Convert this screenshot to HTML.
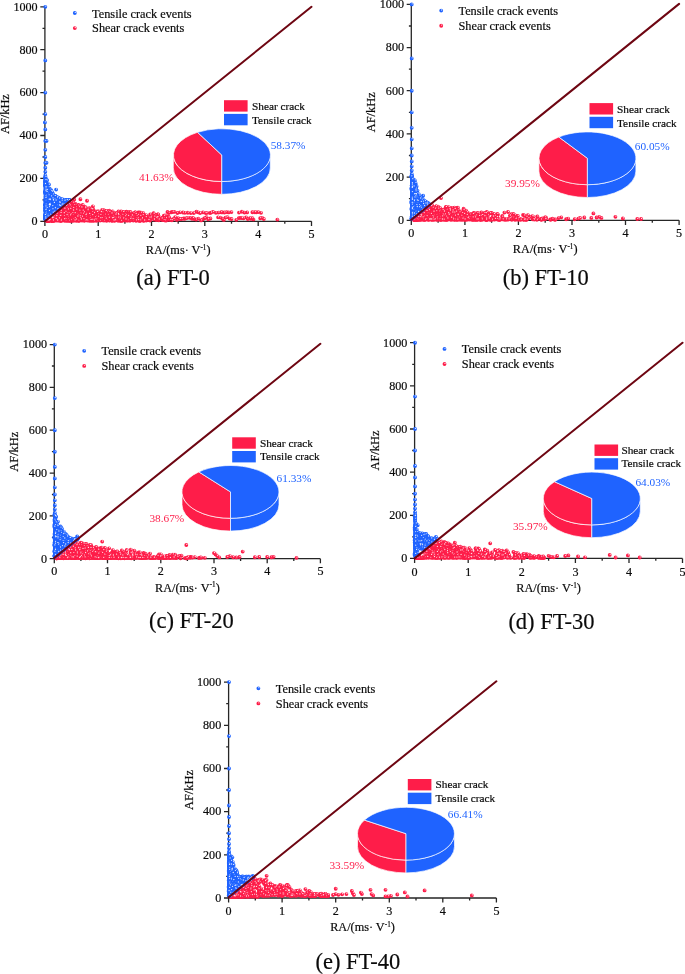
<!DOCTYPE html>
<html lang="en">
<head>
<meta charset="utf-8">
<title>RA-AF crack classification</title>
<style>
html,body{margin:0;padding:0;background:#fff;}
body{width:685px;height:974px;overflow:hidden;}
svg{display:block;font-family:"Liberation Serif", "DejaVu Serif", serif;}
.t{fill:#0a0a0a;stroke:#0a0a0a;stroke-width:.18px;}
.pb{fill:#1F63FF;stroke:#1F63FF;stroke-width:0;font-size:11.3px;}
.pr{fill:#FE1D49;stroke:#FE1D49;stroke-width:0;font-size:11.3px;}
.m{fill:none;stroke-width:3.85;stroke-linecap:round;}
.h{fill:none;stroke:#fff;stroke-width:1.3;stroke-linecap:round;stroke-opacity:.85;transform:translate(.5px,-.6px);}
</style>
</head>
<body>
<svg width="685" height="974" viewBox="0 0 685 974">
<rect width="685" height="974" fill="#fff"/>
<g id="panel-a">
<path d="M44.9 221.3v4.6M71.5 221.3v2.4M98.2 221.3v4.6M124.9 221.3v2.4M151.5 221.3v4.6M178.2 221.3v2.4M204.8 221.3v4.6M231.5 221.3v2.4M258.2 221.3v4.6M284.8 221.3v2.4M311.5 221.3v4.6M44.9 221.3h-4.6M44.9 199.9h-2.4M44.9 178.4h-4.6M44.9 157h-2.4M44.9 135.5h-4.6M44.9 114.1h-2.4M44.9 92.6h-4.6M44.9 71.2h-2.4M44.9 49.7h-4.6M44.9 28.3h-2.4M44.9 6.8h-4.6M44.9 6.8V221.3H311.5" fill="none" stroke="#262626" stroke-width="1.3"/>
<g class="t" font-size="12.1">
<text x="44.9" y="237.7" text-anchor="middle">0</text>
<text x="98.2" y="237.7" text-anchor="middle">1</text>
<text x="151.5" y="237.7" text-anchor="middle">2</text>
<text x="204.8" y="237.7" text-anchor="middle">3</text>
<text x="258.2" y="237.7" text-anchor="middle">4</text>
<text x="311.5" y="237.7" text-anchor="middle">5</text>
<text x="37.6" y="225.1" text-anchor="end">0</text>
<text x="37.6" y="182.2" text-anchor="end">200</text>
<text x="37.6" y="139.3" text-anchor="end">400</text>
<text x="37.6" y="96.4" text-anchor="end">600</text>
<text x="37.6" y="53.5" text-anchor="end">800</text>
<text x="37.6" y="10.6" text-anchor="end">1000</text>
<text x="178.2" y="254.2" text-anchor="middle" font-size="12.25">RA/(ms· V<tspan font-size="7.2" dy="-4.2">-1</tspan><tspan dy="4.2">)</tspan></text>
<text transform="translate(8.9 114.1) rotate(-90)" text-anchor="middle" font-size="12.4">AF/kHz</text>
<text x="92.1" y="17.5" font-size="12.3">Tensile crack events</text>
<text x="92.1" y="32.4" font-size="12.3">Shear crack events</text>
</g>
<g stroke="#FE1D49"><path class="m" d="M256.3 212.3h0M109.3 210.7h0M92.4 210.6h0M53.2 217.9h0M164.8 218.8h0M202.8 219.3h0M121.8 220.3h0M177.4 213h0M94.9 215.3h0M64.4 211.4h0M121.8 217.8h0M114.7 218.8h0M52.4 218.6h0M68.3 211.5h0M146.3 220.5h0M103.7 210.5h0M58.4 212.6h0M54.8 216.4h0M72.7 217.4h0M111.8 218.7h0M246.1 217.4h0M97.1 218.9h0M72.8 219.7h0M51.7 220.5h0M106.6 218h0M162.6 220.1h0M61.9 219.7h0M58.6 213.1h0M158 214.3h0M162.1 218.4h0"/><path class="h" d="M256.3 212.3h0M109.3 210.7h0M92.4 210.6h0M53.2 217.9h0M164.8 218.8h0M202.8 219.3h0M121.8 220.3h0M177.4 213h0M94.9 215.3h0M64.4 211.4h0M121.8 217.8h0M114.7 218.8h0M52.4 218.6h0M68.3 211.5h0M146.3 220.5h0M103.7 210.5h0M58.4 212.6h0M54.8 216.4h0M72.7 217.4h0M111.8 218.7h0M246.1 217.4h0M97.1 218.9h0M72.8 219.7h0M51.7 220.5h0M106.6 218h0M162.6 220.1h0M61.9 219.7h0M58.6 213.1h0M158 214.3h0M162.1 218.4h0"/><path class="m" d="M63.3 208.6h0M61.9 215.2h0M206.5 217.2h0M61.7 214.7h0M57.3 216.7h0M140.2 219h0M169.9 219h0M132.6 219.2h0M156.2 220h0M47.2 220.8h0M166.5 217.5h0M68 219.3h0M144.7 217.5h0M75.5 217.6h0M56.4 215.3h0M109 215.7h0M151.3 218.3h0M102.5 211.2h0M126.4 211.6h0M239 212.6h0M73.2 210.1h0M72.2 202.9h0M78.2 215.8h0M78 213.7h0M82.2 213.1h0M262.2 217.8h0M77.3 212.7h0M66.3 214.1h0M84.9 209h0M60.6 219h0"/><path class="h" d="M63.3 208.6h0M61.9 215.2h0M206.5 217.2h0M61.7 214.7h0M57.3 216.7h0M140.2 219h0M169.9 219h0M132.6 219.2h0M156.2 220h0M47.2 220.8h0M166.5 217.5h0M68 219.3h0M144.7 217.5h0M75.5 217.6h0M56.4 215.3h0M109 215.7h0M151.3 218.3h0M102.5 211.2h0M126.4 211.6h0M239 212.6h0M73.2 210.1h0M72.2 202.9h0M78.2 215.8h0M78 213.7h0M82.2 213.1h0M262.2 217.8h0M77.3 212.7h0M66.3 214.1h0M84.9 209h0M60.6 219h0"/><path class="m" d="M58.4 217.7h0M130.2 220.4h0M52.9 219.6h0M75.7 212.5h0M48.7 220.7h0M227.3 217.1h0M108.4 219.3h0M57.6 214.7h0M83.6 215.8h0M69.2 208.7h0M184.9 212.8h0M95.6 219.9h0M52.2 219.6h0M89.5 220.7h0M87 200.7h0M97.9 220.4h0M109.8 219.9h0M52.8 220.3h0M90.7 217.4h0M49 220.3h0M65.4 220.4h0M68.6 215.6h0M49.9 219.9h0M75.1 211.2h0M88.3 220.3h0M60 217.6h0M140.3 216.9h0M53.7 220.7h0M70.1 220.7h0M123.6 219.4h0"/><path class="h" d="M58.4 217.7h0M130.2 220.4h0M52.9 219.6h0M75.7 212.5h0M48.7 220.7h0M227.3 217.1h0M108.4 219.3h0M57.6 214.7h0M83.6 215.8h0M69.2 208.7h0M184.9 212.8h0M95.6 219.9h0M52.2 219.6h0M89.5 220.7h0M87 200.7h0M97.9 220.4h0M109.8 219.9h0M52.8 220.3h0M90.7 217.4h0M49 220.3h0M65.4 220.4h0M68.6 215.6h0M49.9 219.9h0M75.1 211.2h0M88.3 220.3h0M60 217.6h0M140.3 216.9h0M53.7 220.7h0M70.1 220.7h0M123.6 219.4h0"/><path class="m" d="M238.8 218.1h0M86.5 210.4h0M155.7 215h0M74.5 205.9h0M87.2 217h0M69.7 219.4h0M65.3 215.3h0M52.4 218.4h0M84.4 214.4h0M57.5 215h0M60.9 220.5h0M129.7 219.7h0M105.9 219.8h0M53.7 220.5h0M76.6 219.8h0M153.7 216.8h0M114.5 220.2h0M51.9 219.2h0M57.3 215.9h0M133.2 213.6h0M143.4 220.7h0M77.2 207.4h0M142.9 220.2h0M117.9 214.5h0M87.5 218.8h0M109 215.6h0M161.9 218.2h0M153.3 213.7h0M74.9 214.2h0M49.4 219.4h0"/><path class="h" d="M238.8 218.1h0M86.5 210.4h0M155.7 215h0M74.5 205.9h0M87.2 217h0M69.7 219.4h0M65.3 215.3h0M52.4 218.4h0M84.4 214.4h0M57.5 215h0M60.9 220.5h0M129.7 219.7h0M105.9 219.8h0M53.7 220.5h0M76.6 219.8h0M153.7 216.8h0M114.5 220.2h0M51.9 219.2h0M57.3 215.9h0M133.2 213.6h0M143.4 220.7h0M77.2 207.4h0M142.9 220.2h0M117.9 214.5h0M87.5 218.8h0M109 215.6h0M161.9 218.2h0M153.3 213.7h0M74.9 214.2h0M49.4 219.4h0"/><path class="m" d="M203 212.4h0M166.2 220.5h0M62.3 212.3h0M71.2 219.3h0M114.6 220.1h0M77.3 215.1h0M55.3 214.7h0M53.9 220.1h0M53 218.3h0M59.6 211.3h0M67.7 220.8h0M162.1 218.7h0M68.7 203.8h0M88.7 212h0M146 215.1h0M104.2 218.6h0M143.3 213.1h0M87.4 208.7h0M91.8 213.2h0M121.4 214.2h0M111.5 216.7h0M76.2 213.1h0M207.1 212.8h0M53.6 219.4h0M168.4 216.1h0M48.3 220.7h0M254.9 212.2h0M223.8 219.9h0M51.8 220.8h0M72.2 216.7h0"/><path class="h" d="M203 212.4h0M166.2 220.5h0M62.3 212.3h0M71.2 219.3h0M114.6 220.1h0M77.3 215.1h0M55.3 214.7h0M53.9 220.1h0M53 218.3h0M59.6 211.3h0M67.7 220.8h0M162.1 218.7h0M68.7 203.8h0M88.7 212h0M146 215.1h0M104.2 218.6h0M143.3 213.1h0M87.4 208.7h0M91.8 213.2h0M121.4 214.2h0M111.5 216.7h0M76.2 213.1h0M207.1 212.8h0M53.6 219.4h0M168.4 216.1h0M48.3 220.7h0M254.9 212.2h0M223.8 219.9h0M51.8 220.8h0M72.2 216.7h0"/><path class="m" d="M116.3 214h0M72.1 217.5h0M133.4 216.4h0M118.5 211.4h0M54.8 219.4h0M147.2 217.5h0M65.7 213.5h0M61.8 214.1h0M58.6 219.7h0M57.1 220h0M52.9 217.2h0M104 212.9h0M66.6 205.4h0M132.3 220.1h0M101.4 213.6h0M58.5 218.4h0M75.3 203.7h0M91.8 208.3h0M55.4 218.5h0M130.2 214.8h0M56.4 216.5h0M51.8 220.8h0M96.6 215.9h0M61.5 213.2h0M236.3 219.8h0M128.7 219.2h0M106.9 212.7h0M48.9 220h0M127.6 212.6h0M74.8 208h0"/><path class="h" d="M116.3 214h0M72.1 217.5h0M133.4 216.4h0M118.5 211.4h0M54.8 219.4h0M147.2 217.5h0M65.7 213.5h0M61.8 214.1h0M58.6 219.7h0M57.1 220h0M52.9 217.2h0M104 212.9h0M66.6 205.4h0M132.3 220.1h0M101.4 213.6h0M58.5 218.4h0M75.3 203.7h0M91.8 208.3h0M55.4 218.5h0M130.2 214.8h0M56.4 216.5h0M51.8 220.8h0M96.6 215.9h0M61.5 213.2h0M236.3 219.8h0M128.7 219.2h0M106.9 212.7h0M48.9 220h0M127.6 212.6h0M74.8 208h0"/><path class="m" d="M159 219.5h0M104.1 216.5h0M62 209.7h0M229.6 218.6h0M51.1 220h0M102.4 215.3h0M56.3 216.4h0M70.5 220h0M120.5 214.2h0M51.1 218.9h0M88.2 220.1h0M72.9 210.8h0M99.5 217.5h0M253.4 219.4h0M127.3 217.1h0M75.4 206h0M57.4 219.5h0M59.8 211.1h0M81.6 220.4h0M64.3 215.6h0M74.4 217.9h0M168.2 219.7h0M103.4 216.5h0M107.7 219.6h0M77.9 207.1h0M95.2 217.4h0M84.5 220.3h0M69.7 217.2h0M56.3 218.5h0M72.3 209.6h0"/><path class="h" d="M159 219.5h0M104.1 216.5h0M62 209.7h0M229.6 218.6h0M51.1 220h0M102.4 215.3h0M56.3 216.4h0M70.5 220h0M120.5 214.2h0M51.1 218.9h0M88.2 220.1h0M72.9 210.8h0M99.5 217.5h0M253.4 219.4h0M127.3 217.1h0M75.4 206h0M57.4 219.5h0M59.8 211.1h0M81.6 220.4h0M64.3 215.6h0M74.4 217.9h0M168.2 219.7h0M103.4 216.5h0M107.7 219.6h0M77.9 207.1h0M95.2 217.4h0M84.5 220.3h0M69.7 217.2h0M56.3 218.5h0M72.3 209.6h0"/><path class="m" d="M104.1 210.5h0M79.9 212.4h0M74.8 214.9h0M56.7 214.4h0M90.1 209.2h0M51.7 220.5h0M60 220.5h0M63 219.7h0M48.9 219.8h0M66.6 217.6h0M95.9 213.1h0M92.1 219.2h0M240.3 217.9h0M73.1 211h0M68.9 217.5h0M62 214.7h0M101.6 216.7h0M109.3 220.3h0M94.3 220.4h0M79.6 210.3h0M84.1 220.6h0M54.8 215.8h0M53.5 217.6h0M101.4 213.4h0M250.9 218.7h0M92.2 217.7h0M62.7 216.6h0M75.6 220.4h0M54.1 220.3h0M57.7 216h0"/><path class="h" d="M104.1 210.5h0M79.9 212.4h0M74.8 214.9h0M56.7 214.4h0M90.1 209.2h0M51.7 220.5h0M60 220.5h0M63 219.7h0M48.9 219.8h0M66.6 217.6h0M95.9 213.1h0M92.1 219.2h0M240.3 217.9h0M73.1 211h0M68.9 217.5h0M62 214.7h0M101.6 216.7h0M109.3 220.3h0M94.3 220.4h0M79.6 210.3h0M84.1 220.6h0M54.8 215.8h0M53.5 217.6h0M101.4 213.4h0M250.9 218.7h0M92.2 217.7h0M62.7 216.6h0M75.6 220.4h0M54.1 220.3h0M57.7 216h0"/><path class="m" d="M60.8 210.8h0M79.5 216.1h0M210.4 218.5h0M50.4 220.5h0M140.4 220.5h0M167.4 217.2h0M71.3 212.2h0M61.6 214.4h0M61.6 220h0M93.7 220.6h0M263.8 219h0M47.3 220.8h0M69.2 208.7h0M164.3 220.1h0M129.7 220.6h0M47.8 220.6h0M190.1 217.9h0M75.7 204.9h0M90.8 220.1h0M79 219.7h0M196.4 211.7h0M112.1 220.6h0M91.1 210.2h0M103.4 211.8h0M104.2 216.4h0M54.4 217.6h0M89.1 217.1h0M100.1 220.6h0M101.9 211.7h0M73.7 212.1h0"/><path class="h" d="M60.8 210.8h0M79.5 216.1h0M210.4 218.5h0M50.4 220.5h0M140.4 220.5h0M167.4 217.2h0M71.3 212.2h0M61.6 214.4h0M61.6 220h0M93.7 220.6h0M263.8 219h0M47.3 220.8h0M69.2 208.7h0M164.3 220.1h0M129.7 220.6h0M47.8 220.6h0M190.1 217.9h0M75.7 204.9h0M90.8 220.1h0M79 219.7h0M196.4 211.7h0M112.1 220.6h0M91.1 210.2h0M103.4 211.8h0M104.2 216.4h0M54.4 217.6h0M89.1 217.1h0M100.1 220.6h0M101.9 211.7h0M73.7 212.1h0"/><path class="m" d="M50.9 220.2h0M104.6 216.8h0M97.4 212.6h0M78.2 205.4h0M126.8 212h0M48.8 220.4h0M50.7 218.6h0M50.3 219.5h0M104.8 216.7h0M136.3 215.6h0M71.3 220.6h0M175.2 217.1h0M108.2 211h0M57.1 217.7h0M87.9 208.8h0M54.5 216.3h0M95.7 219.2h0M94.1 211.8h0M122 219.5h0M153.6 213.2h0M183.6 218.4h0M55.7 217h0M58 217.8h0M60.7 220.5h0M71.2 215.9h0M73.9 214.2h0M59.7 220.6h0M64.7 211h0M90.7 215.9h0M154 217.6h0"/><path class="h" d="M50.9 220.2h0M104.6 216.8h0M97.4 212.6h0M78.2 205.4h0M126.8 212h0M48.8 220.4h0M50.7 218.6h0M50.3 219.5h0M104.8 216.7h0M136.3 215.6h0M71.3 220.6h0M175.2 217.1h0M108.2 211h0M57.1 217.7h0M87.9 208.8h0M54.5 216.3h0M95.7 219.2h0M94.1 211.8h0M122 219.5h0M153.6 213.2h0M183.6 218.4h0M55.7 217h0M58 217.8h0M60.7 220.5h0M71.2 215.9h0M73.9 214.2h0M59.7 220.6h0M64.7 211h0M90.7 215.9h0M154 217.6h0"/><path class="m" d="M59.4 216.9h0M260.2 218.2h0M147.6 217.7h0M75.5 218.1h0M158.9 220.3h0M89.3 210.1h0M129.9 220.1h0M99.2 217.4h0M59.1 215.7h0M145.1 219.8h0M187.8 212.7h0M208.2 219.2h0M258.3 212.1h0M120.7 215.6h0M61.5 220.7h0M75.1 218h0M121.2 214.7h0M85.3 216h0M130.2 220h0M187.4 217.8h0M158 214.4h0M153.7 213.8h0M97.4 218.5h0M52.2 219.9h0M138.2 212.3h0M62.8 217.5h0M82 220.4h0M93.7 213.8h0M106.6 220.8h0M68.3 212.3h0"/><path class="h" d="M59.4 216.9h0M260.2 218.2h0M147.6 217.7h0M75.5 218.1h0M158.9 220.3h0M89.3 210.1h0M129.9 220.1h0M99.2 217.4h0M59.1 215.7h0M145.1 219.8h0M187.8 212.7h0M208.2 219.2h0M258.3 212.1h0M120.7 215.6h0M61.5 220.7h0M75.1 218h0M121.2 214.7h0M85.3 216h0M130.2 220h0M187.4 217.8h0M158 214.4h0M153.7 213.8h0M97.4 218.5h0M52.2 219.9h0M138.2 212.3h0M62.8 217.5h0M82 220.4h0M93.7 213.8h0M106.6 220.8h0M68.3 212.3h0"/><path class="m" d="M176.9 219.9h0M75.6 208.2h0M102.2 209.8h0M148.3 217h0M64.3 220.3h0M52.6 218.7h0M71.3 219.4h0M184.5 218.7h0M51.2 219.7h0M181.6 219h0M201.1 220.4h0M220.5 217.6h0M54.4 216.8h0M72.6 215.1h0M136 220.7h0M107.9 213.9h0M98.1 214.3h0M110.7 216.2h0M74 214.6h0M73.7 209.6h0M71.9 218.1h0M71.3 206.8h0M129.1 216.7h0M70.4 220.5h0M92.5 220.6h0M92.4 216.6h0M57.5 217.3h0M135.9 220.4h0M88.9 213h0M166.4 217.1h0"/><path class="h" d="M176.9 219.9h0M75.6 208.2h0M102.2 209.8h0M148.3 217h0M64.3 220.3h0M52.6 218.7h0M71.3 219.4h0M184.5 218.7h0M51.2 219.7h0M181.6 219h0M201.1 220.4h0M220.5 217.6h0M54.4 216.8h0M72.6 215.1h0M136 220.7h0M107.9 213.9h0M98.1 214.3h0M110.7 216.2h0M74 214.6h0M73.7 209.6h0M71.9 218.1h0M71.3 206.8h0M129.1 216.7h0M70.4 220.5h0M92.5 220.6h0M92.4 216.6h0M57.5 217.3h0M135.9 220.4h0M88.9 213h0M166.4 217.1h0"/><path class="m" d="M108.8 215.6h0M226.6 212.1h0M78.8 209.5h0M76.3 207.2h0M48.5 220.2h0M105.5 218.6h0M92.7 208.7h0M73 204.4h0M78.3 216.6h0M162.2 219.6h0M79.8 220.5h0M89 216.5h0M150 220.6h0M167.5 212h0M244.5 212.6h0M89.9 220h0M55.8 215.9h0M106.5 217.2h0M47.8 220.7h0M225.5 217.6h0M53 217.5h0M142.4 215.1h0M52.8 218.3h0M47.1 220.8h0M78.1 215.5h0M164.8 220.3h0M80.7 218.2h0M109.3 220.6h0M68 217.8h0M51.8 220.5h0"/><path class="h" d="M108.8 215.6h0M226.6 212.1h0M78.8 209.5h0M76.3 207.2h0M48.5 220.2h0M105.5 218.6h0M92.7 208.7h0M73 204.4h0M78.3 216.6h0M162.2 219.6h0M79.8 220.5h0M89 216.5h0M150 220.6h0M167.5 212h0M244.5 212.6h0M89.9 220h0M55.8 215.9h0M106.5 217.2h0M47.8 220.7h0M225.5 217.6h0M53 217.5h0M142.4 215.1h0M52.8 218.3h0M47.1 220.8h0M78.1 215.5h0M164.8 220.3h0M80.7 218.2h0M109.3 220.6h0M68 217.8h0M51.8 220.5h0"/><path class="m" d="M63.6 209.1h0M52.1 217.2h0M135.9 217.6h0M128.4 215.2h0M53.9 220.6h0M73 202.7h0M120.5 220.7h0M133.3 220.5h0M135.3 212.5h0M54.7 217.7h0M48.9 219.7h0M168.9 212.9h0M58.6 220.6h0M252.4 212.2h0M168.8 217.6h0M130.8 214.7h0M57.7 216.7h0M82.6 207.6h0M116.2 214.8h0M55.5 215.8h0M123.3 214.4h0M54.4 215.5h0M103.4 216h0M164 215.7h0M62.9 220.3h0M119.4 220.6h0M125 219.5h0M87.6 218.2h0M53.7 220.5h0M83.2 213.6h0"/><path class="h" d="M63.6 209.1h0M52.1 217.2h0M135.9 217.6h0M128.4 215.2h0M53.9 220.6h0M73 202.7h0M120.5 220.7h0M133.3 220.5h0M135.3 212.5h0M54.7 217.7h0M48.9 219.7h0M168.9 212.9h0M58.6 220.6h0M252.4 212.2h0M168.8 217.6h0M130.8 214.7h0M57.7 216.7h0M82.6 207.6h0M116.2 214.8h0M55.5 215.8h0M123.3 214.4h0M54.4 215.5h0M103.4 216h0M164 215.7h0M62.9 220.3h0M119.4 220.6h0M125 219.5h0M87.6 218.2h0M53.7 220.5h0M83.2 213.6h0"/><path class="m" d="M50.3 219.4h0M64.5 219.1h0M78.6 205h0M110 218.7h0M132.5 219.1h0M74.1 211h0M120.3 216.3h0M112.7 218.6h0M90.7 214.3h0M79.7 205.5h0M130.3 211.8h0M81.8 209.9h0M87.6 216h0M261 212.8h0M72.5 220.7h0M52.2 218.6h0M65.8 212.3h0M135.2 212.4h0M50.8 218.2h0M148.7 219.2h0M125.9 215.8h0M56.9 217.9h0M59.7 217.8h0M198.2 212.3h0M73.4 202.7h0M133.7 213.2h0M65.7 210h0M53.7 220.4h0M87.8 211.5h0M96.2 220.8h0"/><path class="h" d="M50.3 219.4h0M64.5 219.1h0M78.6 205h0M110 218.7h0M132.5 219.1h0M74.1 211h0M120.3 216.3h0M112.7 218.6h0M90.7 214.3h0M79.7 205.5h0M130.3 211.8h0M81.8 209.9h0M87.6 216h0M261 212.8h0M72.5 220.7h0M52.2 218.6h0M65.8 212.3h0M135.2 212.4h0M50.8 218.2h0M148.7 219.2h0M125.9 215.8h0M56.9 217.9h0M59.7 217.8h0M198.2 212.3h0M73.4 202.7h0M133.7 213.2h0M65.7 210h0M53.7 220.4h0M87.8 211.5h0M96.2 220.8h0"/><path class="m" d="M69.1 211.2h0M59.6 216.7h0M83.8 218.7h0M164.5 216.9h0M213 211.9h0M166 218.1h0M128.3 214.2h0M64.5 213.8h0M125.2 214.6h0M162.1 217.9h0M87.6 220.6h0M84.4 218.4h0M55.1 215.9h0M66.9 219.6h0M247.1 212.4h0M55.2 216.1h0M123.9 212.3h0M127.5 220.5h0M61.1 213.2h0M71.6 204.3h0M168.6 217.2h0M86.1 220.4h0M121.1 211.5h0M58.6 219.7h0M63.8 209.2h0M114.4 216.9h0M109.5 213.7h0M95.5 219.5h0M87.3 212h0M61.6 214.8h0"/><path class="h" d="M69.1 211.2h0M59.6 216.7h0M83.8 218.7h0M164.5 216.9h0M213 211.9h0M166 218.1h0M128.3 214.2h0M64.5 213.8h0M125.2 214.6h0M162.1 217.9h0M87.6 220.6h0M84.4 218.4h0M55.1 215.9h0M66.9 219.6h0M247.1 212.4h0M55.2 216.1h0M123.9 212.3h0M127.5 220.5h0M61.1 213.2h0M71.6 204.3h0M168.6 217.2h0M86.1 220.4h0M121.1 211.5h0M58.6 219.7h0M63.8 209.2h0M114.4 216.9h0M109.5 213.7h0M95.5 219.5h0M87.3 212h0M61.6 214.8h0"/><path class="m" d="M48.8 220.4h0M50.6 220h0M66.5 217.9h0M62.9 213.3h0M168.7 217.5h0M165.1 220.4h0M56.5 218.7h0M49.5 220.1h0M68.6 211.8h0M76.4 217h0M158.5 219.8h0M61.4 216h0M93.4 219.8h0M89.8 218.5h0M53.6 218h0M70.5 210h0M67.1 210.5h0M60 218.2h0M222.5 218.7h0M210 213.1h0M139 220.7h0M73.5 220.4h0M59.5 214.4h0M129.4 217.9h0M66.2 220.7h0M47.6 220.7h0M60.5 219.4h0M65.5 210.7h0M126.7 218.4h0M60.6 217.7h0"/><path class="h" d="M48.8 220.4h0M50.6 220h0M66.5 217.9h0M62.9 213.3h0M168.7 217.5h0M165.1 220.4h0M56.5 218.7h0M49.5 220.1h0M68.6 211.8h0M76.4 217h0M158.5 219.8h0M61.4 216h0M93.4 219.8h0M89.8 218.5h0M53.6 218h0M70.5 210h0M67.1 210.5h0M60 218.2h0M222.5 218.7h0M210 213.1h0M139 220.7h0M73.5 220.4h0M59.5 214.4h0M129.4 217.9h0M66.2 220.7h0M47.6 220.7h0M60.5 219.4h0M65.5 210.7h0M126.7 218.4h0M60.6 217.7h0"/><path class="m" d="M60.9 218.3h0M84.4 220.6h0M48.5 220.4h0M55.2 215.5h0M71.5 202h0M47.9 220.5h0M200.1 213.1h0M163.6 220h0M228.6 212.4h0M190.8 213.1h0M111.9 220.8h0M83.6 207.4h0M114.5 219.8h0M47.7 220.6h0M157.2 219.1h0M121.7 214h0M72.4 204.4h0M160.1 217.4h0M93.2 209.4h0M78.5 205.7h0M83 220.4h0M66.6 217.1h0M119.5 220.2h0M73.2 207.9h0M222.4 212.4h0M91.5 220.8h0M95 212.8h0M80.9 206h0M111.9 220.7h0M106.5 219.6h0"/><path class="h" d="M60.9 218.3h0M84.4 220.6h0M48.5 220.4h0M55.2 215.5h0M71.5 202h0M47.9 220.5h0M200.1 213.1h0M163.6 220h0M228.6 212.4h0M190.8 213.1h0M111.9 220.8h0M83.6 207.4h0M114.5 219.8h0M47.7 220.6h0M157.2 219.1h0M121.7 214h0M72.4 204.4h0M160.1 217.4h0M93.2 209.4h0M78.5 205.7h0M83 220.4h0M66.6 217.1h0M119.5 220.2h0M73.2 207.9h0M222.4 212.4h0M91.5 220.8h0M95 212.8h0M80.9 206h0M111.9 220.7h0M106.5 219.6h0"/><path class="m" d="M114.5 220.5h0M99.7 216h0M144.9 218.6h0M118.4 220.6h0M55.9 216.3h0M77 211h0M71.8 219.4h0M103.9 215h0M123.5 218h0M106 215.2h0M116.3 219.9h0M85.5 214.7h0M85.1 207h0M68.5 212.9h0M71.8 216.4h0M114.6 219.1h0M52.3 217.2h0M91.4 215.4h0M105.7 211.7h0M205.7 213.1h0M74.7 213.3h0M90.4 220.4h0M69.8 208.5h0M50.1 219.8h0M243.6 218.3h0M110.6 217.6h0M194.2 219.1h0M104.1 216.3h0M74.1 204.8h0M64.1 215.1h0"/><path class="h" d="M114.5 220.5h0M99.7 216h0M144.9 218.6h0M118.4 220.6h0M55.9 216.3h0M77 211h0M71.8 219.4h0M103.9 215h0M123.5 218h0M106 215.2h0M116.3 219.9h0M85.5 214.7h0M85.1 207h0M68.5 212.9h0M71.8 216.4h0M114.6 219.1h0M52.3 217.2h0M91.4 215.4h0M105.7 211.7h0M205.7 213.1h0M74.7 213.3h0M90.4 220.4h0M69.8 208.5h0M50.1 219.8h0M243.6 218.3h0M110.6 217.6h0M194.2 219.1h0M104.1 216.3h0M74.1 204.8h0M64.1 215.1h0"/><path class="m" d="M56 215.7h0M48.8 219.7h0M91.7 219.3h0M66.7 210.7h0M116.5 212.9h0M109.5 211.9h0M63.8 220.4h0M218.1 217.3h0M196.1 219.5h0M65 212.6h0M192 218.7h0M150 219.1h0M64.3 217.6h0M178.1 218.1h0M122.3 220.6h0M131.9 215.5h0M87.3 209.8h0M125.8 218.7h0M65.1 207.4h0M67.3 213.7h0M69.1 220.7h0M171.4 212.2h0M93.7 220.6h0M87.6 211.3h0M82.1 216.8h0M105.2 216.8h0M107.2 216.3h0M127.7 216.6h0M114.2 219.4h0M74.9 218.2h0"/><path class="h" d="M56 215.7h0M48.8 219.7h0M91.7 219.3h0M66.7 210.7h0M116.5 212.9h0M109.5 211.9h0M63.8 220.4h0M218.1 217.3h0M196.1 219.5h0M65 212.6h0M192 218.7h0M150 219.1h0M64.3 217.6h0M178.1 218.1h0M122.3 220.6h0M131.9 215.5h0M87.3 209.8h0M125.8 218.7h0M65.1 207.4h0M67.3 213.7h0M69.1 220.7h0M171.4 212.2h0M93.7 220.6h0M87.6 211.3h0M82.1 216.8h0M105.2 216.8h0M107.2 216.3h0M127.7 216.6h0M114.2 219.4h0M74.9 218.2h0"/><path class="m" d="M53.2 218h0M89.3 208.2h0M139.6 212.5h0M49 220.6h0M77.2 215h0M221.2 212.2h0M99.3 217.9h0M54.3 216.4h0M83.5 219.2h0M102.3 212.4h0M105.9 216.2h0M59.7 216.7h0M130 218.4h0M58 217.4h0M91.6 211.6h0M52 217.1h0M241.9 211.7h0M80.6 213.3h0M72.4 215h0M53.4 219.2h0M150.2 214.5h0M74.2 199.4h0M110.5 217.5h0M101.7 218.1h0M60.6 213h0M69.9 208.5h0M91.2 211.8h0M98.2 216.8h0M140.2 220.7h0M113.6 213h0"/><path class="h" d="M53.2 218h0M89.3 208.2h0M139.6 212.5h0M49 220.6h0M77.2 215h0M221.2 212.2h0M99.3 217.9h0M54.3 216.4h0M83.5 219.2h0M102.3 212.4h0M105.9 216.2h0M59.7 216.7h0M130 218.4h0M58 217.4h0M91.6 211.6h0M52 217.1h0M241.9 211.7h0M80.6 213.3h0M72.4 215h0M53.4 219.2h0M150.2 214.5h0M74.2 199.4h0M110.5 217.5h0M101.7 218.1h0M60.6 213h0M69.9 208.5h0M91.2 211.8h0M98.2 216.8h0M140.2 220.7h0M113.6 213h0"/><path class="m" d="M64.2 217h0M68.9 204h0M128.7 212.1h0M128.1 220.4h0M126 215.2h0M204.6 218.2h0M173.5 218.9h0M49.1 220.4h0M122.5 220.6h0M87.6 208.7h0M119.6 218.1h0M211.1 212.6h0M122.4 214.6h0M60.5 216.7h0M68.9 214.6h0M117.7 220.5h0M165.1 215.5h0M145.8 217.2h0M68 218.4h0M180 212.3h0M103.6 215.5h0M53.1 217.8h0M60.8 220.6h0M73.4 219.4h0M72.7 220.3h0M92.9 206.3h0M50.4 218.8h0M142.7 215.2h0M125 220.4h0M92.2 220h0"/><path class="h" d="M64.2 217h0M68.9 204h0M128.7 212.1h0M128.1 220.4h0M126 215.2h0M204.6 218.2h0M173.5 218.9h0M49.1 220.4h0M122.5 220.6h0M87.6 208.7h0M119.6 218.1h0M211.1 212.6h0M122.4 214.6h0M60.5 216.7h0M68.9 214.6h0M117.7 220.5h0M165.1 215.5h0M145.8 217.2h0M68 218.4h0M180 212.3h0M103.6 215.5h0M53.1 217.8h0M60.8 220.6h0M73.4 219.4h0M72.7 220.3h0M92.9 206.3h0M50.4 218.8h0M142.7 215.2h0M125 220.4h0M92.2 220h0"/><path class="m" d="M55.2 218h0M83 206.3h0M71.4 220.2h0M56.1 218.7h0M67.1 205h0M112.3 219h0M54.6 216.4h0M193.8 213.1h0M80 218h0M115.1 220.5h0M48.3 220.6h0M125.5 219.8h0M53.9 219.6h0M78.3 215.7h0M55.2 217.7h0M80.4 199.2h0M65.3 219.1h0M55.2 214.7h0M57.2 216.9h0M144.2 220.6h0M53.4 216.8h0M79.8 206h0M85.3 208.3h0M114.5 219.7h0M68.8 210.2h0M73.3 202.7h0M105.8 212.1h0M56.1 219.3h0M163.9 217.6h0M130.6 217.7h0"/><path class="h" d="M55.2 218h0M83 206.3h0M71.4 220.2h0M56.1 218.7h0M67.1 205h0M112.3 219h0M54.6 216.4h0M193.8 213.1h0M80 218h0M115.1 220.5h0M48.3 220.6h0M125.5 219.8h0M53.9 219.6h0M78.3 215.7h0M55.2 217.7h0M80.4 199.2h0M65.3 219.1h0M55.2 214.7h0M57.2 216.9h0M144.2 220.6h0M53.4 216.8h0M79.8 206h0M85.3 208.3h0M114.5 219.7h0M68.8 210.2h0M73.3 202.7h0M105.8 212.1h0M56.1 219.3h0M163.9 217.6h0M130.6 217.7h0"/><path class="m" d="M80.2 206.8h0M115.9 213.8h0M73.5 220.3h0M76.7 220.7h0M95.5 213.3h0M55.7 220.5h0M174.3 211.9h0M215.9 212.8h0M107.5 214.8h0M179.8 219h0M130.4 220.4h0M53.8 215.8h0M104.8 217.7h0M193 217.9h0M80.7 207.1h0M139.6 220.4h0M65.5 211.7h0M78.8 220.5h0M49.6 219.9h0M56.4 219.3h0M108.9 217.8h0M66.1 205.9h0M183 212.5h0M164.1 215.8h0M85.9 216.4h0M48.9 219.8h0M158.8 219.5h0M126.1 220.6h0M102.7 220.4h0M52.4 217.2h0"/><path class="h" d="M80.2 206.8h0M115.9 213.8h0M73.5 220.3h0M76.7 220.7h0M95.5 213.3h0M55.7 220.5h0M174.3 211.9h0M215.9 212.8h0M107.5 214.8h0M179.8 219h0M130.4 220.4h0M53.8 215.8h0M104.8 217.7h0M193 217.9h0M80.7 207.1h0M139.6 220.4h0M65.5 211.7h0M78.8 220.5h0M49.6 219.9h0M56.4 219.3h0M108.9 217.8h0M66.1 205.9h0M183 212.5h0M164.1 215.8h0M85.9 216.4h0M48.9 219.8h0M158.8 219.5h0M126.1 220.6h0M102.7 220.4h0M52.4 217.2h0"/><path class="m" d="M82.1 210.7h0M125.4 216.3h0M139.1 213.2h0M69 210.1h0M118.3 215.2h0M47.3 220.8h0M100.4 214.8h0M56.7 213.7h0M55.8 217.4h0M118 214.1h0M277.4 219.6h0M113.2 217.9h0M138.1 214.9h0M252.3 218.2h0M121 220.7h0M123.3 212h0M130.3 218.9h0M198.5 218.6h0M112 218.3h0M67.7 215.5h0M48.8 220.4h0M67.8 216.6h0M138 220.2h0M93.7 212.9h0M69.7 205.4h0M52.1 219.3h0M78.3 205.7h0M72.3 213h0M53.2 217.2h0M218.5 212.6h0"/><path class="h" d="M82.1 210.7h0M125.4 216.3h0M139.1 213.2h0M69 210.1h0M118.3 215.2h0M47.3 220.8h0M100.4 214.8h0M56.7 213.7h0M55.8 217.4h0M118 214.1h0M277.4 219.6h0M113.2 217.9h0M138.1 214.9h0M252.3 218.2h0M121 220.7h0M123.3 212h0M130.3 218.9h0M198.5 218.6h0M112 218.3h0M67.7 215.5h0M48.8 220.4h0M67.8 216.6h0M138 220.2h0M93.7 212.9h0M69.7 205.4h0M52.1 219.3h0M78.3 205.7h0M72.3 213h0M53.2 217.2h0M218.5 212.6h0"/><path class="m" d="M185.8 218.4h0M92.1 215.1h0M106.4 213.2h0M140.3 215.8h0M53.8 218.4h0M86.8 212h0M149.5 217.7h0M148.5 220.1h0M63.5 208.5h0M92.3 210.8h0M82.7 210.7h0M66.6 215.2h0M119.9 218.6h0M70.6 214.4h0M93 215h0M52.4 218.3h0M49.3 219.6h0M104.1 220.5h0M90.6 220h0M241.9 218.1h0M86 217h0M116.1 213.6h0M86.3 213.9h0M75.9 219.6h0M61 215.9h0M76.3 209.7h0M48.4 220.8h0M48 220.4h0M97.6 211.4h0M85 216.3h0"/><path class="h" d="M185.8 218.4h0M92.1 215.1h0M106.4 213.2h0M140.3 215.8h0M53.8 218.4h0M86.8 212h0M149.5 217.7h0M148.5 220.1h0M63.5 208.5h0M92.3 210.8h0M82.7 210.7h0M66.6 215.2h0M119.9 218.6h0M70.6 214.4h0M93 215h0M52.4 218.3h0M49.3 219.6h0M104.1 220.5h0M90.6 220h0M241.9 218.1h0M86 217h0M116.1 213.6h0M86.3 213.9h0M75.9 219.6h0M61 215.9h0M76.3 209.7h0M48.4 220.8h0M48 220.4h0M97.6 211.4h0M85 216.3h0"/><path class="m" d="M247.8 219.1h0M48 220.6h0M87.6 210.3h0M224.4 212.5h0M95.6 211.5h0M105.8 218.7h0M94.2 213.1h0M79.2 207.1h0M46.7 220.4h0M64.6 220.5h0M56.3 216.1h0M141 212.7h0M48.1 220.6h0M64.4 208.8h0M74.6 220.5h0M52.2 218.4h0M118.3 217.1h0M105.1 214.4h0M70.1 215.4h0M48.7 220h0M171.9 220.2h0M136.5 215.9h0M154.3 216.7h0M63.9 215.6h0M52.8 217.7h0M136 220.4h0M88.3 215.3h0M51.8 217.4h0M79.8 216.5h0M79.4 210.7h0"/><path class="h" d="M247.8 219.1h0M48 220.6h0M87.6 210.3h0M224.4 212.5h0M95.6 211.5h0M105.8 218.7h0M94.2 213.1h0M79.2 207.1h0M46.7 220.4h0M64.6 220.5h0M56.3 216.1h0M141 212.7h0M48.1 220.6h0M64.4 208.8h0M74.6 220.5h0M52.2 218.4h0M118.3 217.1h0M105.1 214.4h0M70.1 215.4h0M48.7 220h0M171.9 220.2h0M136.5 215.9h0M154.3 216.7h0M63.9 215.6h0M52.8 217.7h0M136 220.4h0M88.3 215.3h0M51.8 217.4h0M79.8 216.5h0M79.4 210.7h0"/><path class="m" d="M77.4 216.6h0M111 214.9h0M118.9 219.2h0M59.9 215.9h0M135.7 213.9h0M89.6 215.6h0M97 212h0M70.3 208.9h0M123.3 218.6h0M64.2 219.3h0M98.7 211.5h0M68 209.5h0M106.9 212.2h0M80.2 218.1h0M73 210.5h0M124.4 219.4h0M115.6 214.5h0M63.8 213.3h0M92.2 211.7h0M59 218.4h0M100.4 218.3h0M57.2 220.6h0M105.7 211.6h0M78.7 220.8h0M231.4 212.1h0M115.5 214.7h0M250 218.2h0M55.7 219.1h0M128.1 215.9h0M231.5 219h0"/><path class="h" d="M77.4 216.6h0M111 214.9h0M118.9 219.2h0M59.9 215.9h0M135.7 213.9h0M89.6 215.6h0M97 212h0M70.3 208.9h0M123.3 218.6h0M64.2 219.3h0M98.7 211.5h0M68 209.5h0M106.9 212.2h0M80.2 218.1h0M73 210.5h0M124.4 219.4h0M115.6 214.5h0M63.8 213.3h0M92.2 211.7h0M59 218.4h0M100.4 218.3h0M57.2 220.6h0M105.7 211.6h0M78.7 220.8h0M231.4 212.1h0M115.5 214.7h0M250 218.2h0M55.7 219.1h0M128.1 215.9h0M231.5 219h0"/><path class="m" d="M81.4 207.5h0M89.2 214h0M170.4 220h0M125.5 219.5h0M161.7 218.5h0M92 209.3h0M49.5 220.1h0M85.6 215.1h0M80.9 219.5h0M82.7 205h0M112.6 211.3h0M53 220.5h0M47.6 220.6h0M111.5 213.5h0M130.3 212.3h0M118.2 217.7h0M48.8 220.5h0M113.6 220.6h0M154 219.6h0M105.8 211h0M172.8 211.8h0M90.8 208.7h0M100.9 212.1h0M74.8 28.1h0"/><path class="h" d="M81.4 207.5h0M89.2 214h0M170.4 220h0M125.5 219.5h0M161.7 218.5h0M92 209.3h0M49.5 220.1h0M85.6 215.1h0M80.9 219.5h0M82.7 205h0M112.6 211.3h0M53 220.5h0M47.6 220.6h0M111.5 213.5h0M130.3 212.3h0M118.2 217.7h0M48.8 220.5h0M113.6 220.6h0M154 219.6h0M105.8 211h0M172.8 211.8h0M90.8 208.7h0M100.9 212.1h0M74.8 28.1h0"/></g>
<g stroke="#1F63FF"><path class="m" d="M45.5 196.1h0M54.1 208.6h0M56.7 205.6h0M53.8 211.2h0M58.8 204.7h0M53.3 195h0M60.2 205.3h0M67.6 200.9h0M52.3 211h0M45.5 194.5h0M62.1 202.8h0M63.1 202.5h0M45.6 205.6h0M65.6 203.1h0M63.4 204h0M54.5 201.3h0M52.2 212.9h0M52.9 210.8h0M59.9 202h0M47.5 212.7h0M46.2 180.9h0M65 200.8h0M48.6 184.1h0M45.5 178h0M45.9 212.4h0M54.4 209.2h0M60 207.2h0M67.7 201.4h0M62.5 205.6h0M57.3 203.3h0"/><path class="h" d="M45.5 196.1h0M54.1 208.6h0M56.7 205.6h0M53.8 211.2h0M58.8 204.7h0M53.3 195h0M60.2 205.3h0M67.6 200.9h0M52.3 211h0M45.5 194.5h0M62.1 202.8h0M63.1 202.5h0M45.6 205.6h0M65.6 203.1h0M63.4 204h0M54.5 201.3h0M52.2 212.9h0M52.9 210.8h0M59.9 202h0M47.5 212.7h0M46.2 180.9h0M65 200.8h0M48.6 184.1h0M45.5 178h0M45.9 212.4h0M54.4 209.2h0M60 207.2h0M67.7 201.4h0M62.5 205.6h0M57.3 203.3h0"/><path class="m" d="M45.5 212.7h0M45.3 191.7h0M46.9 204.4h0M45.5 218.3h0M45.5 209.6h0M45.1 192.3h0M64.3 201.1h0M68.6 200.3h0M56 210.2h0M46.8 205.2h0M50.2 212.6h0M47.6 193.3h0M62.1 200.6h0M46.3 217.4h0M62.3 205.2h0M60.9 205.7h0M58.8 207.2h0M67.5 201.6h0M67.3 201.4h0M66.4 200.6h0M46.7 187.2h0M49.7 189.2h0M45.5 204.3h0M45.5 209h0M45.9 193.8h0M59.9 207.7h0M48.9 184.8h0M52.5 203.6h0M59.5 204h0M55.6 203.3h0"/><path class="h" d="M45.5 212.7h0M45.3 191.7h0M46.9 204.4h0M45.5 218.3h0M45.5 209.6h0M45.1 192.3h0M64.3 201.1h0M68.6 200.3h0M56 210.2h0M46.8 205.2h0M50.2 212.6h0M47.6 193.3h0M62.1 200.6h0M46.3 217.4h0M62.3 205.2h0M60.9 205.7h0M58.8 207.2h0M67.5 201.6h0M67.3 201.4h0M66.4 200.6h0M46.7 187.2h0M49.7 189.2h0M45.5 204.3h0M45.5 209h0M45.9 193.8h0M59.9 207.7h0M48.9 184.8h0M52.5 203.6h0M59.5 204h0M55.6 203.3h0"/><path class="m" d="M54.6 206.9h0M58.6 203.4h0M53.4 212.3h0M57.2 206.8h0M56.1 209.5h0M45 204.8h0M57.5 200.1h0M55.7 198.1h0M47.2 200.4h0M45.5 184.6h0M56.1 208.7h0M63.3 204.5h0M49.4 198.6h0M50.8 193.2h0M50.7 207.5h0M57.2 206.1h0M68.7 200.2h0M50.4 189.6h0M63.6 204.7h0M44.9 185.5h0M63.5 201.9h0M53.3 210.3h0M53.2 196.5h0M68.7 200.3h0M61.8 201.3h0M45.5 211.1h0M45.7 210.2h0M58.3 204.2h0M65.3 200.5h0M45.5 208.4h0"/><path class="h" d="M54.6 206.9h0M58.6 203.4h0M53.4 212.3h0M57.2 206.8h0M56.1 209.5h0M45 204.8h0M57.5 200.1h0M55.7 198.1h0M47.2 200.4h0M45.5 184.6h0M56.1 208.7h0M63.3 204.5h0M49.4 198.6h0M50.8 193.2h0M50.7 207.5h0M57.2 206.1h0M68.7 200.2h0M50.4 189.6h0M63.6 204.7h0M44.9 185.5h0M63.5 201.9h0M53.3 210.3h0M53.2 196.5h0M68.7 200.3h0M61.8 201.3h0M45.5 211.1h0M45.7 210.2h0M58.3 204.2h0M65.3 200.5h0M45.5 208.4h0"/><path class="m" d="M58.3 207.7h0M59.1 202.9h0M69.1 200.1h0M50.8 209.7h0M65.5 203.1h0M45.5 201.2h0M58.8 200.4h0M47 191.1h0M48.2 190.3h0M63.6 204.4h0M64.5 203.8h0M47 180.1h0M45.3 167.7h0M53.9 203.7h0M50.6 189.7h0M64.2 200.6h0M61.5 202.7h0M54.5 195.6h0M62.7 204.4h0M52.6 210.3h0M50.1 208.4h0M48 212.5h0M54.7 202.5h0M45.5 185.1h0M58.1 199.9h0M45.3 6.8h0M55.6 211.1h0M54.6 202.8h0M45.5 186.4h0M55.2 206.4h0"/><path class="h" d="M58.3 207.7h0M59.1 202.9h0M69.1 200.1h0M50.8 209.7h0M65.5 203.1h0M45.5 201.2h0M58.8 200.4h0M47 191.1h0M48.2 190.3h0M63.6 204.4h0M64.5 203.8h0M47 180.1h0M45.3 167.7h0M53.9 203.7h0M50.6 189.7h0M64.2 200.6h0M61.5 202.7h0M54.5 195.6h0M62.7 204.4h0M52.6 210.3h0M50.1 208.4h0M48 212.5h0M54.7 202.5h0M45.5 185.1h0M58.1 199.9h0M45.3 6.8h0M55.6 211.1h0M54.6 202.8h0M45.5 186.4h0M55.2 206.4h0"/><path class="m" d="M59.6 198.9h0M44.9 122.4h0M56.2 201.1h0M66.2 201.9h0M50.2 191.2h0M46.5 140.9h0M66.5 201.9h0M53.2 194h0M45.3 171.8h0M53.4 202.5h0M68.6 200.3h0M63.2 204.6h0M44.9 177.4h0M45.5 183.1h0M55.7 210.6h0M49.1 213.3h0M55 197.4h0M57.2 199.3h0M53.6 207.7h0M45 210.5h0M45.5 217.9h0M65.9 200.2h0M45.5 208h0M45.8 182.7h0M51.2 196h0M65.9 201.4h0M54.3 210.3h0M63.8 199.7h0M47.2 216.3h0M45.8 186.2h0"/><path class="h" d="M59.6 198.9h0M44.9 122.4h0M56.2 201.1h0M66.2 201.9h0M50.2 191.2h0M46.5 140.9h0M66.5 201.9h0M53.2 194h0M45.3 171.8h0M53.4 202.5h0M68.6 200.3h0M63.2 204.6h0M44.9 177.4h0M45.5 183.1h0M55.7 210.6h0M49.1 213.3h0M55 197.4h0M57.2 199.3h0M53.6 207.7h0M45 210.5h0M45.5 217.9h0M65.9 200.2h0M45.5 208h0M45.8 182.7h0M51.2 196h0M65.9 201.4h0M54.3 210.3h0M63.8 199.7h0M47.2 216.3h0M45.8 186.2h0"/><path class="m" d="M61.6 203h0M46 199.2h0M44.9 219.1h0M61.3 205.3h0M54.3 210.4h0M49.1 188.9h0M59.8 206.7h0M45.5 199.4h0M46.9 205.8h0M56.3 209.9h0M53.2 197.8h0M57.6 207.5h0M62.4 201.8h0M68.8 200.5h0M46.8 208.9h0M67.7 200.3h0M67.3 200.1h0M54.5 211.2h0M59.2 207.6h0M50.1 200.5h0M59.5 199.2h0M45.5 185.8h0M48.9 201.3h0M58.7 204.2h0M45.5 187.6h0M45.3 149.8h0M57.4 203.3h0M59 198.5h0M49 207.2h0M52.1 197.2h0"/><path class="h" d="M61.6 203h0M46 199.2h0M44.9 219.1h0M61.3 205.3h0M54.3 210.4h0M49.1 188.9h0M59.8 206.7h0M45.5 199.4h0M46.9 205.8h0M56.3 209.9h0M53.2 197.8h0M57.6 207.5h0M62.4 201.8h0M68.8 200.5h0M46.8 208.9h0M67.7 200.3h0M67.3 200.1h0M54.5 211.2h0M59.2 207.6h0M50.1 200.5h0M59.5 199.2h0M45.5 185.8h0M48.9 201.3h0M58.7 204.2h0M45.5 187.6h0M45.3 149.8h0M57.4 203.3h0M59 198.5h0M49 207.2h0M52.1 197.2h0"/><path class="m" d="M48.6 211.3h0M45.9 212.6h0M60.9 206.7h0M45.8 218.6h0M67.2 201.1h0M60.2 206.5h0M59.9 202.6h0M53.7 201.9h0M51.7 208.8h0M62.2 201.2h0M58.7 207.1h0M44.9 182.1h0M46.6 214.4h0M67.6 200.3h0M47.7 202.3h0M62.9 204.2h0M45.5 184.2h0M45.5 214.1h0M47.3 194.4h0M44.9 182h0M64.3 202.2h0M55.9 196.3h0M65.3 203.2h0M45.5 190.6h0M57.3 199.8h0M58.1 208.9h0M45.5 192.9h0M56.4 210.5h0M45.5 215.7h0M45.5 211.9h0"/><path class="h" d="M48.6 211.3h0M45.9 212.6h0M60.9 206.7h0M45.8 218.6h0M67.2 201.1h0M60.2 206.5h0M59.9 202.6h0M53.7 201.9h0M51.7 208.8h0M62.2 201.2h0M58.7 207.1h0M44.9 182.1h0M46.6 214.4h0M67.6 200.3h0M47.7 202.3h0M62.9 204.2h0M45.5 184.2h0M45.5 214.1h0M47.3 194.4h0M44.9 182h0M64.3 202.2h0M55.9 196.3h0M65.3 203.2h0M45.5 190.6h0M57.3 199.8h0M58.1 208.9h0M45.5 192.9h0M56.4 210.5h0M45.5 215.7h0M45.5 211.9h0"/><path class="m" d="M46.5 214.3h0M50.5 214.2h0M47.4 196.4h0M60.4 201h0M50.5 197.1h0M67 202h0M60 203.6h0M52.2 196.5h0M63.9 202.7h0M45.5 179.3h0M45.5 195h0M64.6 203.4h0M62 201.1h0M55.9 209.5h0M53.2 212.4h0M48.3 195.9h0M59 202.8h0M66.2 201.4h0M45.1 180h0M56.6 207h0M52.9 213.1h0M55.4 196.2h0M52.1 201.9h0M45.5 193.8h0M50.4 210h0M51 200.1h0M45.5 207.3h0M54.3 202.7h0M61.7 203.4h0M53.5 204.6h0"/><path class="h" d="M46.5 214.3h0M50.5 214.2h0M47.4 196.4h0M60.4 201h0M50.5 197.1h0M67 202h0M60 203.6h0M52.2 196.5h0M63.9 202.7h0M45.5 179.3h0M45.5 195h0M64.6 203.4h0M62 201.1h0M55.9 209.5h0M53.2 212.4h0M48.3 195.9h0M59 202.8h0M66.2 201.4h0M45.1 180h0M56.6 207h0M52.9 213.1h0M55.4 196.2h0M52.1 201.9h0M45.5 193.8h0M50.4 210h0M51 200.1h0M45.5 207.3h0M54.3 202.7h0M61.7 203.4h0M53.5 204.6h0"/><path class="m" d="M53.3 199.3h0M45.3 129.4h0M54 212.4h0M60.8 198.8h0M45.5 189.2h0M56.6 200.4h0M64.6 202.7h0M47.1 217.6h0M45.3 140.9h0M69 200.2h0M44.9 191.7h0M48.8 195.3h0M58.1 197.6h0M49.2 212.6h0M63.5 201.9h0M53.1 213.1h0M62.6 203.4h0M67.4 201.3h0M45.5 182.2h0M55.8 202h0M45.1 217.6h0M56.1 209.8h0M46.1 204.5h0M52.9 195.5h0M45.3 92.6h0M48.2 216h0M55.5 203.8h0M63.2 201.1h0M47.7 215.1h0M58.6 199.9h0"/><path class="h" d="M53.3 199.3h0M45.3 129.4h0M54 212.4h0M60.8 198.8h0M45.5 189.2h0M56.6 200.4h0M64.6 202.7h0M47.1 217.6h0M45.3 140.9h0M69 200.2h0M44.9 191.7h0M48.8 195.3h0M58.1 197.6h0M49.2 212.6h0M63.5 201.9h0M53.1 213.1h0M62.6 203.4h0M67.4 201.3h0M45.5 182.2h0M55.8 202h0M45.1 217.6h0M56.1 209.8h0M46.1 204.5h0M52.9 195.5h0M45.3 92.6h0M48.2 216h0M55.5 203.8h0M63.2 201.1h0M47.7 215.1h0M58.6 199.9h0"/><path class="m" d="M45.5 187.1h0M45.2 200.1h0M45.3 193h0M62.9 204.6h0M45.3 218.4h0M58 208.7h0M45.1 215.8h0M45.5 205.1h0M64.1 200.1h0M56.5 207.4h0M49.3 216.1h0M64.9 201.7h0M66.4 200.3h0M55.5 198h0M69.4 200h0M60.4 200.3h0M63.4 201h0M48.3 216.8h0M58.6 207.8h0M63.8 200h0M64.6 203.4h0M62.1 199.8h0M51.9 208.7h0M45.5 202.9h0M52.8 212.7h0M45.5 178.7h0M46.5 162.7h0M51 193.3h0M58.9 208.3h0M45.5 219.4h0"/><path class="h" d="M45.5 187.1h0M45.2 200.1h0M45.3 193h0M62.9 204.6h0M45.3 218.4h0M58 208.7h0M45.1 215.8h0M45.5 205.1h0M64.1 200.1h0M56.5 207.4h0M49.3 216.1h0M64.9 201.7h0M66.4 200.3h0M55.5 198h0M69.4 200h0M60.4 200.3h0M63.4 201h0M48.3 216.8h0M58.6 207.8h0M63.8 200h0M64.6 203.4h0M62.1 199.8h0M51.9 208.7h0M45.5 202.9h0M52.8 212.7h0M45.5 178.7h0M46.5 162.7h0M51 193.3h0M58.9 208.3h0M45.5 219.4h0"/><path class="m" d="M62.1 204.6h0M50.5 210.7h0M48.5 190h0M55.4 196.2h0M59.1 197.9h0M62.7 204.7h0M57.4 202.7h0M67.7 201h0M44.9 204.9h0M61.5 204.3h0M45.5 202.3h0M65.9 201.3h0M56.9 197.8h0M45.5 181.3h0M64.2 203.9h0M58.8 201.5h0M45 208.1h0M59.4 199.4h0M69.2 200.1h0M55.2 198.5h0M68.9 200.4h0M58.4 201.8h0M45.6 201.6h0M54.9 209.2h0M57.4 205.8h0M50.8 209.9h0M50.3 200.3h0M53 210.1h0M60 200.8h0M53 210.6h0"/><path class="h" d="M62.1 204.6h0M50.5 210.7h0M48.5 190h0M55.4 196.2h0M59.1 197.9h0M62.7 204.7h0M57.4 202.7h0M67.7 201h0M44.9 204.9h0M61.5 204.3h0M45.5 202.3h0M65.9 201.3h0M56.9 197.8h0M45.5 181.3h0M64.2 203.9h0M58.8 201.5h0M45 208.1h0M59.4 199.4h0M69.2 200.1h0M55.2 198.5h0M68.9 200.4h0M58.4 201.8h0M45.6 201.6h0M54.9 209.2h0M57.4 205.8h0M50.8 209.9h0M50.3 200.3h0M53 210.1h0M60 200.8h0M53 210.6h0"/><path class="m" d="M64.4 201.1h0M45.5 205.7h0M49 211h0M57.8 199.1h0M45.5 215.1h0M45.3 162.8h0M45.5 180.7h0M54.8 197.6h0M58.3 208.8h0M55.4 202.4h0M45 184.1h0M63.9 204h0M50.5 189.4h0M62.8 202.6h0M61.6 204.7h0M45.5 213.7h0M45.5 203.8h0M45.5 191.8h0M68.9 200.3h0M47 207.9h0M52.6 213h0M68.7 200.4h0M61.9 199.2h0M66.9 200.4h0M50.4 214.8h0M66.5 201h0M60.2 199.3h0M67.5 200.1h0M51.8 211.4h0M58.9 199.1h0"/><path class="h" d="M64.4 201.1h0M45.5 205.7h0M49 211h0M57.8 199.1h0M45.5 215.1h0M45.3 162.8h0M45.5 180.7h0M54.8 197.6h0M58.3 208.8h0M55.4 202.4h0M45 184.1h0M63.9 204h0M50.5 189.4h0M62.8 202.6h0M61.6 204.7h0M45.5 213.7h0M45.5 203.8h0M45.5 191.8h0M68.9 200.3h0M47 207.9h0M52.6 213h0M68.7 200.4h0M61.9 199.2h0M66.9 200.4h0M50.4 214.8h0M66.5 201h0M60.2 199.3h0M67.5 200.1h0M51.8 211.4h0M58.9 199.1h0"/><path class="m" d="M55.8 201.9h0M45.3 60.4h0M68 200.5h0M48.5 216.6h0M57.3 205.4h0M45.5 201.7h0M56.1 189.6h0M58 208.9h0M60 206.1h0M68.9 200.2h0M46 179.9h0M53.6 203.8h0M46.7 180.6h0M61.4 206.2h0M57.1 198.2h0M45.5 188.6h0M60.1 205.8h0M57.8 199.6h0M45.3 114.1h0M58.5 204.5h0M65.3 200.9h0M50 190.3h0M62.1 205.1h0M58.9 205.6h0M55.1 207.9h0M57.3 197.1h0M54.5 198.7h0M45.5 216.4h0M48.5 201.6h0M69.3 200.1h0"/><path class="h" d="M55.8 201.9h0M45.3 60.4h0M68 200.5h0M48.5 216.6h0M57.3 205.4h0M45.5 201.7h0M56.1 189.6h0M58 208.9h0M60 206.1h0M68.9 200.2h0M46 179.9h0M53.6 203.8h0M46.7 180.6h0M61.4 206.2h0M57.1 198.2h0M45.5 188.6h0M60.1 205.8h0M57.8 199.6h0M45.3 114.1h0M58.5 204.5h0M65.3 200.9h0M50 190.3h0M62.1 205.1h0M58.9 205.6h0M55.1 207.9h0M57.3 197.1h0M54.5 198.7h0M45.5 216.4h0M48.5 201.6h0M69.3 200.1h0"/><path class="m" d="M55.6 200.6h0M65.8 200.3h0M64.5 201.8h0M52.4 209.3h0M61.5 204.7h0M69 200.3h0M66.1 200.5h0M51.1 196.5h0M53.9 201.7h0M54.8 196h0M45.5 217.1h0M44.9 215h0M45.5 206.5h0M54.9 208.3h0M61 206.4h0M51.3 190.9h0M62.3 202.3h0M52 191.8h0M45.5 180.1h0M67.8 200.9h0M45.5 197.3h0M45.5 200.3h0M47.6 216.4h0M62.5 204.4h0M45.7 208.7h0M46.1 192.4h0M45.5 198.4h0M45.5 196.6h0M66.7 200.7h0M57.4 209.3h0"/><path class="h" d="M55.6 200.6h0M65.8 200.3h0M64.5 201.8h0M52.4 209.3h0M61.5 204.7h0M69 200.3h0M66.1 200.5h0M51.1 196.5h0M53.9 201.7h0M54.8 196h0M45.5 217.1h0M44.9 215h0M45.5 206.5h0M54.9 208.3h0M61 206.4h0M51.3 190.9h0M62.3 202.3h0M52 191.8h0M45.5 180.1h0M67.8 200.9h0M45.5 197.3h0M45.5 200.3h0M47.6 216.4h0M62.5 204.4h0M45.7 208.7h0M46.1 192.4h0M45.5 198.4h0M45.5 196.6h0M66.7 200.7h0M57.4 209.3h0"/><path class="m" d="M64.7 200.7h0M59.8 206.1h0M45.3 157h0M53.9 203h0M45.5 177h0M66.8 200.1h0M45.5 198h0M49.7 199.6h0M52.8 212.8h0M59 205.5h0M59.2 198.6h0M52.5 198.4h0M45.5 191.3h0M52.3 206.2h0M45.2 217.4h0M46.8 190h0M45.3 175.3h0M45.5 210.1h0M48.7 199.8h0M53 200.6h0M45.5 189.7h0M54.4 211.8h0M49.8 200.2h0M59.1 202.5h0M45.5 218.8h0M59.8 202.8h0M64.5 200.8h0M53 200.1h0M46.6 192h0M61.7 200.7h0M74.8 13h0"/><path class="h" d="M64.7 200.7h0M59.8 206.1h0M45.3 157h0M53.9 203h0M45.5 177h0M66.8 200.1h0M45.5 198h0M49.7 199.6h0M52.8 212.8h0M59 205.5h0M59.2 198.6h0M52.5 198.4h0M45.5 191.3h0M52.3 206.2h0M45.2 217.4h0M46.8 190h0M45.3 175.3h0M45.5 210.1h0M48.7 199.8h0M53 200.6h0M45.5 189.7h0M54.4 211.8h0M49.8 200.2h0M59.1 202.5h0M45.5 218.8h0M59.8 202.8h0M64.5 200.8h0M53 200.1h0M46.6 192h0M61.7 200.7h0M74.8 13h0"/></g>
<path d="M44.9 221.3L311.5 6.8" stroke="#6E0612" stroke-width="2" stroke-linecap="round" fill="none"/>
<g stroke="#fff" stroke-width="0.7" stroke-linejoin="round">
<path d="M173.3 155.1A48.5 26.4 0 0 0 221.8 181.5v12.8A48.5 26.4 0 0 1 173.3 167.9z" fill="#FE1D49"/>
<path d="M221.8 181.5A48.5 26.4 0 0 0 270.3 155.1v12.8A48.5 26.4 0 0 1 221.8 194.3z" fill="#1F63FF"/>
<path d="M221.8 155.1L221.8 181.5A48.5 26.4 0 0 1 197.5 132.3z" fill="#FE1D49"/>
<path d="M221.8 155.1L197.5 132.3A48.5 26.4 0 1 1 221.8 181.5z" fill="#1F63FF"/>
</g>
<rect x="224" y="100.2" width="23.6" height="11.4" fill="#FE1D49"/>
<rect x="224" y="113.9" width="23.6" height="11.4" fill="#1F63FF"/>
<g class="t" font-size="11.3">
<text x="252" y="109.9">Shear crack</text>
<text x="252" y="123.6">Tensile crack</text>
</g>
<text class="pb" x="270.7" y="149">58.37%</text>
<text class="pr" x="173.8" y="181.1" text-anchor="end">41.63%</text>
<text class="t" x="173.1" y="285.3" font-size="22.5" text-anchor="middle">(a) FT-0</text>
</g>
<g id="panel-b">
<path d="M411.3 220.3v4.6M438.1 220.3v2.4M464.9 220.3v4.6M491.6 220.3v2.4M518.4 220.3v4.6M545.2 220.3v2.4M572 220.3v4.6M598.8 220.3v2.4M625.5 220.3v4.6M652.3 220.3v2.4M679.1 220.3v4.6M411.3 220.3h-4.6M411.3 198.7h-2.4M411.3 177.1h-4.6M411.3 155.5h-2.4M411.3 133.9h-4.6M411.3 112.3h-2.4M411.3 90.7h-4.6M411.3 69.2h-2.4M411.3 47.6h-4.6M411.3 26h-2.4M411.3 4.4h-4.6M411.3 4.4V220.3H679.1" fill="none" stroke="#262626" stroke-width="1.3"/>
<g class="t" font-size="12.1">
<text x="411.3" y="236.7" text-anchor="middle">0</text>
<text x="464.9" y="236.7" text-anchor="middle">1</text>
<text x="518.4" y="236.7" text-anchor="middle">2</text>
<text x="572" y="236.7" text-anchor="middle">3</text>
<text x="625.5" y="236.7" text-anchor="middle">4</text>
<text x="679.1" y="236.7" text-anchor="middle">5</text>
<text x="404" y="224.1" text-anchor="end">0</text>
<text x="404" y="180.9" text-anchor="end">200</text>
<text x="404" y="137.7" text-anchor="end">400</text>
<text x="404" y="94.5" text-anchor="end">600</text>
<text x="404" y="51.4" text-anchor="end">800</text>
<text x="404" y="8.2" text-anchor="end">1000</text>
<text x="545.2" y="253.2" text-anchor="middle" font-size="12.25">RA/(ms· V<tspan font-size="7.2" dy="-4.2">-1</tspan><tspan dy="4.2">)</tspan></text>
<text transform="translate(375.3 112.3) rotate(-90)" text-anchor="middle" font-size="12.4">AF/kHz</text>
<text x="458.5" y="15.1" font-size="12.3">Tensile crack events</text>
<text x="458.5" y="30" font-size="12.3">Shear crack events</text>
</g>
<g stroke="#FE1D49"><path class="m" d="M485.8 216.4h0M418.8 217.7h0M454.4 219.7h0M447.2 219.7h0M500 219.8h0M465.8 211.9h0M445.3 208.4h0M422.7 218h0M463.5 215.4h0M464.5 210.6h0M448.8 210.5h0M523.5 219.5h0M491.3 213.2h0M416.6 218.8h0M470.1 213.8h0M437.3 214.9h0M421.4 219.4h0M427.1 217.7h0M486.9 219.7h0M475.6 219.4h0M447.9 213.7h0M460.9 217.1h0M504.1 219.6h0M469.1 213.7h0M528.5 217.5h0M459.9 219.6h0M463.3 218.5h0M437.6 216.2h0M460.9 211.4h0M416.8 219.2h0"/><path class="h" d="M485.8 216.4h0M418.8 217.7h0M454.4 219.7h0M447.2 219.7h0M500 219.8h0M465.8 211.9h0M445.3 208.4h0M422.7 218h0M463.5 215.4h0M464.5 210.6h0M448.8 210.5h0M523.5 219.5h0M491.3 213.2h0M416.6 218.8h0M470.1 213.8h0M437.3 214.9h0M421.4 219.4h0M427.1 217.7h0M486.9 219.7h0M475.6 219.4h0M447.9 213.7h0M460.9 217.1h0M504.1 219.6h0M469.1 213.7h0M528.5 217.5h0M459.9 219.6h0M463.3 218.5h0M437.6 216.2h0M460.9 211.4h0M416.8 219.2h0"/><path class="m" d="M473.9 213.6h0M428.8 209.6h0M425.8 219.1h0M457.9 218h0M527.5 218.7h0M516.4 218.5h0M457 208.6h0M545.7 217.3h0M437.1 219.2h0M417.2 219.8h0M443.6 215.8h0M471.4 214.4h0M414.6 219.6h0M446.5 217.1h0M445.9 211.4h0M439.1 215h0M554.1 219.3h0M414.8 219.7h0M447.3 214.4h0M550.2 219.4h0M508 212h0M441.9 209.7h0M434.3 209.6h0M458.7 214.5h0M430.2 211h0M520.8 219.1h0M460.3 219.3h0M491.6 212.9h0M554.8 219.7h0M450.1 208.1h0"/><path class="h" d="M473.9 213.6h0M428.8 209.6h0M425.8 219.1h0M457.9 218h0M527.5 218.7h0M516.4 218.5h0M457 208.6h0M545.7 217.3h0M437.1 219.2h0M417.2 219.8h0M443.6 215.8h0M471.4 214.4h0M414.6 219.6h0M446.5 217.1h0M445.9 211.4h0M439.1 215h0M554.1 219.3h0M414.8 219.7h0M447.3 214.4h0M550.2 219.4h0M508 212h0M441.9 209.7h0M434.3 209.6h0M458.7 214.5h0M430.2 211h0M520.8 219.1h0M460.3 219.3h0M491.6 212.9h0M554.8 219.7h0M450.1 208.1h0"/><path class="m" d="M423 218.7h0M427 217.5h0M477.4 219.2h0M435 217h0M423.1 214h0M465 214.9h0M437.2 216h0M525.8 219.7h0M438.2 217.1h0M427.3 215h0M511.3 214.2h0M427 212.9h0M490.6 219.7h0M414.9 219.1h0M432 219.6h0M420.5 219.6h0M488 215.1h0M420.4 217.8h0M436.3 206.3h0M485.5 218.1h0M513 218.3h0M469.8 219.6h0M446.6 207.5h0M455.7 213.8h0M487.1 218.5h0M441 198.1h0M440.6 209.1h0M438.6 207.8h0M446.1 219.7h0M419.1 219.6h0"/><path class="h" d="M423 218.7h0M427 217.5h0M477.4 219.2h0M435 217h0M423.1 214h0M465 214.9h0M437.2 216h0M525.8 219.7h0M438.2 217.1h0M427.3 215h0M511.3 214.2h0M427 212.9h0M490.6 219.7h0M414.9 219.1h0M432 219.6h0M420.5 219.6h0M488 215.1h0M420.4 217.8h0M436.3 206.3h0M485.5 218.1h0M513 218.3h0M469.8 219.6h0M446.6 207.5h0M455.7 213.8h0M487.1 218.5h0M441 198.1h0M440.6 209.1h0M438.6 207.8h0M446.1 219.7h0M419.1 219.6h0"/><path class="m" d="M420.5 215.7h0M473 219.7h0M421.2 216.7h0M445.2 219.7h0M440.2 219.6h0M437.2 207.8h0M425.1 216.9h0M550.7 219.7h0M418.9 219.3h0M420.3 215.3h0M468.5 213.3h0M470.3 218.6h0M413.2 219.4h0M542.3 218.5h0M541.5 219.7h0M466.6 212.2h0M455.4 207.8h0M424.7 218.3h0M502.3 215.9h0M416.7 219.5h0M486.8 212.7h0M432.9 218.6h0M424.7 217.5h0M480.7 219.8h0M452.1 207.8h0M436.2 207.8h0M529.9 216.7h0M478.9 216.7h0M497.9 214.7h0M580 217.9h0"/><path class="h" d="M420.5 215.7h0M473 219.7h0M421.2 216.7h0M445.2 219.7h0M440.2 219.6h0M437.2 207.8h0M425.1 216.9h0M550.7 219.7h0M418.9 219.3h0M420.3 215.3h0M468.5 213.3h0M470.3 218.6h0M413.2 219.4h0M542.3 218.5h0M541.5 219.7h0M466.6 212.2h0M455.4 207.8h0M424.7 218.3h0M502.3 215.9h0M416.7 219.5h0M486.8 212.7h0M432.9 218.6h0M424.7 217.5h0M480.7 219.8h0M452.1 207.8h0M436.2 207.8h0M529.9 216.7h0M478.9 216.7h0M497.9 214.7h0M580 217.9h0"/><path class="m" d="M419.4 216h0M427.8 213h0M429.4 207.8h0M438.1 206.7h0M596.6 217.5h0M471.6 219h0M451.9 210.4h0M429.3 209.2h0M447.5 214.4h0M426.8 214.6h0M421.3 219.6h0M497.5 219.6h0M419.8 218.5h0M448.5 219.3h0M420.5 217.6h0M482.5 219.3h0M432.2 217.9h0M494 214h0M420.9 219.6h0M504.4 212.6h0M419.9 218h0M431.2 219.6h0M516.6 219.4h0M427.8 219.6h0M506.6 219.6h0M441.8 218.4h0M511.8 219.7h0M440.3 216h0M415.6 219.4h0M449.4 212.5h0"/><path class="h" d="M419.4 216h0M427.8 213h0M429.4 207.8h0M438.1 206.7h0M596.6 217.5h0M471.6 219h0M451.9 210.4h0M429.3 209.2h0M447.5 214.4h0M426.8 214.6h0M421.3 219.6h0M497.5 219.6h0M419.8 218.5h0M448.5 219.3h0M420.5 217.6h0M482.5 219.3h0M432.2 217.9h0M494 214h0M420.9 219.6h0M504.4 212.6h0M419.9 218h0M431.2 219.6h0M516.6 219.4h0M427.8 219.6h0M506.6 219.6h0M441.8 218.4h0M511.8 219.7h0M440.3 216h0M415.6 219.4h0M449.4 212.5h0"/><path class="m" d="M414.7 219.4h0M419.1 216h0M541 218.9h0M452.2 219.2h0M436.1 206.3h0M415 219.5h0M477 219.6h0M518.5 219.7h0M459.8 213.6h0M463.6 219.6h0M433.7 218.9h0M425.6 211.6h0M497.4 214h0M478.3 219.1h0M419.4 218.8h0M424.8 211.6h0M474.2 216.5h0M546.1 218.2h0M498.2 219.1h0M437.8 216.6h0M458.9 219.6h0M494 219.4h0M423.1 212.9h0M427.2 218.3h0M566.1 219.2h0M419.8 216.6h0M420.5 218.5h0M637.3 219h0M421.6 217.9h0M440.4 210.1h0"/><path class="h" d="M414.7 219.4h0M419.1 216h0M541 218.9h0M452.2 219.2h0M436.1 206.3h0M415 219.5h0M477 219.6h0M518.5 219.7h0M459.8 213.6h0M463.6 219.6h0M433.7 218.9h0M425.6 211.6h0M497.4 214h0M478.3 219.1h0M419.4 218.8h0M424.8 211.6h0M474.2 216.5h0M546.1 218.2h0M498.2 219.1h0M437.8 216.6h0M458.9 219.6h0M494 219.4h0M423.1 212.9h0M427.2 218.3h0M566.1 219.2h0M419.8 216.6h0M420.5 218.5h0M637.3 219h0M421.6 217.9h0M440.4 210.1h0"/><path class="m" d="M414.1 219.6h0M474.1 218.3h0M428.9 213.1h0M457.7 219.2h0M503.6 218.6h0M473.7 215.7h0M453 217.7h0M462.2 219.8h0M425.3 214.9h0M568.2 218.6h0M418.7 218.9h0M459.4 211.7h0M418.3 217.3h0M458 213.8h0M532.6 219.2h0M464.2 211.3h0M414 219.7h0M431.8 215.9h0M438.5 216.7h0M446.9 219.5h0M465.3 213.5h0M466 210.7h0M440.1 208.8h0M419.8 219.2h0M482.3 219.5h0M438.6 210.7h0M422.7 219.5h0M485.8 219.8h0M465.2 219.5h0M430.9 211.2h0"/><path class="h" d="M414.1 219.6h0M474.1 218.3h0M428.9 213.1h0M457.7 219.2h0M503.6 218.6h0M473.7 215.7h0M453 217.7h0M462.2 219.8h0M425.3 214.9h0M568.2 218.6h0M418.7 218.9h0M459.4 211.7h0M418.3 217.3h0M458 213.8h0M532.6 219.2h0M464.2 211.3h0M414 219.7h0M431.8 215.9h0M438.5 216.7h0M446.9 219.5h0M465.3 213.5h0M466 210.7h0M440.1 208.8h0M419.8 219.2h0M482.3 219.5h0M438.6 210.7h0M422.7 219.5h0M485.8 219.8h0M465.2 219.5h0M430.9 211.2h0"/><path class="m" d="M489.8 219.6h0M475.6 219.7h0M467.3 219.6h0M418 219.8h0M427.9 209h0M436.9 215.5h0M481.4 212.4h0M436.8 219.8h0M478.4 218.5h0M421 218.6h0M420.5 218.4h0M444.4 210.3h0M475.2 219.1h0M463.2 218.7h0M578.4 218.6h0M464.3 215.6h0M424.4 217.6h0M470.6 214.6h0M534.2 219.6h0M445.7 217.2h0M432 212.4h0M419.8 218.7h0M527.9 215.2h0M416.5 219.5h0M441.2 219.7h0M533.4 219h0M471.1 218.7h0M421.4 217.4h0M418.5 217.9h0M415.4 219.3h0"/><path class="h" d="M489.8 219.6h0M475.6 219.7h0M467.3 219.6h0M418 219.8h0M427.9 209h0M436.9 215.5h0M481.4 212.4h0M436.8 219.8h0M478.4 218.5h0M421 218.6h0M420.5 218.4h0M444.4 210.3h0M475.2 219.1h0M463.2 218.7h0M578.4 218.6h0M464.3 215.6h0M424.4 217.6h0M470.6 214.6h0M534.2 219.6h0M445.7 217.2h0M432 212.4h0M419.8 218.7h0M527.9 215.2h0M416.5 219.5h0M441.2 219.7h0M533.4 219h0M471.1 218.7h0M421.4 217.4h0M418.5 217.9h0M415.4 219.3h0"/><path class="m" d="M414.9 219h0M414.3 219.6h0M453.8 212.4h0M416.3 219.5h0M419.5 215.6h0M428.3 211.9h0M474.1 219.7h0M441.4 215.3h0M450.4 214.9h0M464.9 219.4h0M516 219.6h0M456.2 209.5h0M463.4 218h0M428.3 216.6h0M601.4 217.9h0M440.2 208.2h0M442.9 212.6h0M428.4 217.5h0M447.5 219h0M480.2 219.7h0M458 210.2h0M599.3 216.8h0M417.4 217.1h0M537.8 218.5h0M432.5 210.5h0M641.1 219h0M515.7 215.9h0M486.8 211.9h0M417.8 217.1h0M435.1 210.5h0"/><path class="h" d="M414.9 219h0M414.3 219.6h0M453.8 212.4h0M416.3 219.5h0M419.5 215.6h0M428.3 211.9h0M474.1 219.7h0M441.4 215.3h0M450.4 214.9h0M464.9 219.4h0M516 219.6h0M456.2 209.5h0M463.4 218h0M428.3 216.6h0M601.4 217.9h0M440.2 208.2h0M442.9 212.6h0M428.4 217.5h0M447.5 219h0M480.2 219.7h0M458 210.2h0M599.3 216.8h0M417.4 217.1h0M537.8 218.5h0M432.5 210.5h0M641.1 219h0M515.7 215.9h0M486.8 211.9h0M417.8 217.1h0M435.1 210.5h0"/><path class="m" d="M440.1 218.2h0M475.6 219.4h0M425.2 211.9h0M474.6 213.2h0M423.9 213.7h0M475 216.2h0M416.3 219.6h0M490.1 213.2h0M541.1 219.5h0M520.7 219.3h0M532.4 216.1h0M428.3 218.9h0M425.9 215.6h0M463.2 215.1h0M480.5 217.3h0M429.4 217.1h0M425 219.5h0M458.7 217.7h0M502.3 216.7h0M428.8 216.3h0M421.7 214.9h0M496.5 217.4h0M415.9 218.8h0M471 218.1h0M533.7 216.6h0M417.9 218.2h0M505.5 219.5h0M536.9 219.7h0M558.6 218.1h0M455.4 215.7h0"/><path class="h" d="M440.1 218.2h0M475.6 219.4h0M425.2 211.9h0M474.6 213.2h0M423.9 213.7h0M475 216.2h0M416.3 219.6h0M490.1 213.2h0M541.1 219.5h0M520.7 219.3h0M532.4 216.1h0M428.3 218.9h0M425.9 215.6h0M463.2 215.1h0M480.5 217.3h0M429.4 217.1h0M425 219.5h0M458.7 217.7h0M502.3 216.7h0M428.8 216.3h0M421.7 214.9h0M496.5 217.4h0M415.9 218.8h0M471 218.1h0M533.7 216.6h0M417.9 218.2h0M505.5 219.5h0M536.9 219.7h0M558.6 218.1h0M455.4 215.7h0"/><path class="m" d="M428 218h0M418.4 218.1h0M428.4 212h0M416.9 217.3h0M437 214.2h0M464.3 217.7h0M416.8 219.1h0M491.7 218.3h0M428.2 209.1h0M472 219.7h0M440 219h0M496.9 217.1h0M467.7 219.2h0M452 219.6h0M461.8 217.7h0M517.8 215.9h0M528.4 218.3h0M452.2 211.3h0M466.2 215.2h0M468.4 219.4h0M440.2 216.8h0M444.7 211.1h0M451.2 217.5h0M448.7 207.1h0M448.1 214.5h0M431.3 218.7h0M483.4 219.4h0M499.1 219.7h0M432.7 213.4h0M440.5 219.7h0"/><path class="h" d="M428 218h0M418.4 218.1h0M428.4 212h0M416.9 217.3h0M437 214.2h0M464.3 217.7h0M416.8 219.1h0M491.7 218.3h0M428.2 209.1h0M472 219.7h0M440 219h0M496.9 217.1h0M467.7 219.2h0M452 219.6h0M461.8 217.7h0M517.8 215.9h0M528.4 218.3h0M452.2 211.3h0M466.2 215.2h0M468.4 219.4h0M440.2 216.8h0M444.7 211.1h0M451.2 217.5h0M448.7 207.1h0M448.1 214.5h0M431.3 218.7h0M483.4 219.4h0M499.1 219.7h0M432.7 213.4h0M440.5 219.7h0"/><path class="m" d="M429 207.9h0M467.6 216.7h0M427.1 210h0M545 217.4h0M482.4 217.7h0M414 219.6h0M441.6 213.5h0M456.3 210.2h0M416.1 218.1h0M440.8 209.9h0M448.5 214.6h0M495.9 218.7h0M552.5 218.7h0M414 219.7h0M418.8 219h0M439.4 210.6h0M433.6 208.6h0M477.7 219.5h0M479.7 215.1h0M415.5 218.7h0M483.3 216.3h0M423.7 219.6h0M459.6 212.4h0M436.8 217.6h0M417.4 218.7h0M417.4 219.7h0M514.8 215.1h0M450.5 216.9h0M456.3 219.7h0M421 219.1h0"/><path class="h" d="M429 207.9h0M467.6 216.7h0M427.1 210h0M545 217.4h0M482.4 217.7h0M414 219.6h0M441.6 213.5h0M456.3 210.2h0M416.1 218.1h0M440.8 209.9h0M448.5 214.6h0M495.9 218.7h0M552.5 218.7h0M414 219.7h0M418.8 219h0M439.4 210.6h0M433.6 208.6h0M477.7 219.5h0M479.7 215.1h0M415.5 218.7h0M483.3 216.3h0M423.7 219.6h0M459.6 212.4h0M436.8 217.6h0M417.4 218.7h0M417.4 219.7h0M514.8 215.1h0M450.5 216.9h0M456.3 219.7h0M421 219.1h0"/><path class="m" d="M479 213.5h0M494.1 218.2h0M561.3 217.3h0M449.9 213.4h0M504.9 219.5h0M443.2 212.7h0M474.4 215.9h0M513.5 217.7h0M494.6 218.6h0M526.5 216.8h0M432.4 219.5h0M488.5 219.3h0M419.6 219.7h0M433.8 210.5h0M537.4 216.5h0M419.6 217.5h0M419.8 218.3h0M445.8 217.7h0M419.3 218.4h0M615.4 216.8h0M446.7 209.6h0M497.3 219.1h0M448.3 213.2h0M477.9 219.6h0M424.6 216.6h0M438.1 207.7h0M478.3 216.7h0M584.3 217.5h0M523.1 214.9h0M439 213.1h0"/><path class="h" d="M479 213.5h0M494.1 218.2h0M561.3 217.3h0M449.9 213.4h0M504.9 219.5h0M443.2 212.7h0M474.4 215.9h0M513.5 217.7h0M494.6 218.6h0M526.5 216.8h0M432.4 219.5h0M488.5 219.3h0M419.6 219.7h0M433.8 210.5h0M537.4 216.5h0M419.6 217.5h0M419.8 218.3h0M445.8 217.7h0M419.3 218.4h0M615.4 216.8h0M446.7 209.6h0M497.3 219.1h0M448.3 213.2h0M477.9 219.6h0M424.6 216.6h0M438.1 207.7h0M478.3 216.7h0M584.3 217.5h0M523.1 214.9h0M439 213.1h0"/><path class="m" d="M427.4 209.2h0M433.8 209.6h0M432.2 205.2h0M436.1 214.8h0M476.6 219.5h0M446.3 216.7h0M454.7 219.5h0M460.9 219.5h0M464.4 213.6h0M499.6 219.5h0M454.3 207.6h0M421.6 214.6h0M463.6 218.6h0M475 217.4h0M445.9 207.5h0M471.4 218.9h0M417.4 219.4h0M461.2 219.5h0M436.6 208.3h0M421 219.3h0M420.7 214.4h0M543.9 219.4h0M422.3 214.5h0M593.4 213.4h0M430.5 217.4h0M524.3 215.5h0M430.9 207.2h0M456.6 207.8h0M433.5 219h0M477.5 212.9h0"/><path class="h" d="M427.4 209.2h0M433.8 209.6h0M432.2 205.2h0M436.1 214.8h0M476.6 219.5h0M446.3 216.7h0M454.7 219.5h0M460.9 219.5h0M464.4 213.6h0M499.6 219.5h0M454.3 207.6h0M421.6 214.6h0M463.6 218.6h0M475 217.4h0M445.9 207.5h0M471.4 218.9h0M417.4 219.4h0M461.2 219.5h0M436.6 208.3h0M421 219.3h0M420.7 214.4h0M543.9 219.4h0M422.3 214.5h0M593.4 213.4h0M430.5 217.4h0M524.3 215.5h0M430.9 207.2h0M456.6 207.8h0M433.5 219h0M477.5 212.9h0"/><path class="m" d="M515 219.5h0M480.8 219.4h0M432.8 208h0M438.6 219.6h0M481.3 217.9h0M508.7 218.6h0M487 219.7h0M479.7 215.9h0M502.7 219.4h0M456.1 211.7h0M442 215h0M454.7 209h0M419.4 218.3h0M414.9 219.1h0M447.4 218.5h0M526.6 219.8h0M449.4 211h0M463.1 218.1h0M452 215.7h0M442.5 212.9h0M442.3 210h0M507.8 219.5h0M424.2 219.6h0M450.7 219.7h0M452.7 217.7h0M462.7 214.4h0M520.7 219.7h0M421.8 215h0M432.9 217.8h0M429.3 216.1h0"/><path class="h" d="M515 219.5h0M480.8 219.4h0M432.8 208h0M438.6 219.6h0M481.3 217.9h0M508.7 218.6h0M487 219.7h0M479.7 215.9h0M502.7 219.4h0M456.1 211.7h0M442 215h0M454.7 209h0M419.4 218.3h0M414.9 219.1h0M447.4 218.5h0M526.6 219.8h0M449.4 211h0M463.1 218.1h0M452 215.7h0M442.5 212.9h0M442.3 210h0M507.8 219.5h0M424.2 219.6h0M450.7 219.7h0M452.7 217.7h0M462.7 214.4h0M520.7 219.7h0M421.8 215h0M432.9 217.8h0M429.3 216.1h0"/><path class="m" d="M418.8 219.3h0M427.7 213.3h0M422.3 218.5h0M457 216.8h0M426.7 216.2h0M508.6 219.4h0M481.8 219.4h0M461.4 215.6h0M434.9 219.5h0M439.4 211.4h0M457.9 207.7h0M456.8 217.1h0M523.9 219.7h0M453.1 219.4h0M466.5 219.6h0M437.6 219.4h0M524.7 219.5h0M433.3 211h0M460.9 218.7h0M450.6 218h0M513.5 218.8h0M498.5 219.6h0M423.7 213.2h0M513.4 214h0M433.9 210.9h0M485 219.4h0M432.8 219.4h0M428 214.2h0M435.9 213h0M453.2 211.9h0"/><path class="h" d="M418.8 219.3h0M427.7 213.3h0M422.3 218.5h0M457 216.8h0M426.7 216.2h0M508.6 219.4h0M481.8 219.4h0M461.4 215.6h0M434.9 219.5h0M439.4 211.4h0M457.9 207.7h0M456.8 217.1h0M523.9 219.7h0M453.1 219.4h0M466.5 219.6h0M437.6 219.4h0M524.7 219.5h0M433.3 211h0M460.9 218.7h0M450.6 218h0M513.5 218.8h0M498.5 219.6h0M423.7 213.2h0M513.4 214h0M433.9 210.9h0M485 219.4h0M432.8 219.4h0M428 214.2h0M435.9 213h0M453.2 211.9h0"/><path class="m" d="M514.6 219.6h0M464.2 214h0M431.9 212.4h0M415.6 219h0M454.3 212.6h0M430.2 215.4h0M422.6 217.4h0M496.6 218.9h0M486 213.2h0M484.5 212.9h0M451.1 217.8h0M467.2 212.3h0M419.3 219.1h0M414.4 219.5h0M448.5 211.5h0M488.8 218.5h0M435 208.7h0M420.7 215.1h0M439.7 219.4h0M414.7 219.2h0M453.9 215.1h0M473.7 213h0M545.4 219.1h0M515.9 217.9h0M417 217.5h0M420.4 217.6h0M429.2 213.9h0M420.8 216.4h0M428.4 208.8h0M418.9 218.6h0"/><path class="h" d="M514.6 219.6h0M464.2 214h0M431.9 212.4h0M415.6 219h0M454.3 212.6h0M430.2 215.4h0M422.6 217.4h0M496.6 218.9h0M486 213.2h0M484.5 212.9h0M451.1 217.8h0M467.2 212.3h0M419.3 219.1h0M414.4 219.5h0M448.5 211.5h0M488.8 218.5h0M435 208.7h0M420.7 215.1h0M439.7 219.4h0M414.7 219.2h0M453.9 215.1h0M473.7 213h0M545.4 219.1h0M515.9 217.9h0M417 217.5h0M420.4 217.6h0M429.2 213.9h0M420.8 216.4h0M428.4 208.8h0M418.9 218.6h0"/><path class="m" d="M468.6 218.9h0M467.9 217h0M494.8 219.5h0M452.4 212.6h0M426.1 219.4h0M509.9 215.6h0M416 218.4h0M622.9 218.4h0M423.5 219.6h0M414.7 219.8h0M457.6 214.7h0M463.6 208.7h0M484.4 216.3h0M466 217h0M441.6 212.2h0M436.4 211.2h0M449.6 209.1h0M429 210.2h0M486.4 219.8h0M433.5 211.8h0M462.2 212.9h0M452.6 210.5h0M473.4 213.9h0M449.9 210.6h0M415.6 219.3h0M428.6 219.7h0M416.3 219.4h0M457.7 215.1h0M465.3 219.7h0M457.4 219.7h0"/><path class="h" d="M468.6 218.9h0M467.9 217h0M494.8 219.5h0M452.4 212.6h0M426.1 219.4h0M509.9 215.6h0M416 218.4h0M622.9 218.4h0M423.5 219.6h0M414.7 219.8h0M457.6 214.7h0M463.6 208.7h0M484.4 216.3h0M466 217h0M441.6 212.2h0M436.4 211.2h0M449.6 209.1h0M429 210.2h0M486.4 219.8h0M433.5 211.8h0M462.2 212.9h0M452.6 210.5h0M473.4 213.9h0M449.9 210.6h0M415.6 219.3h0M428.6 219.7h0M416.3 219.4h0M457.7 215.1h0M465.3 219.7h0M457.4 219.7h0"/><path class="m" d="M418.2 218.5h0M464.6 219.5h0M462.5 218.7h0M442.8 214.4h0M442.7 210.3h0M455 215.7h0M466.8 214.9h0M416.9 218.9h0M419.8 217.2h0M515.6 218.9h0M492.9 216.6h0M472.9 213.9h0M417.7 219.3h0M591.3 217.9h0M448.2 213.3h0M429.2 219.6h0M467.7 218.1h0M431.2 206.1h0M463.6 210.2h0M486.1 219.6h0M430.9 213.9h0M430.2 219.4h0M555.5 219.5h0M492 219.7h0M426.5 211h0M433.6 219.7h0M431.3 219.6h0M448.8 214.8h0M480.5 215.9h0M574.7 219.2h0"/><path class="h" d="M418.2 218.5h0M464.6 219.5h0M462.5 218.7h0M442.8 214.4h0M442.7 210.3h0M455 215.7h0M466.8 214.9h0M416.9 218.9h0M419.8 217.2h0M515.6 218.9h0M492.9 216.6h0M472.9 213.9h0M417.7 219.3h0M591.3 217.9h0M448.2 213.3h0M429.2 219.6h0M467.7 218.1h0M431.2 206.1h0M463.6 210.2h0M486.1 219.6h0M430.9 213.9h0M430.2 219.4h0M555.5 219.5h0M492 219.7h0M426.5 211h0M433.6 219.7h0M431.3 219.6h0M448.8 214.8h0M480.5 215.9h0M574.7 219.2h0"/><path class="m" d="M425 219.7h0M438.3 208.7h0M506.1 219.4h0M418.3 217.1h0M445.9 207h0M472.7 217.4h0M443.9 211.6h0M441.9 219.6h0M479.1 216h0M442.2 216.4h0M495 218.9h0M443.7 219.7h0M441.2 25.7h0"/><path class="h" d="M425 219.7h0M438.3 208.7h0M506.1 219.4h0M418.3 217.1h0M445.9 207h0M472.7 217.4h0M443.9 211.6h0M441.9 219.6h0M479.1 216h0M442.2 216.4h0M495 218.9h0M443.7 219.7h0M441.2 25.7h0"/></g>
<g stroke="#1F63FF"><path class="m" d="M411.9 191.5h0M428.7 203.5h0M425.5 203.9h0M423.1 195.7h0M420.9 209h0M429.2 204.4h0M417.5 190.6h0M411.9 201.1h0M412.1 185h0M417.8 205.6h0M418.7 200.5h0M411.7 58.4h0M411.9 212.4h0M420.9 203.8h0M411.3 202.4h0M416.2 187.5h0M428.4 203.3h0M426.2 206.7h0M411.9 200.5h0M421.8 208.4h0M415 191.3h0M425.2 201.9h0M411.9 175.5h0M411.7 90.7h0M424.4 207.4h0M411.9 203.6h0M423.7 202.7h0M425 205.3h0M422.8 200.9h0M420.7 198.4h0"/><path class="h" d="M411.9 191.5h0M428.7 203.5h0M425.5 203.9h0M423.1 195.7h0M420.9 209h0M429.2 204.4h0M417.5 190.6h0M411.9 201.1h0M412.1 185h0M417.8 205.6h0M418.7 200.5h0M411.7 58.4h0M411.9 212.4h0M420.9 203.8h0M411.3 202.4h0M416.2 187.5h0M428.4 203.3h0M426.2 206.7h0M411.9 200.5h0M421.8 208.4h0M415 191.3h0M425.2 201.9h0M411.9 175.5h0M411.7 90.7h0M424.4 207.4h0M411.9 203.6h0M423.7 202.7h0M425 205.3h0M422.8 200.9h0M420.7 198.4h0"/><path class="m" d="M424.3 208h0M416.7 210.9h0M413.3 185.9h0M425.7 207h0M425.5 204.4h0M411.9 215.2h0M425.6 206.5h0M411.9 181.4h0M411.7 148.3h0M428.9 204.5h0M421.3 210.7h0M427.2 202.6h0M425.7 204.3h0M411.9 190.5h0M415.8 204.9h0M412.5 197h0M420.7 208.8h0M411.9 195.3h0M411.9 196.3h0M414.1 202.7h0M428.3 204.9h0M427 202.9h0M418.1 212.3h0M420.4 209.9h0M411.9 196.8h0M411.7 112.3h0M411.9 216.2h0M428.8 204.6h0M414.9 215.7h0M411.9 213.7h0"/><path class="h" d="M424.3 208h0M416.7 210.9h0M413.3 185.9h0M425.7 207h0M425.5 204.4h0M411.9 215.2h0M425.6 206.5h0M411.9 181.4h0M411.7 148.3h0M428.9 204.5h0M421.3 210.7h0M427.2 202.6h0M425.7 204.3h0M411.9 190.5h0M415.8 204.9h0M412.5 197h0M420.7 208.8h0M411.9 195.3h0M411.9 196.3h0M414.1 202.7h0M428.3 204.9h0M427 202.9h0M418.1 212.3h0M420.4 209.9h0M411.9 196.8h0M411.7 112.3h0M411.9 216.2h0M428.8 204.6h0M414.9 215.7h0M411.9 213.7h0"/><path class="m" d="M411.9 205.5h0M423.5 205.9h0M416.3 213.3h0M426.2 204.3h0M416.6 212.7h0M411.9 202h0M426 201.8h0M421.4 210.4h0M417.9 204h0M423.7 200.1h0M411.9 188.3h0M419.9 196.2h0M419.1 205.2h0M415.3 215.2h0M424.4 204.3h0M411.9 218.4h0M411.9 178.4h0M413.7 179.7h0M411.9 194.8h0M427.5 204.5h0M411.9 193.2h0M411.9 189.2h0M411.9 197.5h0M416.8 213.9h0M413.5 213.1h0M422.9 204.8h0M413 191.7h0M426.3 204.7h0M411.5 188.1h0M415.3 195.9h0"/><path class="h" d="M411.9 205.5h0M423.5 205.9h0M416.3 213.3h0M426.2 204.3h0M416.6 212.7h0M411.9 202h0M426 201.8h0M421.4 210.4h0M417.9 204h0M423.7 200.1h0M411.9 188.3h0M419.9 196.2h0M419.1 205.2h0M415.3 215.2h0M424.4 204.3h0M411.9 218.4h0M411.9 178.4h0M413.7 179.7h0M411.9 194.8h0M427.5 204.5h0M411.9 193.2h0M411.9 189.2h0M411.9 197.5h0M416.8 213.9h0M413.5 213.1h0M422.9 204.8h0M413 191.7h0M426.3 204.7h0M411.5 188.1h0M415.3 195.9h0"/><path class="m" d="M418.6 211.2h0M415 214.1h0M422.1 210.1h0M411.9 207.5h0M414.7 206.4h0M422.8 208.9h0M424.2 202.7h0M426 203.7h0M411.9 193.8h0M411.9 182.4h0M422.4 199h0M411.9 212h0M425.2 205.2h0M421.6 203.2h0M415.3 197.6h0M422.5 209.8h0M411.8 216.7h0M417.3 211.6h0M411.9 180.6h0M423.7 207h0M419.2 195.8h0M422.2 209.3h0M411.7 166.3h0M411.3 218.8h0M411.4 201.4h0M413.4 188.9h0M414 209.8h0M428.3 203.6h0M411.9 206.6h0M421.9 200h0"/><path class="h" d="M418.6 211.2h0M415 214.1h0M422.1 210.1h0M411.9 207.5h0M414.7 206.4h0M422.8 208.9h0M424.2 202.7h0M426 203.7h0M411.9 193.8h0M411.9 182.4h0M422.4 199h0M411.9 212h0M425.2 205.2h0M421.6 203.2h0M415.3 197.6h0M422.5 209.8h0M411.8 216.7h0M417.3 211.6h0M411.9 180.6h0M423.7 207h0M419.2 195.8h0M422.2 209.3h0M411.7 166.3h0M411.3 218.8h0M411.4 201.4h0M413.4 188.9h0M414 209.8h0M428.3 203.6h0M411.9 206.6h0M421.9 200h0"/><path class="m" d="M413 203.3h0M425.4 207.3h0M411.9 185.7h0M412.6 188.9h0M411.9 180.1h0M425 206.2h0M421.4 199.4h0M424.2 206.5h0M411.5 218.2h0M422 200.9h0M427.8 203.6h0M419.1 207h0M416.6 186.3h0M424.3 203.7h0M411.9 177.7h0M420.8 202.5h0M418.7 194.1h0M425.6 205.1h0M423.7 205.4h0M421.6 204h0M411.9 179.3h0M412.5 178.3h0M413.7 216.7h0M411.9 189.8h0M417.8 207.8h0M427.4 204.8h0M417.6 213.3h0M422.2 205.8h0M411.9 176.8h0M419.9 211.7h0"/><path class="h" d="M413 203.3h0M425.4 207.3h0M411.9 185.7h0M412.6 188.9h0M411.9 180.1h0M425 206.2h0M421.4 199.4h0M424.2 206.5h0M411.5 218.2h0M422 200.9h0M427.8 203.6h0M419.1 207h0M416.6 186.3h0M424.3 203.7h0M411.9 177.7h0M420.8 202.5h0M418.7 194.1h0M425.6 205.1h0M423.7 205.4h0M421.6 204h0M411.9 179.3h0M412.5 178.3h0M413.7 216.7h0M411.9 189.8h0M417.8 207.8h0M427.4 204.8h0M417.6 213.3h0M422.2 205.8h0M411.9 176.8h0M419.9 211.7h0"/><path class="m" d="M411.9 215.8h0M419.6 206.9h0M411.9 206h0M417.5 212.4h0M428.3 203.3h0M417.9 213.4h0M411.9 214.4h0M411.9 217.4h0M420.6 197.4h0M419.2 196.6h0M421.6 199.8h0M424.9 202h0M415.7 211.7h0M426.5 203.2h0M419.9 209h0M412.5 207.1h0M423 208.7h0M423.8 205.4h0M426.6 206.4h0M423 202.2h0M418.2 202.1h0M418.3 212.6h0M419.2 197.8h0M412.7 207.3h0M425.8 204.4h0M412.3 188.1h0M411.3 208.9h0M411.9 202.6h0M411.6 203.4h0M411.8 207.3h0"/><path class="h" d="M411.9 215.8h0M419.6 206.9h0M411.9 206h0M417.5 212.4h0M428.3 203.3h0M417.9 213.4h0M411.9 214.4h0M411.9 217.4h0M420.6 197.4h0M419.2 196.6h0M421.6 199.8h0M424.9 202h0M415.7 211.7h0M426.5 203.2h0M419.9 209h0M412.5 207.1h0M423 208.7h0M423.8 205.4h0M426.6 206.4h0M423 202.2h0M418.2 202.1h0M418.3 212.6h0M419.2 197.8h0M412.7 207.3h0M425.8 204.4h0M412.3 188.1h0M411.3 208.9h0M411.9 202.6h0M411.6 203.4h0M411.8 207.3h0"/><path class="m" d="M427.6 205.6h0M413.3 216h0M415.7 214.6h0M423.3 208.8h0M425.5 202h0M411.7 155.5h0M418.8 198.3h0M418.5 211.9h0M413.5 182.9h0M411.7 174h0M428.2 205h0M411.9 216.7h0M416 188.8h0M411.9 204.7h0M429.1 204.2h0M411.9 199.9h0M411.7 127.8h0M411.9 192.7h0M424.4 203.9h0M423.8 202.1h0M411.9 198.2h0M411.9 211h0M411.7 139.3h0M411.9 184.3h0M411.9 199.2h0M411.6 216.6h0M411.9 176.2h0M411.7 4.4h0M411.3 176.7h0M416.4 214.6h0"/><path class="h" d="M427.6 205.6h0M413.3 216h0M415.7 214.6h0M423.3 208.8h0M425.5 202h0M411.7 155.5h0M418.8 198.3h0M418.5 211.9h0M413.5 182.9h0M411.7 174h0M428.2 205h0M411.9 216.7h0M416 188.8h0M411.9 204.7h0M429.1 204.2h0M411.9 199.9h0M411.7 127.8h0M411.9 192.7h0M424.4 203.9h0M423.8 202.1h0M411.9 198.2h0M411.9 211h0M411.7 139.3h0M411.9 184.3h0M411.9 199.2h0M411.6 216.6h0M411.9 176.2h0M411.7 4.4h0M411.3 176.7h0M416.4 214.6h0"/><path class="m" d="M413.9 216.1h0M413.1 209.9h0M414.8 180.4h0M428.2 204.3h0M425.7 206.7h0M424.9 201.2h0M420.3 206.6h0M413 186.6h0M414.5 197.5h0M411.3 189h0M412.3 212.8h0M421.6 202.8h0M415.6 191.4h0M416.3 202.1h0M423 205.7h0M421.3 210.5h0M416.4 205.2h0M412 217.5h0M416.4 208.5h0M411.9 192.2h0M411.3 176.4h0M415.5 189.8h0M411.9 210.2h0M411.6 185.6h0M411.7 170.5h0M411.7 161.4h0M415.7 184.4h0M422.6 209.7h0M417.4 202.8h0M420.7 208.2h0"/><path class="h" d="M413.9 216.1h0M413.1 209.9h0M414.8 180.4h0M428.2 204.3h0M425.7 206.7h0M424.9 201.2h0M420.3 206.6h0M413 186.6h0M414.5 197.5h0M411.3 189h0M412.3 212.8h0M421.6 202.8h0M415.6 191.4h0M416.3 202.1h0M423 205.7h0M421.3 210.5h0M416.4 205.2h0M412 217.5h0M416.4 208.5h0M411.9 192.2h0M411.3 176.4h0M415.5 189.8h0M411.9 210.2h0M411.6 185.6h0M411.7 170.5h0M411.7 161.4h0M415.7 184.4h0M422.6 209.7h0M417.4 202.8h0M420.7 208.2h0"/><path class="m" d="M425.5 203.6h0M411.9 212.9h0M414.8 183.7h0M419.2 207.3h0M411.9 208.3h0M416.8 200.4h0M412.3 179.3h0M411.9 183.3h0M420.8 202h0M411.9 187.7h0M422.9 201.7h0M411.9 186.8h0M427.3 205.8h0M427.2 202.7h0M424.1 206.1h0M418.1 212.1h0M411.9 184.7h0M413.6 186.5h0M413.9 213.6h0M423.1 204.1h0M419.5 195.6h0M427.2 204.4h0M420.2 198.6h0M412 214.4h0M417.7 200.9h0M416.8 207.1h0M411.8 188h0M411.9 216.8h0M422 209.9h0M411.9 209.3h0"/><path class="h" d="M425.5 203.6h0M411.9 212.9h0M414.8 183.7h0M419.2 207.3h0M411.9 208.3h0M416.8 200.4h0M412.3 179.3h0M411.9 183.3h0M420.8 202h0M411.9 187.7h0M422.9 201.7h0M411.9 186.8h0M427.3 205.8h0M427.2 202.7h0M424.1 206.1h0M418.1 212.1h0M411.9 184.7h0M413.6 186.5h0M413.9 213.6h0M423.1 204.1h0M419.5 195.6h0M427.2 204.4h0M420.2 198.6h0M412 214.4h0M417.7 200.9h0M416.8 207.1h0M411.8 188h0M411.9 216.8h0M422 209.9h0M411.9 209.3h0"/><path class="m" d="M415.5 183h0M441.2 10.6h0"/><path class="h" d="M415.5 183h0M441.2 10.6h0"/></g>
<path d="M411.3 219.8L679.1 3.9" stroke="#6E0612" stroke-width="2" stroke-linecap="round" fill="none"/>
<g stroke="#fff" stroke-width="0.7" stroke-linejoin="round">
<path d="M538.9 158.3A48.5 26.4 0 0 0 587.4 184.7v12.8A48.5 26.4 0 0 1 538.9 171.1z" fill="#FE1D49"/>
<path d="M587.4 184.7A48.5 26.4 0 0 0 635.9 158.3v12.8A48.5 26.4 0 0 1 587.4 197.5z" fill="#1F63FF"/>
<path d="M587.4 158.3L587.4 184.7A48.5 26.4 0 0 1 558.8 137z" fill="#FE1D49"/>
<path d="M587.4 158.3L558.8 137A48.5 26.4 0 1 1 587.4 184.7z" fill="#1F63FF"/>
</g>
<rect x="589.5" y="103.1" width="23.6" height="11.4" fill="#FE1D49"/>
<rect x="589.5" y="116.8" width="23.6" height="11.4" fill="#1F63FF"/>
<g class="t" font-size="11.3">
<text x="617" y="112.8">Shear crack</text>
<text x="617" y="126.5">Tensile crack</text>
</g>
<text class="pb" x="634.8" y="149.9">60.05%</text>
<text class="pr" x="539.9" y="186.9" text-anchor="end">39.95%</text>
<text class="t" x="545.7" y="285.3" font-size="22.5" text-anchor="middle">(b) FT-10</text>
</g>
<g id="panel-c">
<path d="M54.3 558.7v4.6M80.9 558.7v2.4M107.5 558.7v4.6M134.2 558.7v2.4M160.8 558.7v4.6M187.4 558.7v2.4M214 558.7v4.6M240.6 558.7v2.4M267.2 558.7v4.6M293.8 558.7v2.4M320.4 558.7v4.6M54.3 558.7h-4.6M54.3 537.3h-2.4M54.3 515.9h-4.6M54.3 494.5h-2.4M54.3 473.1h-4.6M54.3 451.7h-2.4M54.3 430.2h-4.6M54.3 408.8h-2.4M54.3 387.4h-4.6M54.3 366h-2.4M54.3 344.6h-4.6M54.3 344.6V558.7H320.4" fill="none" stroke="#262626" stroke-width="1.3"/>
<g class="t" font-size="12.1">
<text x="54.3" y="575.1" text-anchor="middle">0</text>
<text x="107.5" y="575.1" text-anchor="middle">1</text>
<text x="160.8" y="575.1" text-anchor="middle">2</text>
<text x="214" y="575.1" text-anchor="middle">3</text>
<text x="267.2" y="575.1" text-anchor="middle">4</text>
<text x="320.4" y="575.1" text-anchor="middle">5</text>
<text x="47" y="562.5" text-anchor="end">0</text>
<text x="47" y="519.7" text-anchor="end">200</text>
<text x="47" y="476.9" text-anchor="end">400</text>
<text x="47" y="434" text-anchor="end">600</text>
<text x="47" y="391.2" text-anchor="end">800</text>
<text x="47" y="348.4" text-anchor="end">1000</text>
<text x="187.4" y="591.6" text-anchor="middle" font-size="12.25">RA/(ms· V<tspan font-size="7.2" dy="-4.2">-1</tspan><tspan dy="4.2">)</tspan></text>
<text transform="translate(18.3 451.7) rotate(-90)" text-anchor="middle" font-size="12.4">AF/kHz</text>
<text x="101.5" y="355.3" font-size="12.3">Tensile crack events</text>
<text x="101.5" y="370.2" font-size="12.3">Shear crack events</text>
</g>
<g stroke="#FE1D49"><path class="m" d="M121.6 557.2h0M66.1 554.4h0M76.6 544.3h0M63.7 556.6h0M63.9 554.8h0M110.6 557.8h0M90.6 553h0M60.4 556.4h0M57.6 557.8h0M106.7 554.5h0M82.2 550.1h0M77.7 543.1h0M63.2 555.5h0M59.8 556.6h0M130.8 549.6h0M171.5 557.9h0M78.1 557.8h0M93.1 555.4h0M75.9 558h0M118.4 558.2h0M86 546.1h0M77.4 544.3h0M90.8 547.5h0M87.1 558.1h0M133.8 558h0M63.5 554.5h0M77.7 546.3h0M58.7 557.1h0M102.8 549.4h0M176.4 558.1h0"/><path class="h" d="M121.6 557.2h0M66.1 554.4h0M76.6 544.3h0M63.7 556.6h0M63.9 554.8h0M110.6 557.8h0M90.6 553h0M60.4 556.4h0M57.6 557.8h0M106.7 554.5h0M82.2 550.1h0M77.7 543.1h0M63.2 555.5h0M59.8 556.6h0M130.8 549.6h0M171.5 557.9h0M78.1 557.8h0M93.1 555.4h0M75.9 558h0M118.4 558.2h0M86 546.1h0M77.4 544.3h0M90.8 547.5h0M87.1 558.1h0M133.8 558h0M63.5 554.5h0M77.7 546.3h0M58.7 557.1h0M102.8 549.4h0M176.4 558.1h0"/><path class="m" d="M59.8 557.8h0M71.3 548.6h0M254.9 557.2h0M65.1 555.8h0M97.5 553.1h0M145.9 558.1h0M105 558h0M77 553.6h0M135.8 557.7h0M80.3 558.1h0M85.6 545.7h0M61.2 558.1h0M63.4 553.5h0M169.2 557.6h0M72.3 546.9h0M190.1 557.7h0M57.8 557.8h0M80.2 556.4h0M99.2 549.4h0M61.1 557.7h0M58.6 557.3h0M67.4 552.8h0M107.2 551h0M135.7 557.9h0M68.9 556.6h0M61.4 558h0M96.3 550.7h0M97.8 548.6h0M83.2 549.8h0M84.8 549.2h0"/><path class="h" d="M59.8 557.8h0M71.3 548.6h0M254.9 557.2h0M65.1 555.8h0M97.5 553.1h0M145.9 558.1h0M105 558h0M77 553.6h0M135.8 557.7h0M80.3 558.1h0M85.6 545.7h0M61.2 558.1h0M63.4 553.5h0M169.2 557.6h0M72.3 546.9h0M190.1 557.7h0M57.8 557.8h0M80.2 556.4h0M99.2 549.4h0M61.1 557.7h0M58.6 557.3h0M67.4 552.8h0M107.2 551h0M135.7 557.9h0M68.9 556.6h0M61.4 558h0M96.3 550.7h0M97.8 548.6h0M83.2 549.8h0M84.8 549.2h0"/><path class="m" d="M201.2 557.7h0M74.4 558h0M87.8 553.5h0M175.6 557.8h0M150 553.6h0M58.2 557.6h0M71.2 550.5h0M80.7 552.3h0M69.6 551.7h0M63.4 556.5h0M60.8 555.5h0M96 553.9h0M70.1 557.8h0M67 551.2h0M83.6 555.7h0M65.8 554.7h0M114.5 555.6h0M77.8 546.8h0M190.5 557h0M86 557.7h0M81.3 554h0M162.9 558h0M95.5 557.3h0M92.2 553.7h0M158.6 556.9h0M102 556.5h0M135.5 552.3h0M69.8 557.7h0M79.4 548.6h0M110.1 555h0"/><path class="h" d="M201.2 557.7h0M74.4 558h0M87.8 553.5h0M175.6 557.8h0M150 553.6h0M58.2 557.6h0M71.2 550.5h0M80.7 552.3h0M69.6 551.7h0M63.4 556.5h0M60.8 555.5h0M96 553.9h0M70.1 557.8h0M67 551.2h0M83.6 555.7h0M65.8 554.7h0M114.5 555.6h0M77.8 546.8h0M190.5 557h0M86 557.7h0M81.3 554h0M162.9 558h0M95.5 557.3h0M92.2 553.7h0M158.6 556.9h0M102 556.5h0M135.5 552.3h0M69.8 557.7h0M79.4 548.6h0M110.1 555h0"/><path class="m" d="M89.8 557.1h0M130.6 552.5h0M57.8 557.6h0M93.1 556.1h0M82.6 544.9h0M97.2 549.3h0M102.5 557.5h0M101.8 550.4h0M57.4 558.1h0M100.7 555.2h0M57.5 557.8h0M139.7 555h0M143.7 552.9h0M96 553.5h0M122.9 558h0M148.2 555.4h0M58.9 557.3h0M63.2 556.6h0M62.2 555h0M61.7 557.5h0M105.7 550.4h0M111.8 552.6h0M150.2 558h0M106.1 558.1h0M97 558.1h0M67.8 550.7h0M267.2 557h0M64.3 554.2h0M75 544.6h0M100.5 557.8h0"/><path class="h" d="M89.8 557.1h0M130.6 552.5h0M57.8 557.6h0M93.1 556.1h0M82.6 544.9h0M97.2 549.3h0M102.5 557.5h0M101.8 550.4h0M57.4 558.1h0M100.7 555.2h0M57.5 557.8h0M139.7 555h0M143.7 552.9h0M96 553.5h0M122.9 558h0M148.2 555.4h0M58.9 557.3h0M63.2 556.6h0M62.2 555h0M61.7 557.5h0M105.7 550.4h0M111.8 552.6h0M150.2 558h0M106.1 558.1h0M97 558.1h0M67.8 550.7h0M267.2 557h0M64.3 554.2h0M75 544.6h0M100.5 557.8h0"/><path class="m" d="M160 558.1h0M117.3 558.1h0M79.4 557.7h0M63.2 554.5h0M84.9 544h0M99.8 550.1h0M88.8 550.3h0M68.5 552h0M58.4 557.3h0M95.2 557.9h0M173.8 557.9h0M144.1 558.1h0M180 556.8h0M78.2 549.4h0M125.2 555.4h0M204.8 557.8h0M152.6 558h0M83.2 546h0M111.2 558h0M296.5 557.8h0M66.8 552.4h0M95.6 553.8h0M114.3 557.8h0M75.8 555.4h0M72.4 557.8h0M174.4 556.5h0M120.9 558.2h0M72.8 550h0M148.4 556.6h0M91.4 546.1h0"/><path class="h" d="M160 558.1h0M117.3 558.1h0M79.4 557.7h0M63.2 554.5h0M84.9 544h0M99.8 550.1h0M88.8 550.3h0M68.5 552h0M58.4 557.3h0M95.2 557.9h0M173.8 557.9h0M144.1 558.1h0M180 556.8h0M78.2 549.4h0M125.2 555.4h0M204.8 557.8h0M152.6 558h0M83.2 546h0M111.2 558h0M296.5 557.8h0M66.8 552.4h0M95.6 553.8h0M114.3 557.8h0M75.8 555.4h0M72.4 557.8h0M174.4 556.5h0M120.9 558.2h0M72.8 550h0M148.4 556.6h0M91.4 546.1h0"/><path class="m" d="M64.5 557.8h0M111 554.5h0M68.7 557.4h0M65.7 551.4h0M136 555.6h0M117.3 551.3h0M160.7 557.4h0M93 556.5h0M70.9 555.3h0M100.9 551.9h0M85.1 544.9h0M98.6 557.1h0M271.4 557.2h0M81.3 557.9h0M65 555.4h0M118.8 558.1h0M112.3 557.9h0M85.5 558.2h0M85.1 552.7h0M127.8 557.8h0M84.3 557.9h0M199 558h0M115.1 552.1h0M81.4 550.9h0M62.6 553.6h0M169.4 557.8h0M115.1 554.2h0M100.9 548.3h0M98.6 552.8h0M98 548.7h0"/><path class="h" d="M64.5 557.8h0M111 554.5h0M68.7 557.4h0M65.7 551.4h0M136 555.6h0M117.3 551.3h0M160.7 557.4h0M93 556.5h0M70.9 555.3h0M100.9 551.9h0M85.1 544.9h0M98.6 557.1h0M271.4 557.2h0M81.3 557.9h0M65 555.4h0M118.8 558.1h0M112.3 557.9h0M85.5 558.2h0M85.1 552.7h0M127.8 557.8h0M84.3 557.9h0M199 558h0M115.1 552.1h0M81.4 550.9h0M62.6 553.6h0M169.4 557.8h0M115.1 554.2h0M100.9 548.3h0M98.6 552.8h0M98 548.7h0"/><path class="m" d="M78.5 547.8h0M124.1 554.5h0M68.3 554.6h0M175 554.7h0M141.9 558h0M96.8 552.4h0M80.3 557h0M259.2 557h0M100.9 554.6h0M86.5 548.2h0M167 555.8h0M127.2 557.8h0M116.4 556.3h0M93 547.9h0M94.1 556.8h0M91.9 555.2h0M91.2 545.1h0M93.9 549.5h0M87.1 550.1h0M103.7 554.1h0M143.7 557.8h0M85.5 551.1h0M65.7 557.8h0M61.4 557.5h0M79.6 550.1h0M61.4 555.4h0M131.2 558.2h0M67 556.3h0M65.6 552.1h0M74.8 544.5h0"/><path class="h" d="M78.5 547.8h0M124.1 554.5h0M68.3 554.6h0M175 554.7h0M141.9 558h0M96.8 552.4h0M80.3 557h0M259.2 557h0M100.9 554.6h0M86.5 548.2h0M167 555.8h0M127.2 557.8h0M116.4 556.3h0M93 547.9h0M94.1 556.8h0M91.9 555.2h0M91.2 545.1h0M93.9 549.5h0M87.1 550.1h0M103.7 554.1h0M143.7 557.8h0M85.5 551.1h0M65.7 557.8h0M61.4 557.5h0M79.6 550.1h0M61.4 555.4h0M131.2 558.2h0M67 556.3h0M65.6 552.1h0M74.8 544.5h0"/><path class="m" d="M67 557.3h0M129.6 557.8h0M60.6 558.1h0M80.7 558.1h0M151.1 557.9h0M109.5 553.9h0M81.7 554.2h0M58.2 557.6h0M76 552.3h0M77.1 556h0M91.1 557.9h0M144.2 554.1h0M215.6 554.4h0M65.4 555h0M62.5 554.3h0M59.3 556.2h0M79.7 545.1h0M126.2 558.1h0M86.1 553.4h0M57.3 558h0M64.1 556.7h0M60.8 556.9h0M112.8 552h0M59.6 556.3h0M71.2 558.1h0M58.4 557.4h0M67.3 552.4h0M92.8 551.1h0M109.1 548.3h0M60.8 556.9h0"/><path class="h" d="M67 557.3h0M129.6 557.8h0M60.6 558.1h0M80.7 558.1h0M151.1 557.9h0M109.5 553.9h0M81.7 554.2h0M58.2 557.6h0M76 552.3h0M77.1 556h0M91.1 557.9h0M144.2 554.1h0M215.6 554.4h0M65.4 555h0M62.5 554.3h0M59.3 556.2h0M79.7 545.1h0M126.2 558.1h0M86.1 553.4h0M57.3 558h0M64.1 556.7h0M60.8 556.9h0M112.8 552h0M59.6 556.3h0M71.2 558.1h0M58.4 557.4h0M67.3 552.4h0M92.8 551.1h0M109.1 548.3h0M60.8 556.9h0"/><path class="m" d="M172.6 556.7h0M75.2 548.1h0M64.4 553.4h0M86.3 554.4h0M76.2 545.8h0M88 545.8h0M82.1 546.2h0M64.6 555.6h0M66.5 555.8h0M92.2 553.6h0M61.4 556.2h0M135.2 556.8h0M74.8 558.1h0M98.8 553.7h0M93.8 557.9h0M172.8 556.5h0M58.4 557.8h0M77.9 556.6h0M194.8 557.1h0M186.3 545h0M112.9 550.2h0M61.5 555.6h0M104 555.8h0M87.1 546.8h0M88.2 546.9h0M68.3 558.1h0M62.5 556.4h0M119.8 555.6h0M86 546.1h0M66.2 553.4h0"/><path class="h" d="M172.6 556.7h0M75.2 548.1h0M64.4 553.4h0M86.3 554.4h0M76.2 545.8h0M88 545.8h0M82.1 546.2h0M64.6 555.6h0M66.5 555.8h0M92.2 553.6h0M61.4 556.2h0M135.2 556.8h0M74.8 558.1h0M98.8 553.7h0M93.8 557.9h0M172.8 556.5h0M58.4 557.8h0M77.9 556.6h0M194.8 557.1h0M186.3 545h0M112.9 550.2h0M61.5 555.6h0M104 555.8h0M87.1 546.8h0M88.2 546.9h0M68.3 558.1h0M62.5 556.4h0M119.8 555.6h0M86 546.1h0M66.2 553.4h0"/><path class="m" d="M61.5 554.5h0M60.5 558.1h0M68.1 549.4h0M129.3 556.6h0M64.4 555h0M106.5 558h0M66.1 552.8h0M187.7 557.8h0M163.6 557.7h0M117.8 558.1h0M103.1 557.6h0M85 547.9h0M122.2 552.9h0M120 555.7h0M159.9 557.7h0M184.9 558.1h0M106.8 555.8h0M66.2 553.7h0M56.9 558.2h0M131.9 556.6h0M63.3 558.2h0M138.7 552.4h0M70.3 550.3h0M73.1 557.9h0M56.5 558.2h0M57 558.2h0M67.7 553.9h0M77.2 557.8h0M122.3 555.6h0M116.8 553.8h0"/><path class="h" d="M61.5 554.5h0M60.5 558.1h0M68.1 549.4h0M129.3 556.6h0M64.4 555h0M106.5 558h0M66.1 552.8h0M187.7 557.8h0M163.6 557.7h0M117.8 558.1h0M103.1 557.6h0M85 547.9h0M122.2 552.9h0M120 555.7h0M159.9 557.7h0M184.9 558.1h0M106.8 555.8h0M66.2 553.7h0M56.9 558.2h0M131.9 556.6h0M63.3 558.2h0M138.7 552.4h0M70.3 550.3h0M73.1 557.9h0M56.5 558.2h0M57 558.2h0M67.7 553.9h0M77.2 557.8h0M122.3 555.6h0M116.8 553.8h0"/><path class="m" d="M74.6 548.2h0M61.8 554.2h0M158.3 558h0M80.9 542.6h0M77.1 549.5h0M116.7 551.9h0M86.4 550.2h0M135 553.7h0M59.6 558h0M188 557.2h0M86.4 543.8h0M106.7 553.3h0M95.5 557.9h0M56.8 558.2h0M124.4 558h0M176.7 556.3h0M123.3 551.8h0M74.7 548.6h0M59.5 558.1h0M70.6 547.7h0M80.7 554.6h0M72 547.6h0M179.3 555.9h0M94.3 555.3h0M166.3 558.1h0M61.6 554.6h0M157.3 557h0M72.1 557.8h0M114.9 557.9h0M60 556.1h0"/><path class="h" d="M74.6 548.2h0M61.8 554.2h0M158.3 558h0M80.9 542.6h0M77.1 549.5h0M116.7 551.9h0M86.4 550.2h0M135 553.7h0M59.6 558h0M188 557.2h0M86.4 543.8h0M106.7 553.3h0M95.5 557.9h0M56.8 558.2h0M124.4 558h0M176.7 556.3h0M123.3 551.8h0M74.7 548.6h0M59.5 558.1h0M70.6 547.7h0M80.7 554.6h0M72 547.6h0M179.3 555.9h0M94.3 555.3h0M166.3 558.1h0M61.6 554.6h0M157.3 557h0M72.1 557.8h0M114.9 557.9h0M60 556.1h0"/><path class="m" d="M152.2 557.7h0M89.9 545h0M70.4 555.9h0M74.5 550.8h0M116.5 553.2h0M72.9 546.8h0M167.1 557.9h0M84.1 544h0M140 557.8h0M67.9 551.7h0M151.8 557.9h0M83.3 558.1h0M62.3 556.5h0M82.2 554.4h0M74.3 557.3h0M191.2 557h0M96.1 557.3h0M121.8 550.5h0M64.1 555.5h0M62 556.9h0M66.5 553.4h0M90.5 555.5h0M130.7 553.2h0M119.5 553.9h0M229.9 556.1h0M153.9 557h0M239.5 557h0M76.7 552h0M159 554.3h0M96.1 552.7h0"/><path class="h" d="M152.2 557.7h0M89.9 545h0M70.4 555.9h0M74.5 550.8h0M116.5 553.2h0M72.9 546.8h0M167.1 557.9h0M84.1 544h0M140 557.8h0M67.9 551.7h0M151.8 557.9h0M83.3 558.1h0M62.3 556.5h0M82.2 554.4h0M74.3 557.3h0M191.2 557h0M96.1 557.3h0M121.8 550.5h0M64.1 555.5h0M62 556.9h0M66.5 553.4h0M90.5 555.5h0M130.7 553.2h0M119.5 553.9h0M229.9 556.1h0M153.9 557h0M239.5 557h0M76.7 552h0M159 554.3h0M96.1 552.7h0"/><path class="m" d="M121.7 557.5h0M64.7 554.8h0M71.1 554.9h0M58.3 557.3h0M131.3 557.9h0M59.9 556h0M102.2 541.6h0M120.4 554.3h0M61.8 555.2h0M159.1 558h0M67.9 550.1h0M78.6 554.3h0M76.6 556.6h0M139.9 552.5h0M72.2 553.7h0M126.8 549.8h0M116.2 557.9h0M104.7 557.8h0M62.6 554h0M68.4 556.6h0M62.3 556h0M104.4 552.6h0M85.3 551.3h0M91.3 556.1h0M273.6 556.8h0M166.7 555.9h0M70.9 557.3h0M105.5 554.4h0M180.6 558.2h0M126.4 551h0"/><path class="h" d="M121.7 557.5h0M64.7 554.8h0M71.1 554.9h0M58.3 557.3h0M131.3 557.9h0M59.9 556h0M102.2 541.6h0M120.4 554.3h0M61.8 555.2h0M159.1 558h0M67.9 550.1h0M78.6 554.3h0M76.6 556.6h0M139.9 552.5h0M72.2 553.7h0M126.8 549.8h0M116.2 557.9h0M104.7 557.8h0M62.6 554h0M68.4 556.6h0M62.3 556h0M104.4 552.6h0M85.3 551.3h0M91.3 556.1h0M273.6 556.8h0M166.7 555.9h0M70.9 557.3h0M105.5 554.4h0M180.6 558.2h0M126.4 551h0"/><path class="m" d="M90.6 558.1h0M110.6 554.9h0M150.1 556.9h0M59.9 557.5h0M68.4 551.9h0M104.9 547.9h0M147.3 557.8h0M65.9 552.7h0M119.3 557.6h0M117.6 552.8h0M100.6 556.4h0M89.7 558.2h0M103.9 557.3h0M116.8 555.6h0M88.5 557.8h0M98.4 558.1h0M124.3 558.1h0M144.1 555.8h0M141.6 557.7h0M89.7 553.5h0M186 558.2h0M118.8 557.8h0M66.5 557.8h0M181.5 555.6h0M58.6 558.1h0M85.4 544h0M99.3 558.1h0M106.8 558.2h0M79.1 544.7h0M233.1 557.2h0"/><path class="h" d="M90.6 558.1h0M110.6 554.9h0M150.1 556.9h0M59.9 557.5h0M68.4 551.9h0M104.9 547.9h0M147.3 557.8h0M65.9 552.7h0M119.3 557.6h0M117.6 552.8h0M100.6 556.4h0M89.7 558.2h0M103.9 557.3h0M116.8 555.6h0M88.5 557.8h0M98.4 558.1h0M124.3 558.1h0M144.1 555.8h0M141.6 557.7h0M89.7 553.5h0M186 558.2h0M118.8 557.8h0M66.5 557.8h0M181.5 555.6h0M58.6 558.1h0M85.4 544h0M99.3 558.1h0M106.8 558.2h0M79.1 544.7h0M233.1 557.2h0"/><path class="m" d="M116.7 551.6h0M65.2 553.9h0M106.1 552.5h0M200.6 557.3h0M186.6 558.2h0M128.7 557.9h0M92.9 558h0M60.7 557.2h0M117.7 556.8h0M70.3 556.5h0M135.7 557.6h0M75.5 557.9h0M82.2 545.3h0M60.5 556.8h0M87.8 550h0M169.9 558h0M87.1 549h0M100.2 548.2h0M101.5 554.4h0M110 555.6h0M81.3 551.4h0M110.1 555.5h0M142.3 558h0M84.5 548.6h0M129.7 557.4h0M65.1 552.5h0M108 557.7h0M57.1 557.9h0M72.5 550.5h0M92.9 557.7h0"/><path class="h" d="M116.7 551.6h0M65.2 553.9h0M106.1 552.5h0M200.6 557.3h0M186.6 558.2h0M128.7 557.9h0M92.9 558h0M60.7 557.2h0M117.7 556.8h0M70.3 556.5h0M135.7 557.6h0M75.5 557.9h0M82.2 545.3h0M60.5 556.8h0M87.8 550h0M169.9 558h0M87.1 549h0M100.2 548.2h0M101.5 554.4h0M110 555.6h0M81.3 551.4h0M110.1 555.5h0M142.3 558h0M84.5 548.6h0M129.7 557.4h0M65.1 552.5h0M108 557.7h0M57.1 557.9h0M72.5 550.5h0M92.9 557.7h0"/><path class="m" d="M217.2 556.1h0M98.2 549.8h0M155.3 558.1h0M117.5 558.1h0M227.3 557h0M110.6 557.9h0M135.4 555.3h0M88.2 554.4h0M125.7 556.7h0M119.6 553h0M94 553.2h0M59.8 556.5h0M214 553.1h0M62.6 554h0M236.3 557.4h0M145.6 553.7h0M77.6 548.1h0M64.1 558h0M64.5 557.1h0M103.3 550.2h0M83.7 545.9h0M98.1 558.1h0M172.9 554.6h0M87.1 551.4h0M68.5 557.5h0M79.7 552.2h0M74.6 556.2h0M242.7 551.6h0M112.9 555.6h0M88 556.8h0"/><path class="h" d="M217.2 556.1h0M98.2 549.8h0M155.3 558.1h0M117.5 558.1h0M227.3 557h0M110.6 557.9h0M135.4 555.3h0M88.2 554.4h0M125.7 556.7h0M119.6 553h0M94 553.2h0M59.8 556.5h0M214 553.1h0M62.6 554h0M236.3 557.4h0M145.6 553.7h0M77.6 548.1h0M64.1 558h0M64.5 557.1h0M103.3 550.2h0M83.7 545.9h0M98.1 558.1h0M172.9 554.6h0M87.1 551.4h0M68.5 557.5h0M79.7 552.2h0M74.6 556.2h0M242.7 551.6h0M112.9 555.6h0M88 556.8h0"/><path class="m" d="M108.8 556.2h0M68.5 555.2h0M82 557.3h0M57.5 557.8h0M74 550.9h0M96.4 547.2h0M153.9 557.6h0M81.2 543h0M79.6 548.6h0M96.2 557.9h0M125.9 554.3h0M69.7 552.9h0M103.3 558h0M72.8 553.6h0M80.4 553.4h0M56.7 558.2h0M90.5 548h0M76.9 553.4h0M63.3 556h0M93.3 554.8h0M118.2 558.1h0M80.9 555.9h0M92.4 552h0M85.3 557.9h0M76.5 545.2h0M134.3 550.6h0M150.3 557.8h0M104.4 554.6h0M157.7 556.1h0M219.3 557.4h0"/><path class="h" d="M108.8 556.2h0M68.5 555.2h0M82 557.3h0M57.5 557.8h0M74 550.9h0M96.4 547.2h0M153.9 557.6h0M81.2 543h0M79.6 548.6h0M96.2 557.9h0M125.9 554.3h0M69.7 552.9h0M103.3 558h0M72.8 553.6h0M80.4 553.4h0M56.7 558.2h0M90.5 548h0M76.9 553.4h0M63.3 556h0M93.3 554.8h0M118.2 558.1h0M80.9 555.9h0M92.4 552h0M85.3 557.9h0M76.5 545.2h0M134.3 550.6h0M150.3 557.8h0M104.4 554.6h0M157.7 556.1h0M219.3 557.4h0"/><path class="m" d="M60.1 558h0M101.8 547.6h0M126.2 557.8h0M58.8 557.2h0M169.6 554.8h0M64.7 557.3h0M63.3 553.7h0M91 555.7h0M67.4 557.5h0M62.4 557.9h0M94.6 557.4h0M78.2 548.1h0M116 554.7h0M101.8 557.9h0M79.3 550.1h0M59.8 557.9h0M153.9 557.8h0M85.1 553.1h0M102.1 552.9h0M82.5 549h0M67.7 551.8h0M85 557.9h0M124.7 558.2h0M56.2 558h0M94.6 553.9h0M84 555.7h0M95.8 547.2h0M73.4 552.9h0M122.4 558.1h0M66.8 558.1h0"/><path class="h" d="M60.1 558h0M101.8 547.6h0M126.2 557.8h0M58.8 557.2h0M169.6 554.8h0M64.7 557.3h0M63.3 553.7h0M91 555.7h0M67.4 557.5h0M62.4 557.9h0M94.6 557.4h0M78.2 548.1h0M116 554.7h0M101.8 557.9h0M79.3 550.1h0M59.8 557.9h0M153.9 557.8h0M85.1 553.1h0M102.1 552.9h0M82.5 549h0M67.7 551.8h0M85 557.9h0M124.7 558.2h0M56.2 558h0M94.6 553.9h0M84 555.7h0M95.8 547.2h0M73.4 552.9h0M122.4 558.1h0M66.8 558.1h0"/><path class="m" d="M73.1 557.5h0M68.3 549.5h0M61.4 556.9h0M71.3 550h0M69 550.3h0M89.9 555.6h0M164.6 558h0M64.8 555.1h0M70.1 547.5h0M173.6 557.6h0M79.9 557.3h0M129.9 558h0M103.2 557.9h0M160.5 556.2h0M127 555.2h0M87.9 548h0M105.9 551.7h0M65.4 555.8h0M160.2 556.6h0M177.4 556.8h0M71.6 557.4h0M129.7 557.8h0M65.7 556h0M84.6 557.4h0M81.7 544.9h0M61.8 556.5h0M94.9 552.3h0M174.8 555.8h0M160.9 554.3h0M79.1 557.9h0"/><path class="h" d="M73.1 557.5h0M68.3 549.5h0M61.4 556.9h0M71.3 550h0M69 550.3h0M89.9 555.6h0M164.6 558h0M64.8 555.1h0M70.1 547.5h0M173.6 557.6h0M79.9 557.3h0M129.9 558h0M103.2 557.9h0M160.5 556.2h0M127 555.2h0M87.9 548h0M105.9 551.7h0M65.4 555.8h0M160.2 556.6h0M177.4 556.8h0M71.6 557.4h0M129.7 557.8h0M65.7 556h0M84.6 557.4h0M81.7 544.9h0M61.8 556.5h0M94.9 552.3h0M174.8 555.8h0M160.9 554.3h0M79.1 557.9h0"/><path class="m" d="M75.1 550.5h0M98.3 553.7h0M108.8 558h0M62.6 555h0M139.8 558h0M70.2 553.3h0M138.3 557.9h0M76.7 556.7h0M60.3 555.5h0M164 556.3h0M113.5 557.8h0M136.1 557.5h0M90.9 556.4h0M120.1 554.7h0M164.3 557.8h0M59.3 557.8h0M120.9 558.1h0M192.4 557.6h0M122.6 558h0M83.6 543.6h0M84.2 365.9h0"/><path class="h" d="M75.1 550.5h0M98.3 553.7h0M108.8 558h0M62.6 555h0M139.8 558h0M70.2 553.3h0M138.3 557.9h0M76.7 556.7h0M60.3 555.5h0M164 556.3h0M113.5 557.8h0M136.1 557.5h0M90.9 556.4h0M120.1 554.7h0M164.3 557.8h0M59.3 557.8h0M120.9 558.1h0M192.4 557.6h0M122.6 558h0M83.6 543.6h0M84.2 365.9h0"/></g>
<g stroke="#1F63FF"><path class="m" d="M63 531.8h0M59.2 548.5h0M71.2 538.9h0M62.8 537.2h0M66.4 541.1h0M55.7 551.8h0M54.8 500.3h0M76.9 538.5h0M69.6 544.5h0M75.8 539.8h0M55 520.1h0M55.1 551.1h0M66.7 546.2h0M55.4 553.5h0M65 542.7h0M61 541.8h0M63 541h0M74.3 539.8h0M55.9 543.8h0M65.1 540.2h0M77.2 538.8h0M68.8 545.3h0M56.9 546.1h0M55 547.5h0M59.7 552.7h0M54.8 398.1h0M65.6 544.7h0M69.8 543.6h0M71.8 539.9h0M57.8 539.8h0"/><path class="h" d="M63 531.8h0M59.2 548.5h0M71.2 538.9h0M62.8 537.2h0M66.4 541.1h0M55.7 551.8h0M54.8 500.3h0M76.9 538.5h0M69.6 544.5h0M75.8 539.8h0M55 520.1h0M55.1 551.1h0M66.7 546.2h0M55.4 553.5h0M65 542.7h0M61 541.8h0M63 541h0M74.3 539.8h0M55.9 543.8h0M65.1 540.2h0M77.2 538.8h0M68.8 545.3h0M56.9 546.1h0M55 547.5h0M59.7 552.7h0M54.8 398.1h0M65.6 544.7h0M69.8 543.6h0M71.8 539.9h0M57.8 539.8h0"/><path class="m" d="M76.3 539.5h0M68.8 544.6h0M56.1 537.7h0M68.2 545.5h0M63.6 541.2h0M56.5 535.8h0M68.4 543.1h0M55 523.7h0M77.7 538.4h0M57.3 553.5h0M55.4 554.9h0M55 523.1h0M55 553.9h0M70.6 543.3h0M54.8 555h0M55 551.2h0M60.5 549.3h0M57.3 535.9h0M58.4 536.9h0M75.7 540h0M55 546.4h0M58.7 553.7h0M71.5 543h0M58.6 540.5h0M54.6 521.2h0M70.2 540.1h0M55 552h0M74.7 540.4h0M72.8 542h0M63.5 542.9h0"/><path class="h" d="M76.3 539.5h0M68.8 544.6h0M56.1 537.7h0M68.2 545.5h0M63.6 541.2h0M56.5 535.8h0M68.4 543.1h0M55 523.7h0M77.7 538.4h0M57.3 553.5h0M55.4 554.9h0M55 523.1h0M55 553.9h0M70.6 543.3h0M54.8 555h0M55 551.2h0M60.5 549.3h0M57.3 535.9h0M58.4 536.9h0M75.7 540h0M55 546.4h0M58.7 553.7h0M71.5 543h0M58.6 540.5h0M54.6 521.2h0M70.2 540.1h0M55 552h0M74.7 540.4h0M72.8 542h0M63.5 542.9h0"/><path class="m" d="M57.6 554.5h0M57.1 531.2h0M74.6 540h0M63.9 535.9h0M72.4 541.7h0M54.4 551h0M54.8 344.6h0M74.4 539.9h0M54.3 556.1h0M61.8 550.7h0M68 545.2h0M65.1 545.2h0M68.3 540.2h0M55 519.2h0M55 517.6h0M73.4 539.4h0M57.8 527.9h0M60.9 550.9h0M76.5 539h0M74.3 540.5h0M66.1 537.8h0M68.2 537h0M61.2 543.1h0M55 556.3h0M54.5 534.1h0M76.7 539h0M63 542.9h0M64.8 547.7h0M61.3 542.7h0M67 542.6h0"/><path class="h" d="M57.6 554.5h0M57.1 531.2h0M74.6 540h0M63.9 535.9h0M72.4 541.7h0M54.4 551h0M54.8 344.6h0M74.4 539.9h0M54.3 556.1h0M61.8 550.7h0M68 545.2h0M65.1 545.2h0M68.3 540.2h0M55 519.2h0M55 517.6h0M73.4 539.4h0M57.8 527.9h0M60.9 550.9h0M76.5 539h0M74.3 540.5h0M66.1 537.8h0M68.2 537h0M61.2 543.1h0M55 556.3h0M54.5 534.1h0M76.7 539h0M63 542.9h0M64.8 547.7h0M61.3 542.7h0M67 542.6h0"/><path class="m" d="M55 544.7h0M55 518.4h0M55 548.5h0M54.8 494.5h0M59.2 546.1h0M55 532.5h0M65.7 534.8h0M55 535.1h0M72.5 542.3h0M62.6 534.4h0M61.2 533.4h0M57.5 537.5h0M58 551.1h0M66.6 539.5h0M76.5 539.1h0M72.8 540.5h0M68.8 541.6h0M62.7 536h0M69.3 541.2h0M60.5 526.5h0M55.8 545.7h0M56.1 527.6h0M65.3 545.8h0M60 528.1h0M62.2 545.1h0M54.8 549.3h0M55.7 516.6h0M63.3 545.6h0M54.3 536.9h0M70.5 543.6h0"/><path class="h" d="M55 544.7h0M55 518.4h0M55 548.5h0M54.8 494.5h0M59.2 546.1h0M55 532.5h0M65.7 534.8h0M55 535.1h0M72.5 542.3h0M62.6 534.4h0M61.2 533.4h0M57.5 537.5h0M58 551.1h0M66.6 539.5h0M76.5 539.1h0M72.8 540.5h0M68.8 541.6h0M62.7 536h0M69.3 541.2h0M60.5 526.5h0M55.8 545.7h0M56.1 527.6h0M65.3 545.8h0M60 528.1h0M62.2 545.1h0M54.8 549.3h0M55.7 516.6h0M63.3 545.6h0M54.3 536.9h0M70.5 543.6h0"/><path class="m" d="M69.2 541.9h0M70.2 541.2h0M56.4 551.7h0M72.6 541.8h0M60.8 530.9h0M54.8 549.1h0M55 517h0M57.7 554.5h0M77.1 538.8h0M57.9 521.6h0M60.2 536.4h0M54.3 524.9h0M55 539.7h0M75.3 538.7h0M65.6 539.2h0M66.4 540.9h0M55.3 522.4h0M65.8 534.1h0M55 556.8h0M63.8 531.6h0M63.8 543.1h0M77.2 538.8h0M54.8 430.2h0M60 533h0M55.4 518.3h0M55 514.8h0M75.8 539.8h0M56.7 554.5h0M70.9 538.7h0M64.1 533.6h0"/><path class="h" d="M69.2 541.9h0M70.2 541.2h0M56.4 551.7h0M72.6 541.8h0M60.8 530.9h0M54.8 549.1h0M55 517h0M57.7 554.5h0M77.1 538.8h0M57.9 521.6h0M60.2 536.4h0M54.3 524.9h0M55 539.7h0M75.3 538.7h0M65.6 539.2h0M66.4 540.9h0M55.3 522.4h0M65.8 534.1h0M55 556.8h0M63.8 531.6h0M63.8 543.1h0M77.2 538.8h0M54.8 430.2h0M60 533h0M55.4 518.3h0M55 514.8h0M75.8 539.8h0M56.7 554.5h0M70.9 538.7h0M64.1 533.6h0"/><path class="m" d="M60.4 551h0M54.8 487.3h0M64 536.3h0M59.7 548.6h0M64.6 540.8h0M54.5 542.6h0M55 543.2h0M55 549.3h0M75.2 539.1h0M70.8 539.5h0M64.3 543.2h0M61.1 527.4h0M72.5 542.2h0M60.4 540.1h0M55 541.5h0M64.3 541.1h0M76.6 539.1h0M56.6 522.9h0M64 543.7h0M55 520.7h0M55 540.6h0M77.4 538.7h0M57.6 526.2h0M66.6 538.1h0M55 542.7h0M71.6 540.4h0M65.8 541.2h0M75.6 538.8h0M75.8 538.9h0M55.1 537.9h0"/><path class="h" d="M60.4 551h0M54.8 487.3h0M64 536.3h0M59.7 548.6h0M64.6 540.8h0M54.5 542.6h0M55 543.2h0M55 549.3h0M75.2 539.1h0M70.8 539.5h0M64.3 543.2h0M61.1 527.4h0M72.5 542.2h0M60.4 540.1h0M55 541.5h0M64.3 541.1h0M76.6 539.1h0M56.6 522.9h0M64 543.7h0M55 520.7h0M55 540.6h0M77.4 538.7h0M57.6 526.2h0M66.6 538.1h0M55 542.7h0M71.6 540.4h0M65.8 541.2h0M75.6 538.8h0M75.8 538.9h0M55.1 537.9h0"/><path class="m" d="M56.4 553h0M72.7 538.6h0M61.4 538.5h0M54.8 512.8h0M65.1 533.8h0M59.7 538.1h0M68.7 540.5h0M55 524.5h0M55 531.5h0M54.5 519.7h0M71.1 539.7h0M55 526.9h0M72.7 539.7h0M61 535.9h0M54.8 478.4h0M77.7 538.4h0M60.9 551.6h0M73.3 541.4h0M64.8 546.1h0M55 550.1h0M69.2 543.2h0M66.2 541.5h0M61 546.8h0M64.6 548.8h0M61.2 532.9h0M66.7 546.8h0M57.7 549.9h0M60.4 536h0M72.9 540.8h0M55 538.2h0"/><path class="h" d="M56.4 553h0M72.7 538.6h0M61.4 538.5h0M54.8 512.8h0M65.1 533.8h0M59.7 538.1h0M68.7 540.5h0M55 524.5h0M55 531.5h0M54.5 519.7h0M71.1 539.7h0M55 526.9h0M72.7 539.7h0M61 535.9h0M54.8 478.4h0M77.7 538.4h0M60.9 551.6h0M73.3 541.4h0M64.8 546.1h0M55 550.1h0M69.2 543.2h0M66.2 541.5h0M61 546.8h0M64.6 548.8h0M61.2 532.9h0M66.7 546.8h0M57.7 549.9h0M60.4 536h0M72.9 540.8h0M55 538.2h0"/><path class="m" d="M65.4 544.4h0M63.9 533.3h0M62.5 542.3h0M54.8 509.3h0M59.6 538.2h0M55 529.8h0M75.2 540.4h0M66.9 541.3h0M55 526h0M55 529.2h0M66.7 535.1h0M73.6 539.7h0M77.5 538.5h0M70.9 542.2h0M58.9 552.4h0M64.8 548.6h0M71 541.1h0M55 530.7h0M70.5 540.9h0M67 537h0M63.7 548.7h0M55 528.2h0M77.2 536.4h0M74.3 540.6h0M69.3 540.9h0M65.3 536.9h0M75.7 539.5h0M62.3 545.3h0M60.5 540.6h0M56.4 545.3h0"/><path class="h" d="M65.4 544.4h0M63.9 533.3h0M62.5 542.3h0M54.8 509.3h0M59.6 538.2h0M55 529.8h0M75.2 540.4h0M66.9 541.3h0M55 526h0M55 529.2h0M66.7 535.1h0M73.6 539.7h0M77.5 538.5h0M70.9 542.2h0M58.9 552.4h0M64.8 548.6h0M71 541.1h0M55 530.7h0M70.5 540.9h0M67 537h0M63.7 548.7h0M55 528.2h0M77.2 536.4h0M74.3 540.6h0M69.3 540.9h0M65.3 536.9h0M75.7 539.5h0M62.3 545.3h0M60.5 540.6h0M56.4 545.3h0"/><path class="m" d="M62.1 536.3h0M71.8 539.3h0M63.3 543h0M72.5 541h0M69.6 544.8h0M55 533.5h0M54.8 505.2h0M57.7 545.6h0M59 551.6h0M57.1 524.9h0M55 536.1h0M54.8 451.7h0M61 540.9h0M67 538.1h0M65.2 540.1h0M71.7 542.2h0M56.7 532.5h0M74.2 541.1h0M55 525.1h0M63.9 548.7h0M77.3 538.7h0M55 522.5h0M58.4 552h0M73.5 540.3h0M63.9 549.3h0M74.1 540.9h0M58 537.5h0M54.4 555.8h0M70.4 543.7h0M66.2 543.5h0"/><path class="h" d="M62.1 536.3h0M71.8 539.3h0M63.3 543h0M72.5 541h0M69.6 544.8h0M55 533.5h0M54.8 505.2h0M57.7 545.6h0M59 551.6h0M57.1 524.9h0M55 536.1h0M54.8 451.7h0M61 540.9h0M67 538.1h0M65.2 540.1h0M71.7 542.2h0M56.7 532.5h0M74.2 541.1h0M55 525.1h0M63.9 548.7h0M77.3 538.7h0M55 522.5h0M58.4 552h0M73.5 540.3h0M63.9 549.3h0M74.1 540.9h0M58 537.5h0M54.4 555.8h0M70.4 543.7h0M66.2 543.5h0"/><path class="m" d="M62.8 536.8h0M67.9 543.9h0M55 537.6h0M70.3 541.1h0M74 541.2h0M67.3 545.3h0M55.3 532.8h0M55 521.6h0M55 527.7h0M55 545.5h0M56.3 530.2h0M60.3 552.3h0M59.6 540.2h0M71.1 541.7h0M66.3 537.3h0M74.8 539.4h0M77.6 538.5h0M60.4 550.9h0M77 538.8h0M69.3 543.1h0M55.8 552.2h0M77.3 538.6h0M55 554.4h0M62 528.8h0M71.5 543.2h0M70 539.6h0M55 553h0M54.3 537.9h0M55 538.8h0M55 534.1h0"/><path class="h" d="M62.8 536.8h0M67.9 543.9h0M55 537.6h0M70.3 541.1h0M74 541.2h0M67.3 545.3h0M55.3 532.8h0M55 521.6h0M55 527.7h0M55 545.5h0M56.3 530.2h0M60.3 552.3h0M59.6 540.2h0M71.1 541.7h0M66.3 537.3h0M74.8 539.4h0M77.6 538.5h0M60.4 550.9h0M77 538.8h0M69.3 543.1h0M55.8 552.2h0M77.3 538.6h0M55 554.4h0M62 528.8h0M71.5 543.2h0M70 539.6h0M55 553h0M54.3 537.9h0M55 538.8h0M55 534.1h0"/><path class="m" d="M65.9 535.7h0M58 544.7h0M61.5 546.8h0M62.7 540.9h0M57.5 526.1h0M58.4 531.6h0M55.3 537.4h0M56.5 536.9h0M64.3 540.4h0M54.3 544.7h0M60.5 527.7h0M60.2 551.5h0M64.3 534.2h0M70.3 538.3h0M70.3 543.5h0M59 550.1h0M69.2 540.1h0M55 536.6h0M72 539.9h0M55 542.2h0M54.3 514.9h0M57.5 538.4h0M62.7 550.4h0M70.5 544.1h0M72.6 542.2h0M67.8 541.2h0M55 515.3h0M57.4 553h0M55 555.3h0M65.1 546.8h0"/><path class="h" d="M65.9 535.7h0M58 544.7h0M61.5 546.8h0M62.7 540.9h0M57.5 526.1h0M58.4 531.6h0M55.3 537.4h0M56.5 536.9h0M64.3 540.4h0M54.3 544.7h0M60.5 527.7h0M60.2 551.5h0M64.3 534.2h0M70.3 538.3h0M70.3 543.5h0M59 550.1h0M69.2 540.1h0M55 536.6h0M72 539.9h0M55 542.2h0M54.3 514.9h0M57.5 538.4h0M62.7 550.4h0M70.5 544.1h0M72.6 542.2h0M67.8 541.2h0M55 515.3h0M57.4 553h0M55 555.3h0M65.1 546.8h0"/><path class="m" d="M60 550.7h0M67.7 543.1h0M69.7 538h0M55 516.1h0M55.8 522.4h0M64.4 546.6h0M54.3 526.8h0M62.6 550.1h0M54.8 466.9h0M62 546.2h0M74.3 539.3h0M63.3 534.1h0M58.2 552h0M74.6 539.4h0M73.1 541.5h0M55 543.8h0M54.4 545.5h0M67.1 536.5h0M63 543.2h0M65.2 544.6h0M70 537.9h0M64.3 538.6h0M76.9 539h0M56 516.7h0M54.4 551.8h0M73.8 539.8h0M60 547.6h0M58.2 554.1h0M84.2 350.8h0"/><path class="h" d="M60 550.7h0M67.7 543.1h0M69.7 538h0M55 516.1h0M55.8 522.4h0M64.4 546.6h0M54.3 526.8h0M62.6 550.1h0M54.8 466.9h0M62 546.2h0M74.3 539.3h0M63.3 534.1h0M58.2 552h0M74.6 539.4h0M73.1 541.5h0M55 543.8h0M54.4 545.5h0M67.1 536.5h0M63 543.2h0M65.2 544.6h0M70 537.9h0M64.3 538.6h0M76.9 539h0M56 516.7h0M54.4 551.8h0M73.8 539.8h0M60 547.6h0M58.2 554.1h0M84.2 350.8h0"/></g>
<path d="M54.3 557.9L320.4 343.8" stroke="#6E0612" stroke-width="2" stroke-linecap="round" fill="none"/>
<g stroke="#fff" stroke-width="0.7" stroke-linejoin="round">
<path d="M182 491.9A48.5 26.4 0 0 0 230.5 518.3v12.8A48.5 26.4 0 0 1 182 504.7z" fill="#FE1D49"/>
<path d="M230.5 518.3A48.5 26.4 0 0 0 279 491.9v12.8A48.5 26.4 0 0 1 230.5 531.1z" fill="#1F63FF"/>
<path d="M230.5 491.9L230.5 518.3A48.5 26.4 0 0 1 198.8 471.9z" fill="#FE1D49"/>
<path d="M230.5 491.9L198.8 471.9A48.5 26.4 0 1 1 230.5 518.3z" fill="#1F63FF"/>
</g>
<rect x="232.2" y="437.3" width="23.6" height="11.4" fill="#FE1D49"/>
<rect x="232.2" y="451" width="23.6" height="11.4" fill="#1F63FF"/>
<g class="t" font-size="11.3">
<text x="259.9" y="446.9">Shear crack</text>
<text x="259.9" y="460.3">Tensile crack</text>
</g>
<text class="pb" x="276.6" y="482.2">61.33%</text>
<text class="pr" x="184.3" y="521.9" text-anchor="end">38.67%</text>
<text class="t" x="191.4" y="628.1" font-size="22.5" text-anchor="middle">(c) FT-20</text>
</g>
<g id="panel-d">
<path d="M414.6 558.4v4.6M441.4 558.4v2.4M468.2 558.4v4.6M495 558.4v2.4M521.8 558.4v4.6M548.6 558.4v2.4M575.4 558.4v4.6M602.2 558.4v2.4M629 558.4v4.6M655.8 558.4v2.4M682.5 558.4v4.6M414.6 558.4h-4.6M414.6 536.8h-2.4M414.6 515.3h-4.6M414.6 493.7h-2.4M414.6 472.1h-4.6M414.6 450.5h-2.4M414.6 429h-4.6M414.6 407.4h-2.4M414.6 385.8h-4.6M414.6 364.3h-2.4M414.6 342.7h-4.6M414.6 342.7V558.4H682.5" fill="none" stroke="#262626" stroke-width="1.3"/>
<g class="t" font-size="12.1">
<text x="414.6" y="575.5" text-anchor="middle">0</text>
<text x="468.2" y="575.5" text-anchor="middle">1</text>
<text x="521.8" y="575.5" text-anchor="middle">2</text>
<text x="575.4" y="575.5" text-anchor="middle">3</text>
<text x="629" y="575.5" text-anchor="middle">4</text>
<text x="682.5" y="575.5" text-anchor="middle">5</text>
<text x="407.3" y="562.2" text-anchor="end">0</text>
<text x="407.3" y="519.1" text-anchor="end">200</text>
<text x="407.3" y="475.9" text-anchor="end">400</text>
<text x="407.3" y="432.8" text-anchor="end">600</text>
<text x="407.3" y="389.6" text-anchor="end">800</text>
<text x="407.3" y="346.5" text-anchor="end">1000</text>
<text x="548.6" y="592.4" text-anchor="middle" font-size="12.25">RA/(ms· V<tspan font-size="7.2" dy="-4.2">-1</tspan><tspan dy="4.2">)</tspan></text>
<text transform="translate(378.6 450.5) rotate(-90)" text-anchor="middle" font-size="12.4">AF/kHz</text>
<text x="461.8" y="353.4" font-size="12.3">Tensile crack events</text>
<text x="461.8" y="368.3" font-size="12.3">Shear crack events</text>
</g>
<g stroke="#FE1D49"><path class="m" d="M476.2 550h0M417 557.9h0M421.9 556.8h0M431.3 548.5h0M434.1 548.8h0M499.2 557.5h0M435.1 547.2h0M463 547.6h0M424.3 553.3h0M462.4 555.3h0M524.2 557.7h0M436.6 552.6h0M472.6 557.5h0M423.4 557.2h0M455.4 552.6h0M474.3 553.7h0M445.9 547.7h0M487.6 556.5h0M427.7 555.3h0M432.8 556.8h0M460.5 546.6h0M437.4 555.2h0M419.9 557.7h0M440.8 551.3h0M449.3 546.2h0M544.3 557.7h0M496.7 554.2h0M542 557.8h0M499.6 557.7h0M456.2 546.3h0"/><path class="h" d="M476.2 550h0M417 557.9h0M421.9 556.8h0M431.3 548.5h0M434.1 548.8h0M499.2 557.5h0M435.1 547.2h0M463 547.6h0M424.3 553.3h0M462.4 555.3h0M524.2 557.7h0M436.6 552.6h0M472.6 557.5h0M423.4 557.2h0M455.4 552.6h0M474.3 553.7h0M445.9 547.7h0M487.6 556.5h0M427.7 555.3h0M432.8 556.8h0M460.5 546.6h0M437.4 555.2h0M419.9 557.7h0M440.8 551.3h0M449.3 546.2h0M544.3 557.7h0M496.7 554.2h0M542 557.8h0M499.6 557.7h0M456.2 546.3h0"/><path class="m" d="M421.1 555h0M416.8 557.9h0M432.8 552.4h0M466 551.2h0M515.7 553.3h0M452.7 555.2h0M466.2 555.7h0M421.7 554.4h0M463.4 553.8h0M446 542.8h0M478.2 548.5h0M462 556.4h0M453.2 554.7h0M491.7 554.7h0M417.9 557.4h0M421 555h0M424.4 557.7h0M437.6 546.7h0M428 551.6h0M418.1 557.2h0M506.7 550.4h0M488.7 555h0M468.9 556.1h0M478.2 557.5h0M505.5 554.6h0M462.9 555.5h0M449.1 557.8h0M450.3 555.4h0M484.9 556.3h0M436.6 546.8h0"/><path class="h" d="M421.1 555h0M416.8 557.9h0M432.8 552.4h0M466 551.2h0M515.7 553.3h0M452.7 555.2h0M466.2 555.7h0M421.7 554.4h0M463.4 553.8h0M446 542.8h0M478.2 548.5h0M462 556.4h0M453.2 554.7h0M491.7 554.7h0M417.9 557.4h0M421 555h0M424.4 557.7h0M437.6 546.7h0M428 551.6h0M418.1 557.2h0M506.7 550.4h0M488.7 555h0M468.9 556.1h0M478.2 557.5h0M505.5 554.6h0M462.9 555.5h0M449.1 557.8h0M450.3 555.4h0M484.9 556.3h0M436.6 546.8h0"/><path class="m" d="M450.1 557.6h0M498.9 550.2h0M422.4 556.1h0M420.5 557.1h0M425.5 556.5h0M537.9 556.8h0M523.4 557h0M495.5 557.8h0M463.3 554.2h0M441.9 545.5h0M421.2 556.3h0M418 557.6h0M429.9 555.9h0M456.9 557.8h0M501.7 557.9h0M418.9 556.7h0M521.1 555.5h0M456.5 556.7h0M442.9 557.6h0M418.7 557.1h0M421.1 556.1h0M456.9 551.8h0M446 543.1h0M543.1 557.8h0M526.7 556.6h0M438.9 549.2h0M421.6 555.9h0M437.6 543.6h0M443.7 550h0M432.8 554.2h0"/><path class="h" d="M450.1 557.6h0M498.9 550.2h0M422.4 556.1h0M420.5 557.1h0M425.5 556.5h0M537.9 556.8h0M523.4 557h0M495.5 557.8h0M463.3 554.2h0M441.9 545.5h0M421.2 556.3h0M418 557.6h0M429.9 555.9h0M456.9 557.8h0M501.7 557.9h0M418.9 556.7h0M521.1 555.5h0M456.5 556.7h0M442.9 557.6h0M418.7 557.1h0M421.1 556.1h0M456.9 551.8h0M446 543.1h0M543.1 557.8h0M526.7 556.6h0M438.9 549.2h0M421.6 555.9h0M437.6 543.6h0M443.7 550h0M432.8 554.2h0"/><path class="m" d="M433 545.3h0M421.3 555.8h0M478 553.5h0M471 555.2h0M422.8 553.6h0M427.3 550.3h0M467.6 557.8h0M464.1 557.7h0M508.1 552.4h0M428.4 557.5h0M518.3 554.5h0M420.7 557.6h0M469.4 552.8h0M421.5 555h0M627.9 555.4h0M438.7 543.2h0M470.3 557.5h0M519.2 557.8h0M516.2 554.8h0M456.5 549.3h0M441.2 548.5h0M420.1 557.8h0M440.6 557.2h0M423.1 555.8h0M464.5 555.2h0M423.8 554.4h0M469.7 557.4h0M463 557.7h0M443 556.5h0M455.9 555h0"/><path class="h" d="M433 545.3h0M421.3 555.8h0M478 553.5h0M471 555.2h0M422.8 553.6h0M427.3 550.3h0M467.6 557.8h0M464.1 557.7h0M508.1 552.4h0M428.4 557.5h0M518.3 554.5h0M420.7 557.6h0M469.4 552.8h0M421.5 555h0M627.9 555.4h0M438.7 543.2h0M470.3 557.5h0M519.2 557.8h0M516.2 554.8h0M456.5 549.3h0M441.2 548.5h0M420.1 557.8h0M440.6 557.2h0M423.1 555.8h0M464.5 555.2h0M423.8 554.4h0M469.7 557.4h0M463 557.7h0M443 556.5h0M455.9 555h0"/><path class="m" d="M445.6 557.1h0M568.4 555.4h0M483.6 555.2h0M480.2 556.6h0M450.9 551h0M449.9 545h0M500.9 557.8h0M532.3 556.8h0M422.4 553.9h0M443.7 548.4h0M491 557.7h0M493.3 556.5h0M443.2 551.2h0M434.5 553.3h0M423.4 557.7h0M464.7 550.3h0M451.9 556.6h0M428.1 549.5h0M435.1 548.8h0M490.7 557.2h0M488.6 556.7h0M417.6 557.6h0M469.6 554.6h0M436.8 551.2h0M420.6 556.3h0M464.5 551.2h0M435.7 557.6h0M525.9 554.2h0M418.9 556.9h0M432.4 546h0"/><path class="h" d="M445.6 557.1h0M568.4 555.4h0M483.6 555.2h0M480.2 556.6h0M450.9 551h0M449.9 545h0M500.9 557.8h0M532.3 556.8h0M422.4 553.9h0M443.7 548.4h0M491 557.7h0M493.3 556.5h0M443.2 551.2h0M434.5 553.3h0M423.4 557.7h0M464.7 550.3h0M451.9 556.6h0M428.1 549.5h0M435.1 548.8h0M490.7 557.2h0M488.6 556.7h0M417.6 557.6h0M469.6 554.6h0M436.8 551.2h0M420.6 556.3h0M464.5 551.2h0M435.7 557.6h0M525.9 554.2h0M418.9 556.9h0M432.4 546h0"/><path class="m" d="M454.8 542.7h0M505.1 554.9h0M426.8 555h0M446.9 544.8h0M439.4 544.1h0M487.9 557.6h0M462.5 557.5h0M481.2 557.7h0M434.6 551h0M454.8 554.4h0M464.3 551.8h0M451.5 548.5h0M436.1 543.5h0M548.6 555.8h0M430.4 552.8h0M417.8 557.8h0M535.8 557.2h0M454.4 549.8h0M468.5 554.6h0M465 557.8h0M479.5 557.7h0M423.4 554.2h0M422.2 557.6h0M425.8 557h0M424.4 554.4h0M487.2 550.7h0M479 548.9h0M483 556.5h0M436 557.6h0M459.9 550.7h0"/><path class="h" d="M454.8 542.7h0M505.1 554.9h0M426.8 555h0M446.9 544.8h0M439.4 544.1h0M487.9 557.6h0M462.5 557.5h0M481.2 557.7h0M434.6 551h0M454.8 554.4h0M464.3 551.8h0M451.5 548.5h0M436.1 543.5h0M548.6 555.8h0M430.4 552.8h0M417.8 557.8h0M535.8 557.2h0M454.4 549.8h0M468.5 554.6h0M465 557.8h0M479.5 557.7h0M423.4 554.2h0M422.2 557.6h0M425.8 557h0M424.4 554.4h0M487.2 550.7h0M479 548.9h0M483 556.5h0M436 557.6h0M459.9 550.7h0"/><path class="m" d="M425.8 550.9h0M459.9 552.3h0M442.6 546.4h0M423.4 555.4h0M502.7 550.6h0M439 547.3h0M426.1 553.5h0M437.2 557.4h0M441.5 551.5h0M461.6 556h0M427.5 552.3h0M419.5 556.2h0M428.8 548.6h0M448.3 544.3h0M471.3 556.1h0M449.1 546.5h0M421.6 557.7h0M490.9 557.5h0M463.1 551.5h0M433 553.1h0M454 554.8h0M482.6 555.9h0M470.2 557.6h0M417.1 557.9h0M426.5 552.5h0M459.6 548h0M443.1 557h0M639.7 557.5h0M419.7 556h0M477.3 557.9h0"/><path class="h" d="M425.8 550.9h0M459.9 552.3h0M442.6 546.4h0M423.4 555.4h0M502.7 550.6h0M439 547.3h0M426.1 553.5h0M437.2 557.4h0M441.5 551.5h0M461.6 556h0M427.5 552.3h0M419.5 556.2h0M428.8 548.6h0M448.3 544.3h0M471.3 556.1h0M449.1 546.5h0M421.6 557.7h0M490.9 557.5h0M463.1 551.5h0M433 553.1h0M454 554.8h0M482.6 555.9h0M470.2 557.6h0M417.1 557.9h0M426.5 552.5h0M459.6 548h0M443.1 557h0M639.7 557.5h0M419.7 556h0M477.3 557.9h0"/><path class="m" d="M423.3 556.4h0M436.2 550.8h0M436 549.6h0M447.4 549.1h0M456 546.1h0M444.4 557.5h0M432.5 547.9h0M437.9 543.9h0M516.4 557.7h0M424.2 554.7h0M441 543.3h0M427.4 554.1h0M428.4 551.8h0M484.8 549.5h0M443.7 548.6h0M534.4 557.5h0M418.5 557.7h0M431.6 553.6h0M437.2 547.2h0M428.6 557.5h0M461.6 553.3h0M452.8 547.1h0M452.8 550.8h0M426.7 555.6h0M462.9 557.3h0M479.3 556h0M539 557.8h0M459.1 549.2h0M518.4 556.1h0M552.3 557.1h0"/><path class="h" d="M423.3 556.4h0M436.2 550.8h0M436 549.6h0M447.4 549.1h0M456 546.1h0M444.4 557.5h0M432.5 547.9h0M437.9 543.9h0M516.4 557.7h0M424.2 554.7h0M441 543.3h0M427.4 554.1h0M428.4 551.8h0M484.8 549.5h0M443.7 548.6h0M534.4 557.5h0M418.5 557.7h0M431.6 553.6h0M437.2 547.2h0M428.6 557.5h0M461.6 553.3h0M452.8 547.1h0M452.8 550.8h0M426.7 555.6h0M462.9 557.3h0M479.3 556h0M539 557.8h0M459.1 549.2h0M518.4 556.1h0M552.3 557.1h0"/><path class="m" d="M420.7 556.3h0M420.9 556.2h0M436 544.7h0M534.5 557.5h0M474.3 557.5h0M432.4 556.8h0M565.2 556h0M510.1 557.5h0M523.9 557.7h0M417.1 557.9h0M459.4 547.5h0M482.6 557.1h0M461.5 552h0M578 556.5h0M432.9 557.8h0M517.8 553.1h0M430.8 547.4h0M484.8 552h0M519.1 557.5h0M445.1 553.4h0M441.4 556.3h0M473.3 557h0M502 557.8h0M437.4 557.7h0M448.3 543.4h0M483.1 553.1h0M433.8 545.4h0M428.8 556.7h0M482.3 557.8h0M492.6 557.5h0"/><path class="h" d="M420.7 556.3h0M420.9 556.2h0M436 544.7h0M534.5 557.5h0M474.3 557.5h0M432.4 556.8h0M565.2 556h0M510.1 557.5h0M523.9 557.7h0M417.1 557.9h0M459.4 547.5h0M482.6 557.1h0M461.5 552h0M578 556.5h0M432.9 557.8h0M517.8 553.1h0M430.8 547.4h0M484.8 552h0M519.1 557.5h0M445.1 553.4h0M441.4 556.3h0M473.3 557h0M502 557.8h0M437.4 557.7h0M448.3 543.4h0M483.1 553.1h0M433.8 545.4h0M428.8 556.7h0M482.3 557.8h0M492.6 557.5h0"/><path class="m" d="M441.4 544.6h0M417.9 557.7h0M443.6 555.9h0M421.6 557.3h0M480 551.3h0M503.5 552h0M513.4 552h0M431.8 557.8h0M448.7 556.4h0M423.9 552.4h0M440.5 555.1h0M439.4 542.9h0M538.8 555.9h0M504.8 554h0M469.4 553.3h0M421.9 556.8h0M557.1 556h0M456 549.1h0M424.5 554h0M543.4 557.5h0M447.1 551h0M418.1 557.6h0M524 557.4h0M422.2 557.4h0M424.9 556.3h0M550.7 556.7h0M609.7 554.9h0M441.4 541.3h0M425.4 555.7h0M444.3 545.2h0"/><path class="h" d="M441.4 544.6h0M417.9 557.7h0M443.6 555.9h0M421.6 557.3h0M480 551.3h0M503.5 552h0M513.4 552h0M431.8 557.8h0M448.7 556.4h0M423.9 552.4h0M440.5 555.1h0M439.4 542.9h0M538.8 555.9h0M504.8 554h0M469.4 553.3h0M421.9 556.8h0M557.1 556h0M456 549.1h0M424.5 554h0M543.4 557.5h0M447.1 551h0M418.1 557.6h0M524 557.4h0M422.2 557.4h0M424.9 556.3h0M550.7 556.7h0M609.7 554.9h0M441.4 541.3h0M425.4 555.7h0M444.3 545.2h0"/><path class="m" d="M417.1 557.9h0M508.7 557.5h0M516.5 554.1h0M476.8 557.8h0M426.5 556.6h0M460.6 555.1h0M451.9 557.6h0M444.3 550.2h0M437.4 544.1h0M464.9 557.7h0M481.2 554.4h0M466.6 557.6h0M436.5 542.8h0M455.9 557.1h0M445.4 552.8h0M484.5 551.9h0M420.8 555h0M507.9 557.8h0M417 557.9h0M433.8 554.1h0M417.8 557.6h0M431 556.7h0M492.1 552.5h0M501.2 556.6h0M448.8 553.5h0M447.7 546.1h0M440.3 547h0M465.9 552.4h0M485 549.9h0M435.4 546.2h0"/><path class="h" d="M417.1 557.9h0M508.7 557.5h0M516.5 554.1h0M476.8 557.8h0M426.5 556.6h0M460.6 555.1h0M451.9 557.6h0M444.3 550.2h0M437.4 544.1h0M464.9 557.7h0M481.2 554.4h0M466.6 557.6h0M436.5 542.8h0M455.9 557.1h0M445.4 552.8h0M484.5 551.9h0M420.8 555h0M507.9 557.8h0M417 557.9h0M433.8 554.1h0M417.8 557.6h0M431 556.7h0M492.1 552.5h0M501.2 556.6h0M448.8 553.5h0M447.7 546.1h0M440.3 547h0M465.9 552.4h0M485 549.9h0M435.4 546.2h0"/><path class="m" d="M497.4 551.3h0M502.5 557.1h0M437.9 550.4h0M445.5 546h0M465.8 552.9h0M426.9 557.6h0M449.4 547.2h0M426.3 554.4h0M497.3 551h0M444.5 541.8h0M431.2 555.9h0M490.2 543.3h0M420.2 556.8h0M449.8 550.5h0M470.5 552.3h0M469.2 553.7h0M458.6 551.3h0M504 557.6h0M533.2 557.8h0M429.9 550h0M421.4 557.7h0M417.4 557.7h0M451.7 554.4h0M419.6 557.6h0M469.3 548.1h0M521.7 557.7h0M465.7 557.6h0M497 551.7h0M422.9 555h0M418.5 557.6h0"/><path class="h" d="M497.4 551.3h0M502.5 557.1h0M437.9 550.4h0M445.5 546h0M465.8 552.9h0M426.9 557.6h0M449.4 547.2h0M426.3 554.4h0M497.3 551h0M444.5 541.8h0M431.2 555.9h0M490.2 543.3h0M420.2 556.8h0M449.8 550.5h0M470.5 552.3h0M469.2 553.7h0M458.6 551.3h0M504 557.6h0M533.2 557.8h0M429.9 550h0M421.4 557.7h0M417.4 557.7h0M451.7 554.4h0M419.6 557.6h0M469.3 548.1h0M521.7 557.7h0M465.7 557.6h0M497 551.7h0M422.9 555h0M418.5 557.6h0"/><path class="m" d="M435.7 543.9h0M431.8 552.7h0M530.7 557.9h0M538.4 557.5h0M428.2 550.1h0M425.9 557.6h0M416.5 557.8h0M421.8 557.4h0M421.4 557.5h0M479.1 557.8h0M529.4 554.6h0M464.7 547.6h0M420.9 556.8h0M473.7 556.8h0M438.6 557.1h0M499.4 555.3h0M440.6 555.5h0M432.8 547.1h0M450.4 546.4h0M434.6 557.7h0M454.3 554.4h0M426.4 552.4h0M445.8 543.4h0M463.5 557h0M477.5 557.2h0M489.2 557.8h0M585 557.3h0M444.5 545.5h0M427.6 551.3h0M420.4 556.8h0"/><path class="h" d="M435.7 543.9h0M431.8 552.7h0M530.7 557.9h0M538.4 557.5h0M428.2 550.1h0M425.9 557.6h0M416.5 557.8h0M421.8 557.4h0M421.4 557.5h0M479.1 557.8h0M529.4 554.6h0M464.7 547.6h0M420.9 556.8h0M473.7 556.8h0M438.6 557.1h0M499.4 555.3h0M440.6 555.5h0M432.8 547.1h0M450.4 546.4h0M434.6 557.7h0M454.3 554.4h0M426.4 552.4h0M445.8 543.4h0M463.5 557h0M477.5 557.2h0M489.2 557.8h0M585 557.3h0M444.5 545.5h0M427.6 551.3h0M420.4 556.8h0"/><path class="m" d="M484.6 557.8h0M468.5 556.5h0M541 557.7h0M480.2 550.9h0M447.9 554.6h0M461.1 550.1h0M428.7 552h0M426.3 557.5h0M446.7 552.7h0M488.3 555.7h0M495.9 557.5h0M486.3 557.5h0M514.2 557.9h0M437.8 556.9h0M484 557.8h0M437.6 557.4h0M460.5 557.7h0M479.6 551.8h0M463.5 551.8h0M457.1 554.8h0M475.9 552.2h0M451.3 552.4h0M434.3 555.7h0M465.6 557.5h0M452.9 555.8h0M416.9 557.9h0M426.3 554.1h0M480.8 555.4h0M488.8 555.1h0M421.4 557.1h0"/><path class="h" d="M484.6 557.8h0M468.5 556.5h0M541 557.7h0M480.2 550.9h0M447.9 554.6h0M461.1 550.1h0M428.7 552h0M426.3 557.5h0M446.7 552.7h0M488.3 555.7h0M495.9 557.5h0M486.3 557.5h0M514.2 557.9h0M437.8 556.9h0M484 557.8h0M437.6 557.4h0M460.5 557.7h0M479.6 551.8h0M463.5 551.8h0M457.1 554.8h0M475.9 552.2h0M451.3 552.4h0M434.3 555.7h0M465.6 557.5h0M452.9 555.8h0M416.9 557.9h0M426.3 554.1h0M480.8 555.4h0M488.8 555.1h0M421.4 557.1h0"/><path class="m" d="M553.9 557.3h0M514.7 555.5h0M477 549.9h0M470.5 557h0M432.5 554.8h0M477.3 551h0M501.2 552.1h0M450.7 554.1h0M432.1 546.6h0M440 557.7h0M418.8 557.9h0M503 555.4h0M443.2 557.3h0M418.5 557.4h0M523.5 553.9h0M465.9 550.6h0M451.9 548.8h0M420.1 555.6h0M515.3 552.9h0M450.1 544.6h0M509.1 555h0M489.3 553.5h0M456.6 552.6h0M475.5 548.4h0M471.2 557.4h0M440.5 542.2h0M420.4 556.3h0M529.7 557.5h0M423.2 553.2h0M527.4 554.3h0"/><path class="h" d="M553.9 557.3h0M514.7 555.5h0M477 549.9h0M470.5 557h0M432.5 554.8h0M477.3 551h0M501.2 552.1h0M450.7 554.1h0M432.1 546.6h0M440 557.7h0M418.8 557.9h0M503 555.4h0M443.2 557.3h0M418.5 557.4h0M523.5 553.9h0M465.9 550.6h0M451.9 548.8h0M420.1 555.6h0M515.3 552.9h0M450.1 544.6h0M509.1 555h0M489.3 553.5h0M456.6 552.6h0M475.5 548.4h0M471.2 557.4h0M440.5 542.2h0M420.4 556.3h0M529.7 557.5h0M423.2 553.2h0M527.4 554.3h0"/><path class="m" d="M417.6 557.7h0M445.8 557.8h0M436.4 557.9h0M424.7 552.8h0M421.1 557.8h0M441.3 554.8h0M462.9 556.5h0M497.8 557.5h0M492.9 556.6h0M452.8 554.7h0M452.9 557.7h0M422.9 557.7h0M458.6 557.5h0M495.8 556.1h0M436.6 548.7h0M450.9 544.6h0M424.7 554.2h0M433.8 554.7h0M421.5 556.4h0M426.2 556h0M433 555.5h0M543.2 556.4h0M540.8 557.8h0M487.5 557.5h0M433.4 552.7h0M523.9 556h0M470.5 549.6h0M448.4 554.9h0M428.3 550.8h0M456.4 557.7h0"/><path class="h" d="M417.6 557.7h0M445.8 557.8h0M436.4 557.9h0M424.7 552.8h0M421.1 557.8h0M441.3 554.8h0M462.9 556.5h0M497.8 557.5h0M492.9 556.6h0M452.8 554.7h0M452.9 557.7h0M422.9 557.7h0M458.6 557.5h0M495.8 556.1h0M436.6 548.7h0M450.9 544.6h0M424.7 554.2h0M433.8 554.7h0M421.5 556.4h0M426.2 556h0M433 555.5h0M543.2 556.4h0M540.8 557.8h0M487.5 557.5h0M433.4 552.7h0M523.9 556h0M470.5 549.6h0M448.4 554.9h0M428.3 550.8h0M456.4 557.7h0"/><path class="m" d="M501.6 555.5h0M433.4 546.2h0M476.5 556.1h0M418.6 557.4h0M530.6 555.7h0M419.4 557.4h0M468.8 557.8h0M431.8 553.2h0M417.1 557.9h0M423.5 554.6h0M528.1 555.5h0M510.9 557.7h0M454.2 557.7h0M432.1 552.7h0M444.2 544.6h0M429.1 554.9h0M424.7 557.3h0M442.7 554.7h0M434 557.1h0M445.3 542.9h0M440 552.4h0M451.9 551.2h0M462.7 548.6h0M457.6 547.5h0M459.1 548.5h0M441.5 557.5h0M447.9 557.7h0M426.8 556.5h0M540.4 556.9h0M475.7 548.5h0"/><path class="h" d="M501.6 555.5h0M433.4 546.2h0M476.5 556.1h0M418.6 557.4h0M530.6 555.7h0M419.4 557.4h0M468.8 557.8h0M431.8 553.2h0M417.1 557.9h0M423.5 554.6h0M528.1 555.5h0M510.9 557.7h0M454.2 557.7h0M432.1 552.7h0M444.2 544.6h0M429.1 554.9h0M424.7 557.3h0M442.7 554.7h0M434 557.1h0M445.3 542.9h0M440 552.4h0M451.9 551.2h0M462.7 548.6h0M457.6 547.5h0M459.1 548.5h0M441.5 557.5h0M447.9 557.7h0M426.8 556.5h0M540.4 556.9h0M475.7 548.5h0"/><path class="m" d="M490.1 556.3h0M428.7 549.3h0M434.5 543.9h0M460.3 550.6h0M615.6 557.5h0M449.9 552.3h0M431.1 554h0M427.2 557h0M464.2 555.7h0M444.5 557.8h0M497.9 557.8h0M447.8 554.2h0M452.7 548.7h0M439 557.8h0M514.7 557.8h0M534 556.2h0M471.5 551.2h0M436.9 552h0M432.4 553.3h0M453.7 548h0M418.6 557.5h0M430.3 557.5h0M495.1 550h0M468.3 557.9h0M500.7 551.1h0M461.8 550.4h0M470.9 554.1h0M426.3 551.8h0M466.4 550.5h0M438.9 543h0"/><path class="h" d="M490.1 556.3h0M428.7 549.3h0M434.5 543.9h0M460.3 550.6h0M615.6 557.5h0M449.9 552.3h0M431.1 554h0M427.2 557h0M464.2 555.7h0M444.5 557.8h0M497.9 557.8h0M447.8 554.2h0M452.7 548.7h0M439 557.8h0M514.7 557.8h0M534 556.2h0M471.5 551.2h0M436.9 552h0M432.4 553.3h0M453.7 548h0M418.6 557.5h0M430.3 557.5h0M495.1 550h0M468.3 557.9h0M500.7 551.1h0M461.8 550.4h0M470.9 554.1h0M426.3 551.8h0M466.4 550.5h0M438.9 543h0"/><path class="m" d="M515 555.4h0M478.3 554h0M506.7 557.5h0M452.4 545.8h0M421.1 556.1h0M488.4 557.7h0M541.2 556.7h0M496.6 557.9h0M423.3 555.4h0M431.1 555h0M421.4 555.2h0M498.4 557.3h0M436.9 547h0M459.3 546.9h0M422 555.1h0M447.2 553.3h0M451.8 553.4h0M417.2 557.9h0M482.3 556.9h0M444.5 364h0"/><path class="h" d="M515 555.4h0M478.3 554h0M506.7 557.5h0M452.4 545.8h0M421.1 556.1h0M488.4 557.7h0M541.2 556.7h0M496.6 557.9h0M423.3 555.4h0M431.1 555h0M421.4 555.2h0M498.4 557.3h0M436.9 547h0M459.3 546.9h0M422 555.1h0M447.2 553.3h0M451.8 553.4h0M417.2 557.9h0M482.3 556.9h0M444.5 364h0"/></g>
<g stroke="#1F63FF"><path class="m" d="M415 486.5h0M415 499.6h0M421.7 548.9h0M436.4 539h0M418.5 540.7h0M433.6 540.7h0M429.3 543.9h0M431.5 539.3h0M435.7 539h0M415.2 522.1h0M415.2 555.4h0M434.5 540.6h0M424.3 535.3h0M433.5 540.7h0M418.2 542h0M415.2 536.7h0M415.2 523.1h0M415 466h0M419.4 537.2h0M425.9 534h0M415.4 555.7h0M428.6 544.8h0M424 540.4h0M433.6 541.5h0M431 540.6h0M415.2 524.1h0M425 537.8h0M415.2 537.2h0M415.2 528.9h0M435.3 539.6h0"/><path class="h" d="M415 486.5h0M415 499.6h0M421.7 548.9h0M436.4 539h0M418.5 540.7h0M433.6 540.7h0M429.3 543.9h0M431.5 539.3h0M435.7 539h0M415.2 522.1h0M415.2 555.4h0M434.5 540.6h0M424.3 535.3h0M433.5 540.7h0M418.2 542h0M415.2 536.7h0M415.2 523.1h0M415 466h0M419.4 537.2h0M425.9 534h0M415.4 555.7h0M428.6 544.8h0M424 540.4h0M433.6 541.5h0M431 540.6h0M415.2 524.1h0M425 537.8h0M415.2 537.2h0M415.2 528.9h0M435.3 539.6h0"/><path class="m" d="M417.8 534h0M417.2 554.2h0M427.2 544.5h0M431.6 540.4h0M428.1 537.6h0M428.6 542.9h0M415.2 544.1h0M435.7 538.9h0M417.8 535.3h0M414.6 554.9h0M431.7 540.7h0M417.5 550.3h0M415.2 538.5h0M433.9 539.9h0M415 508.6h0M415.2 547.7h0M418.6 543.9h0M426.1 534.1h0M415.2 556.5h0M420.1 538.3h0M418.6 548.4h0M433.6 539.5h0M419.4 535.4h0M415.2 551.5h0M416.9 552.1h0M430.6 543.5h0M425.9 535h0M415.2 552.4h0M435 539.7h0M428.2 537h0"/><path class="h" d="M417.8 534h0M417.2 554.2h0M427.2 544.5h0M431.6 540.4h0M428.1 537.6h0M428.6 542.9h0M415.2 544.1h0M435.7 538.9h0M417.8 535.3h0M414.6 554.9h0M431.7 540.7h0M417.5 550.3h0M415.2 538.5h0M433.9 539.9h0M415 508.6h0M415.2 547.7h0M418.6 543.9h0M426.1 534.1h0M415.2 556.5h0M420.1 538.3h0M418.6 548.4h0M433.6 539.5h0M419.4 535.4h0M415.2 551.5h0M416.9 552.1h0M430.6 543.5h0M425.9 535h0M415.2 552.4h0M435 539.7h0M428.2 537h0"/><path class="m" d="M422.3 533.3h0M419.6 544.8h0M415.2 531.5h0M415.2 529.3h0M415.2 533.2h0M426.9 539.3h0M428.8 539.7h0M424.7 541.5h0M415.2 539.3h0M415.2 548.2h0M425.8 543.4h0M415 512.2h0M424.6 548h0M417.2 536.5h0M415.2 530.6h0M417.3 540.4h0M415 342.7h0M414.9 545.5h0M415.2 528h0M420.4 537.4h0M415 429h0M416 548.5h0M420.1 536.2h0M415.2 546.3h0M421.6 535.6h0M415.2 518.1h0M425.2 545.8h0M415.2 536.6h0M427.5 539.9h0M414.6 553.7h0"/><path class="h" d="M422.3 533.3h0M419.6 544.8h0M415.2 531.5h0M415.2 529.3h0M415.2 533.2h0M426.9 539.3h0M428.8 539.7h0M424.7 541.5h0M415.2 539.3h0M415.2 548.2h0M425.8 543.4h0M415 512.2h0M424.6 548h0M417.2 536.5h0M415.2 530.6h0M417.3 540.4h0M415 342.7h0M414.9 545.5h0M415.2 528h0M420.4 537.4h0M415 429h0M416 548.5h0M420.1 536.2h0M415.2 546.3h0M421.6 535.6h0M415.2 518.1h0M425.2 545.8h0M415.2 536.6h0M427.5 539.9h0M414.6 553.7h0"/><path class="m" d="M415.2 516.9h0M433.9 539h0M433.7 538.9h0M415.2 524.9h0M415.7 531.6h0M434.3 539.3h0M429.1 542.1h0M417.7 525.2h0M415 504.5h0M420.1 540.2h0M429.1 539.2h0M427.8 541.6h0M430.2 538.4h0M415.2 534.6h0M414.7 529.7h0M415.2 520.5h0M423.5 541.8h0M425 537h0M422.3 546.9h0M433.5 541.5h0M415.2 555h0M432.4 538.6h0M418.6 546.4h0M415.2 553.1h0M426.9 536.8h0M425.5 537.1h0M426.2 534.5h0M433.5 541.3h0M420.5 545.2h0M415.2 533.8h0"/><path class="h" d="M415.2 516.9h0M433.9 539h0M433.7 538.9h0M415.2 524.9h0M415.7 531.6h0M434.3 539.3h0M429.1 542.1h0M417.7 525.2h0M415 504.5h0M420.1 540.2h0M429.1 539.2h0M427.8 541.6h0M430.2 538.4h0M415.2 534.6h0M414.7 529.7h0M415.2 520.5h0M423.5 541.8h0M425 537h0M422.3 546.9h0M433.5 541.5h0M415.2 555h0M432.4 538.6h0M418.6 546.4h0M415.2 553.1h0M426.9 536.8h0M425.5 537.1h0M426.2 534.5h0M433.5 541.3h0M420.5 545.2h0M415.2 533.8h0"/><path class="m" d="M417.4 544.9h0M415.2 544.8h0M436.9 538.9h0M423.2 536.8h0M424.4 542.9h0M415.2 519.3h0M414.9 527.4h0M415.2 542.5h0M428.7 543.5h0M432.6 539.9h0M414.6 516.3h0M426.9 537.7h0M415.2 540h0M433.8 541.5h0M427.2 541.3h0M425.6 544.4h0M436.6 539.1h0M427.1 537.1h0M424.7 539.8h0M424.1 533.9h0M435.2 539h0M434.9 539.6h0M415.2 549.2h0M434.7 539.9h0M428 546h0M415.7 555.6h0M427.9 539.9h0M421.2 540.7h0M428.7 538.1h0M435.4 539.6h0"/><path class="h" d="M417.4 544.9h0M415.2 544.8h0M436.9 538.9h0M423.2 536.8h0M424.4 542.9h0M415.2 519.3h0M414.9 527.4h0M415.2 542.5h0M428.7 543.5h0M432.6 539.9h0M414.6 516.3h0M426.9 537.7h0M415.2 540h0M433.8 541.5h0M427.2 541.3h0M425.6 544.4h0M436.6 539.1h0M427.1 537.1h0M424.7 539.8h0M424.1 533.9h0M435.2 539h0M434.9 539.6h0M415.2 549.2h0M434.7 539.9h0M428 546h0M415.7 555.6h0M427.9 539.9h0M421.2 540.7h0M428.7 538.1h0M435.4 539.6h0"/><path class="m" d="M432.8 541.3h0M415.2 551.9h0M434.9 539h0M419.9 535h0M414.6 527.8h0M415 477.5h0M427.3 544.7h0M414.7 542.5h0M419.5 533.4h0M436 537h0M417.3 532h0M430.3 541.1h0M415.2 550.4h0M435.3 540.2h0M415.2 549.7h0M415.2 548.7h0M414.9 537h0M422.9 537.8h0M424.7 535.1h0M433.9 540.6h0M415.2 520h0M416.2 553.1h0M419.2 541.9h0M436.7 539.1h0M415.8 551.9h0M433.9 538.8h0M433.9 538.7h0M428.5 544.7h0M428.4 543.5h0M415.2 521.2h0"/><path class="h" d="M432.8 541.3h0M415.2 551.9h0M434.9 539h0M419.9 535h0M414.6 527.8h0M415 477.5h0M427.3 544.7h0M414.7 542.5h0M419.5 533.4h0M436 537h0M417.3 532h0M430.3 541.1h0M415.2 550.4h0M435.3 540.2h0M415.2 549.7h0M415.2 548.7h0M414.9 537h0M422.9 537.8h0M424.7 535.1h0M433.9 540.6h0M415.2 520h0M416.2 553.1h0M419.2 541.9h0M436.7 539.1h0M415.8 551.9h0M433.9 538.8h0M433.9 538.7h0M428.5 544.7h0M428.4 543.5h0M415.2 521.2h0"/><path class="m" d="M431.7 542.5h0M416.2 524.4h0M424.2 549h0M415.2 532.2h0M429.4 540.9h0M415.2 530.1h0M416.1 542h0M415.2 536h0M431.8 538.5h0M424.6 545.7h0M424.3 534.8h0M421.2 541.2h0M415.2 517.6h0M424.6 541.6h0M419.6 541.5h0M415.2 518.7h0M415.2 547.1h0M416.3 548.6h0M433.5 539.7h0M416.2 543.5h0M415.4 553.1h0M415 396.6h0M422.2 547.8h0M415.2 516.2h0M429 545.2h0M434.6 540.6h0M432.1 538.9h0M415.2 525.3h0M415.2 514.7h0M433.6 541.2h0"/><path class="h" d="M431.7 542.5h0M416.2 524.4h0M424.2 549h0M415.2 532.2h0M429.4 540.9h0M415.2 530.1h0M416.1 542h0M415.2 536h0M431.8 538.5h0M424.6 545.7h0M424.3 534.8h0M421.2 541.2h0M415.2 517.6h0M424.6 541.6h0M419.6 541.5h0M415.2 518.7h0M415.2 547.1h0M416.3 548.6h0M433.5 539.7h0M416.2 543.5h0M415.4 553.1h0M415 396.6h0M422.2 547.8h0M415.2 516.2h0M429 545.2h0M434.6 540.6h0M432.1 538.9h0M415.2 525.3h0M415.2 514.7h0M433.6 541.2h0"/><path class="m" d="M434.8 540.1h0M427.7 535.9h0M435.2 539.7h0M415 493.7h0M415 450.5h0M426.4 541.4h0M418.5 541.4h0M415.2 543h0M415.2 515.7h0M434.4 540.2h0M416.1 550h0M415.2 535.2h0M435.8 539.8h0M416.7 529.5h0M433.2 540.3h0M417.6 552.9h0M431.4 542.4h0M428 536.6h0M415.8 523.5h0M433.6 539.3h0M414.8 516.1h0M414.6 540.2h0M415.2 540.8h0M415.2 554h0M431.9 540.7h0M424.2 547.9h0M415.2 526.1h0M434.6 538.7h0M423.5 535.2h0M415.9 538.4h0"/><path class="h" d="M434.8 540.1h0M427.7 535.9h0M435.2 539.7h0M415 493.7h0M415 450.5h0M426.4 541.4h0M418.5 541.4h0M415.2 543h0M415.2 515.7h0M434.4 540.2h0M416.1 550h0M415.2 535.2h0M435.8 539.8h0M416.7 529.5h0M433.2 540.3h0M417.6 552.9h0M431.4 542.4h0M428 536.6h0M415.8 523.5h0M433.6 539.3h0M414.8 516.1h0M414.6 540.2h0M415.2 540.8h0M415.2 554h0M431.9 540.7h0M424.2 547.9h0M415.2 526.1h0M434.6 538.7h0M423.5 535.2h0M415.9 538.4h0"/><path class="m" d="M419.8 544.3h0M415.2 536.1h0M428.1 536.5h0M415.2 527h0M431.2 538.5h0M428.4 543.4h0M419.7 532.8h0M415.2 541.6h0M420 545.4h0M415.2 545.8h0M415.2 538.1h0M433.9 539.9h0M436.9 538.9h0M421.1 535.9h0M444.5 348.9h0"/><path class="h" d="M419.8 544.3h0M415.2 536.1h0M428.1 536.5h0M415.2 527h0M431.2 538.5h0M428.4 543.4h0M419.7 532.8h0M415.2 541.6h0M420 545.4h0M415.2 545.8h0M415.2 538.1h0M433.9 539.9h0M436.9 538.9h0M421.1 535.9h0M444.5 348.9h0"/></g>
<path d="M414.6 558.4L682.5 342.7" stroke="#6E0612" stroke-width="2" stroke-linecap="round" fill="none"/>
<g stroke="#fff" stroke-width="0.7" stroke-linejoin="round">
<path d="M543.3 498.5A48.5 26.4 0 0 0 591.8 524.9v12.8A48.5 26.4 0 0 1 543.3 511.3z" fill="#FE1D49"/>
<path d="M591.8 524.9A48.5 26.4 0 0 0 640.3 498.5v12.8A48.5 26.4 0 0 1 591.8 537.7z" fill="#1F63FF"/>
<path d="M591.8 498.5L591.8 524.9A48.5 26.4 0 0 1 554.4 481.7z" fill="#FE1D49"/>
<path d="M591.8 498.5L554.4 481.7A48.5 26.4 0 1 1 591.8 524.9z" fill="#1F63FF"/>
</g>
<rect x="594.5" y="444.5" width="23.6" height="11.4" fill="#FE1D49"/>
<rect x="594.5" y="458.2" width="23.6" height="11.4" fill="#1F63FF"/>
<g class="t" font-size="11.3">
<text x="621.4" y="453.8">Shear crack</text>
<text x="621.4" y="467.2">Tensile crack</text>
</g>
<text class="pb" x="635.4" y="485.7">64.03%</text>
<text class="pr" x="547.8" y="530.3" text-anchor="end">35.97%</text>
<text class="t" x="551.4" y="628.5" font-size="22.5" text-anchor="middle">(d) FT-30</text>
</g>
<g id="panel-e">
<path d="M228.6 898v4.6M255.3 898v2.4M282.1 898v4.6M308.9 898v2.4M335.7 898v4.6M362.5 898v2.4M389.3 898v4.6M416 898v2.4M442.8 898v4.6M469.6 898v2.4M496.4 898v4.6M228.6 898h-4.6M228.6 876.4h-2.4M228.6 854.8h-4.6M228.6 833.2h-2.4M228.6 811.6h-4.6M228.6 790h-2.4M228.6 768.5h-4.6M228.6 746.9h-2.4M228.6 725.3h-4.6M228.6 703.7h-2.4M228.6 682.1h-4.6M228.6 682.1V898H496.4" fill="none" stroke="#262626" stroke-width="1.3"/>
<g class="t" font-size="12.1">
<text x="228.6" y="915.2" text-anchor="middle">0</text>
<text x="282.1" y="915.2" text-anchor="middle">1</text>
<text x="335.7" y="915.2" text-anchor="middle">2</text>
<text x="389.3" y="915.2" text-anchor="middle">3</text>
<text x="442.8" y="915.2" text-anchor="middle">4</text>
<text x="496.4" y="915.2" text-anchor="middle">5</text>
<text x="221.2" y="901.8" text-anchor="end">0</text>
<text x="221.2" y="858.6" text-anchor="end">200</text>
<text x="221.2" y="815.4" text-anchor="end">400</text>
<text x="221.2" y="772.3" text-anchor="end">600</text>
<text x="221.2" y="729.1" text-anchor="end">800</text>
<text x="221.2" y="685.9" text-anchor="end">1000</text>
<text x="362.5" y="930.7" text-anchor="middle" font-size="12.25">RA/(ms· V<tspan font-size="7.2" dy="-4.2">-1</tspan><tspan dy="4.2">)</tspan></text>
<text transform="translate(192.6 790) rotate(-90)" text-anchor="middle" font-size="12.4">AF/kHz</text>
<text x="275.8" y="692.8" font-size="12.3">Tensile crack events</text>
<text x="275.8" y="707.7" font-size="12.3">Shear crack events</text>
</g>
<g stroke="#FE1D49"><path class="m" d="M282.8 894.7h0M285.5 891h0M310 896h0M279.1 892.3h0M243.1 890.5h0M246.2 886.5h0M318.9 895h0M232.3 896.7h0M262 891.9h0M282 887.1h0M247.3 895.5h0M233 896.4h0M266.6 875.8h0M270.2 890.7h0M390.9 895.8h0M251.4 894.7h0M249.6 893.6h0M252.3 891.9h0M241.1 896h0M304.2 895.9h0M264.6 891.1h0M272.9 885.8h0M259 890.7h0M260.3 879.3h0M272.5 885.2h0M286.9 884.9h0M245.7 893.3h0M254.2 878.8h0M346.4 894.1h0M251.1 895.3h0"/><path class="h" d="M282.8 894.7h0M285.5 891h0M310 896h0M279.1 892.3h0M243.1 890.5h0M246.2 886.5h0M318.9 895h0M232.3 896.7h0M262 891.9h0M282 887.1h0M247.3 895.5h0M233 896.4h0M266.6 875.8h0M270.2 890.7h0M390.9 895.8h0M251.4 894.7h0M249.6 893.6h0M252.3 891.9h0M241.1 896h0M304.2 895.9h0M264.6 891.1h0M272.9 885.8h0M259 890.7h0M260.3 879.3h0M272.5 885.2h0M286.9 884.9h0M245.7 893.3h0M254.2 878.8h0M346.4 894.1h0M251.1 895.3h0"/><path class="m" d="M262.2 880.5h0M232.6 896.7h0M263.4 896h0M299.9 890.3h0M265.5 887.5h0M253.1 883.5h0M323.6 895.4h0M243.9 896.4h0M323.9 895.4h0M238.1 894.6h0M247.4 888.3h0M234.3 896.1h0M270.4 883.4h0M326.2 895.5h0M242.3 895.9h0M249.3 889.7h0M373.2 895.4h0M290.1 895.8h0M407.5 896.5h0M323.4 896.1h0M247 885.9h0M231.2 896.8h0M300 895h0M248.9 887.1h0M262.4 895.8h0M255.4 896.4h0M352.8 893.3h0M291.7 894.8h0M253.4 893.5h0M321.3 895.6h0"/><path class="h" d="M262.2 880.5h0M232.6 896.7h0M263.4 896h0M299.9 890.3h0M265.5 887.5h0M253.1 883.5h0M323.6 895.4h0M243.9 896.4h0M323.9 895.4h0M238.1 894.6h0M247.4 888.3h0M234.3 896.1h0M270.4 883.4h0M326.2 895.5h0M242.3 895.9h0M249.3 889.7h0M373.2 895.4h0M290.1 895.8h0M407.5 896.5h0M323.4 896.1h0M247 885.9h0M231.2 896.8h0M300 895h0M248.9 887.1h0M262.4 895.8h0M255.4 896.4h0M352.8 893.3h0M291.7 894.8h0M253.4 893.5h0M321.3 895.6h0"/><path class="m" d="M315.4 895.2h0M254.3 896.5h0M266 890.1h0M278.2 895.5h0M271.4 892.4h0M238.7 896.5h0M256.5 887.5h0M231 896.8h0M325.4 893.8h0M234.7 896.5h0M260 881.8h0M235.8 896.5h0M245.2 887.8h0M243 888h0M264.6 891.7h0M235.6 896.6h0M233.9 896.2h0M314.9 896h0M253.6 881.5h0M239.3 893.1h0M269.3 887h0M235 895.5h0M254 882.3h0M241.9 894.7h0M234.2 895.1h0M242 892.3h0M252.4 886.6h0M271.8 884.8h0M277.3 892.7h0M236.8 894.5h0"/><path class="h" d="M315.4 895.2h0M254.3 896.5h0M266 890.1h0M278.2 895.5h0M271.4 892.4h0M238.7 896.5h0M256.5 887.5h0M231 896.8h0M325.4 893.8h0M234.7 896.5h0M260 881.8h0M235.8 896.5h0M245.2 887.8h0M243 888h0M264.6 891.7h0M235.6 896.6h0M233.9 896.2h0M314.9 896h0M253.6 881.5h0M239.3 893.1h0M269.3 887h0M235 895.5h0M254 882.3h0M241.9 894.7h0M234.2 895.1h0M242 892.3h0M252.4 886.6h0M271.8 884.8h0M277.3 892.7h0M236.8 894.5h0"/><path class="m" d="M242.2 889h0M245.5 888.5h0M234.4 895.7h0M250.3 886.1h0M232.1 896.7h0M232.4 896.5h0M244.1 896.3h0M251.5 882.7h0M240.6 894h0M296.5 890.8h0M245.9 896.2h0M245.8 893.3h0M245.4 891.6h0M385.5 896.3h0M310.4 893.4h0M233.7 895.5h0M281.2 891.8h0M325.8 896h0M247.2 896.2h0M261.8 894.6h0M233.4 896.1h0M270.5 894.9h0M361.9 894.1h0M254.4 892.4h0M239.5 896.2h0M254.1 883.2h0M287.7 885h0M243.6 892.3h0M258.6 895.6h0M305.7 895.9h0"/><path class="h" d="M242.2 889h0M245.5 888.5h0M234.4 895.7h0M250.3 886.1h0M232.1 896.7h0M232.4 896.5h0M244.1 896.3h0M251.5 882.7h0M240.6 894h0M296.5 890.8h0M245.9 896.2h0M245.8 893.3h0M245.4 891.6h0M385.5 896.3h0M310.4 893.4h0M233.7 895.5h0M281.2 891.8h0M325.8 896h0M247.2 896.2h0M261.8 894.6h0M233.4 896.1h0M270.5 894.9h0M361.9 894.1h0M254.4 892.4h0M239.5 896.2h0M254.1 883.2h0M287.7 885h0M243.6 892.3h0M258.6 895.6h0M305.7 895.9h0"/><path class="m" d="M265.2 891.2h0M256.1 881.7h0M250.3 896.2h0M241.2 891.4h0M307.1 892.5h0M234.6 895.1h0M231.4 896.8h0M248.5 885.6h0M342.1 894.3h0M237.8 896.4h0M258.7 883h0M267.4 886.9h0M241.2 895.2h0M306.4 895.4h0M232.2 896.8h0M245.4 894.2h0M258.9 890.6h0M247.1 885.6h0M253.3 892.5h0M254.1 880.6h0M246.5 891.8h0M278.8 889.6h0M272.5 893.5h0M238.8 896.3h0M269.6 894.1h0M242.4 896.2h0M338.4 894.8h0M240.2 894.8h0M253.1 896.5h0M321.4 893.9h0"/><path class="h" d="M265.2 891.2h0M256.1 881.7h0M250.3 896.2h0M241.2 891.4h0M307.1 892.5h0M234.6 895.1h0M231.4 896.8h0M248.5 885.6h0M342.1 894.3h0M237.8 896.4h0M258.7 883h0M267.4 886.9h0M241.2 895.2h0M306.4 895.4h0M232.2 896.8h0M245.4 894.2h0M258.9 890.6h0M247.1 885.6h0M253.3 892.5h0M254.1 880.6h0M246.5 891.8h0M278.8 889.6h0M272.5 893.5h0M238.8 896.3h0M269.6 894.1h0M242.4 896.2h0M338.4 894.8h0M240.2 894.8h0M253.1 896.5h0M321.4 893.9h0"/><path class="m" d="M237.5 893.2h0M328 895.7h0M299.4 895.2h0M262 892h0M285.3 894.5h0M279.3 894.5h0M294.5 892h0M321.2 893.7h0M249.4 896.5h0M233.4 896.7h0M280.6 890.1h0M298.1 890.6h0M235.6 894.1h0M254.7 879.6h0M232.4 896.8h0M275.1 885.9h0M261.9 879.6h0M313.3 895.3h0M282.1 886.7h0M242.9 889.3h0M288.7 893.7h0M298.4 892h0M397.3 894.5h0M248.2 888.8h0M249.3 883.6h0M238.5 892.7h0M260.6 895.2h0M232.1 896.7h0M265.9 887.5h0M424.6 890.4h0"/><path class="h" d="M237.5 893.2h0M328 895.7h0M299.4 895.2h0M262 892h0M285.3 894.5h0M279.3 894.5h0M294.5 892h0M321.2 893.7h0M249.4 896.5h0M233.4 896.7h0M280.6 890.1h0M298.1 890.6h0M235.6 894.1h0M254.7 879.6h0M232.4 896.8h0M275.1 885.9h0M261.9 879.6h0M313.3 895.3h0M282.1 886.7h0M242.9 889.3h0M288.7 893.7h0M298.4 892h0M397.3 894.5h0M248.2 888.8h0M249.3 883.6h0M238.5 892.7h0M260.6 895.2h0M232.1 896.7h0M265.9 887.5h0M424.6 890.4h0"/><path class="m" d="M288.2 886.2h0M237.7 892.2h0M244.9 887.4h0M315.5 893.8h0M266.9 893.6h0M240.3 896.7h0M277.3 894h0M256.8 887.6h0M231.9 896.8h0M249 896h0M231.2 896.8h0M283.9 894.5h0M246.2 886.6h0M268.5 888.2h0M256.9 895.7h0M249.8 890.7h0M235.1 896.6h0M247.2 894.8h0M238.2 892.8h0M236 896.8h0M265.4 895.2h0M237.4 893.1h0M258 896.7h0M232.5 896.8h0M272.5 892h0M235.4 896h0M260.3 892.3h0M235.7 894.6h0M264.3 884.1h0M249.3 883h0"/><path class="h" d="M288.2 886.2h0M237.7 892.2h0M244.9 887.4h0M315.5 893.8h0M266.9 893.6h0M240.3 896.7h0M277.3 894h0M256.8 887.6h0M231.9 896.8h0M249 896h0M231.2 896.8h0M283.9 894.5h0M246.2 886.6h0M268.5 888.2h0M256.9 895.7h0M249.8 890.7h0M235.1 896.6h0M247.2 894.8h0M238.2 892.8h0M236 896.8h0M265.4 895.2h0M237.4 893.1h0M258 896.7h0M232.5 896.8h0M272.5 892h0M235.4 896h0M260.3 892.3h0M235.7 894.6h0M264.3 884.1h0M249.3 883h0"/><path class="m" d="M267.6 895.3h0M244.1 887.8h0M234.5 896.6h0M233.4 895.8h0M237.1 894h0M317.8 894.5h0M241.3 896.6h0M278.3 886.5h0M325.7 895.6h0M296 895h0M245.6 895.5h0M281.3 891.2h0M312.5 896h0M240.5 895.7h0M249.2 883.8h0M243.1 896.5h0M371.6 894.1h0M257.5 895.4h0M243.1 891.5h0M243.6 890.6h0M265.4 880.7h0M245.1 887h0M274.1 888.1h0M242.4 893.5h0M246.2 893.1h0M252.8 882.5h0M238.3 894.8h0M262.2 892.4h0M280.7 895.4h0M239 893.4h0"/><path class="h" d="M267.6 895.3h0M244.1 887.8h0M234.5 896.6h0M233.4 895.8h0M237.1 894h0M317.8 894.5h0M241.3 896.6h0M278.3 886.5h0M325.7 895.6h0M296 895h0M245.6 895.5h0M281.3 891.2h0M312.5 896h0M240.5 895.7h0M249.2 883.8h0M243.1 896.5h0M371.6 894.1h0M257.5 895.4h0M243.1 891.5h0M243.6 890.6h0M265.4 880.7h0M245.1 887h0M274.1 888.1h0M242.4 893.5h0M246.2 893.1h0M252.8 882.5h0M238.3 894.8h0M262.2 892.4h0M280.7 895.4h0M239 893.4h0"/><path class="m" d="M244.2 896.6h0M290.7 893.2h0M280.4 887.3h0M233.7 895.8h0M280.5 891.9h0M246.2 886.8h0M237.9 893.2h0M246.9 895.8h0M272.1 885.3h0M323.2 895.4h0M245.9 890.7h0M291.5 889.8h0M293.4 895.6h0M289.5 887.2h0M256 887h0M295.9 895.9h0M246.5 893.2h0M255.1 884h0M304.2 893.6h0M241.3 896.8h0M231.8 896.8h0M251 884.3h0M291.6 893.9h0M271.8 891.8h0M265.5 891.1h0M320.8 894.6h0M239.5 893.3h0M238.7 895.1h0M245.5 895.4h0M328.1 895.9h0"/><path class="h" d="M244.2 896.6h0M290.7 893.2h0M280.4 887.3h0M233.7 895.8h0M280.5 891.9h0M246.2 886.8h0M237.9 893.2h0M246.9 895.8h0M272.1 885.3h0M323.2 895.4h0M245.9 890.7h0M291.5 889.8h0M293.4 895.6h0M289.5 887.2h0M256 887h0M295.9 895.9h0M246.5 893.2h0M255.1 884h0M304.2 893.6h0M241.3 896.8h0M231.8 896.8h0M251 884.3h0M291.6 893.9h0M271.8 891.8h0M265.5 891.1h0M320.8 894.6h0M239.5 893.3h0M238.7 895.1h0M245.5 895.4h0M328.1 895.9h0"/><path class="m" d="M287.3 895.2h0M240.6 896.6h0M286.4 894.2h0M234.3 896.5h0M267.8 894.3h0M243.8 887.8h0M324.1 896h0M249.5 882.7h0M325 893.8h0M302 895.1h0M268.5 895.1h0M258.2 893.2h0M263.3 882.5h0M325.5 893.9h0M258.7 879.8h0M242 893.1h0M321.6 896h0M333 895h0M297.5 894.8h0M296.3 893.9h0M388.2 896.3h0M263.1 894.4h0M232 896.7h0M246.8 895.1h0M234.5 896.2h0M235.2 895.2h0M305.4 889.1h0M234.1 896h0M237.9 893.1h0M240.5 893h0"/><path class="h" d="M287.3 895.2h0M240.6 896.6h0M286.4 894.2h0M234.3 896.5h0M267.8 894.3h0M243.8 887.8h0M324.1 896h0M249.5 882.7h0M325 893.8h0M302 895.1h0M268.5 895.1h0M258.2 893.2h0M263.3 882.5h0M325.5 893.9h0M258.7 879.8h0M242 893.1h0M321.6 896h0M333 895h0M297.5 894.8h0M296.3 893.9h0M388.2 896.3h0M263.1 894.4h0M232 896.7h0M246.8 895.1h0M234.5 896.2h0M235.2 895.2h0M305.4 889.1h0M234.1 896h0M237.9 893.1h0M240.5 893h0"/><path class="m" d="M252.5 888.1h0M297.1 891h0M242.8 891.6h0M245 894.9h0M266.5 880.1h0M283.2 895h0M310.7 896h0M230.8 896.8h0M277 893h0M309.2 890.9h0M310.4 895h0M314 894h0M267.5 893.5h0M237.1 894.6h0M233.6 896.3h0M251.4 896.6h0M324.1 895.7h0M280.1 884.9h0M335.7 894.1h0M235.4 894.9h0M231.9 896.8h0M235.7 896.6h0M316.7 894.2h0M314 895.7h0M268.7 895.8h0M247.6 888.6h0M266.6 892.5h0M315.3 895.7h0M237.1 894.8h0M310.3 892.7h0"/><path class="h" d="M252.5 888.1h0M297.1 891h0M242.8 891.6h0M245 894.9h0M266.5 880.1h0M283.2 895h0M310.7 896h0M230.8 896.8h0M277 893h0M309.2 890.9h0M310.4 895h0M314 894h0M267.5 893.5h0M237.1 894.6h0M233.6 896.3h0M251.4 896.6h0M324.1 895.7h0M280.1 884.9h0M335.7 894.1h0M235.4 894.9h0M231.9 896.8h0M235.7 896.6h0M316.7 894.2h0M314 895.7h0M268.7 895.8h0M247.6 888.6h0M266.6 892.5h0M315.3 895.7h0M237.1 894.8h0M310.3 892.7h0"/><path class="m" d="M256 895h0M323 896.1h0M236.3 896.4h0M247.7 896.7h0M266.1 886.7h0M233.6 896.2h0M235 896.2h0M351.8 890.9h0M247.7 887.9h0M283.6 887.6h0M276.5 894.6h0M324.7 895.8h0M252.7 887.9h0M288.7 893h0M321.4 895h0M279.2 886.9h0M265.6 880h0M255.9 880.2h0M267.3 884.1h0M242.6 896.6h0M232.5 896.6h0M300.8 892.1h0M251.4 886.3h0M238.9 892.5h0M274.8 894.9h0M385.5 889.8h0M321.1 896h0M241.8 893.2h0M250.7 890.7h0M276.2 886.6h0"/><path class="h" d="M256 895h0M323 896.1h0M236.3 896.4h0M247.7 896.7h0M266.1 886.7h0M233.6 896.2h0M235 896.2h0M351.8 890.9h0M247.7 887.9h0M283.6 887.6h0M276.5 894.6h0M324.7 895.8h0M252.7 887.9h0M288.7 893h0M321.4 895h0M279.2 886.9h0M265.6 880h0M255.9 880.2h0M267.3 884.1h0M242.6 896.6h0M232.5 896.6h0M300.8 892.1h0M251.4 886.3h0M238.9 892.5h0M274.8 894.9h0M385.5 889.8h0M321.1 896h0M241.8 893.2h0M250.7 890.7h0M276.2 886.6h0"/><path class="m" d="M321.1 896.1h0M323.1 895.3h0M309 895.1h0M275.3 889.1h0M322.3 895.8h0M325.9 895.1h0M243.9 892.7h0M231.6 896.7h0M234.7 896.6h0M301.4 895.9h0M231.1 896.8h0M236.3 893.6h0M253.7 891.4h0M280.3 890.2h0M325.7 895.8h0M270.2 885h0M282 885.6h0M310.2 894.4h0M282.6 890.2h0M266 888.1h0M282.6 893.3h0M250.5 895.1h0M252.1 895.5h0M310.8 892.2h0M230.4 896.6h0M236.3 894.2h0M261 889.1h0M287.2 894.6h0M335.7 888.7h0M286.5 889.6h0"/><path class="h" d="M321.1 896.1h0M323.1 895.3h0M309 895.1h0M275.3 889.1h0M322.3 895.8h0M325.9 895.1h0M243.9 892.7h0M231.6 896.7h0M234.7 896.6h0M301.4 895.9h0M231.1 896.8h0M236.3 893.6h0M253.7 891.4h0M280.3 890.2h0M325.7 895.8h0M270.2 885h0M282 885.6h0M310.2 894.4h0M282.6 890.2h0M266 888.1h0M282.6 893.3h0M250.5 895.1h0M252.1 895.5h0M310.8 892.2h0M230.4 896.6h0M236.3 894.2h0M261 889.1h0M287.2 894.6h0M335.7 888.7h0M286.5 889.6h0"/><path class="m" d="M253.3 887.5h0M237.6 895.2h0M271.7 895.3h0M244.6 892.6h0M254.1 886.8h0M258.9 885.9h0M313.9 895.8h0M255.3 879.2h0M321.2 895.7h0M278.7 887.5h0M237.2 896.2h0M245.4 888.9h0M320.6 895.6h0M248 896.4h0M259.6 892.4h0M244.9 894.7h0M233 896.2h0M232.4 896.7h0M234.5 895.2h0M232.5 896.7h0M286 885.8h0M260.8 888.4h0M253.6 890.6h0M243.2 892.6h0M250.4 888.5h0M233.5 895.9h0M266.4 895.7h0M273.2 890.8h0M353.9 895h0M301.1 893.1h0"/><path class="h" d="M253.3 887.5h0M237.6 895.2h0M271.7 895.3h0M244.6 892.6h0M254.1 886.8h0M258.9 885.9h0M313.9 895.8h0M255.3 879.2h0M321.2 895.7h0M278.7 887.5h0M237.2 896.2h0M245.4 888.9h0M320.6 895.6h0M248 896.4h0M259.6 892.4h0M244.9 894.7h0M233 896.2h0M232.4 896.7h0M234.5 895.2h0M232.5 896.7h0M286 885.8h0M260.8 888.4h0M253.6 890.6h0M243.2 892.6h0M250.4 888.5h0M233.5 895.9h0M266.4 895.7h0M273.2 890.8h0M353.9 895h0M301.1 893.1h0"/><path class="m" d="M302.1 894.2h0M243.2 892.7h0M238.1 896h0M267.9 885.1h0M241.1 893.9h0M320.2 893.9h0M258.7 880.6h0M236.9 896.7h0M326.3 896.1h0M404.8 892.4h0M233.9 896.4h0M250.4 889.4h0M303.4 894.7h0M232.8 896.3h0M236.4 895.9h0M309.4 895.7h0M232.7 896.5h0M258.2 888.6h0M471.8 895.4h0M274.6 887.5h0M242.1 896.8h0M256.6 896.7h0M279.7 893.7h0M254.1 894.7h0M290.6 895h0M243.1 887.8h0M235.4 894.9h0M283 889h0M241.8 892.2h0M265.2 895.6h0"/><path class="h" d="M302.1 894.2h0M243.2 892.7h0M238.1 896h0M267.9 885.1h0M241.1 893.9h0M320.2 893.9h0M258.7 880.6h0M236.9 896.7h0M326.3 896.1h0M404.8 892.4h0M233.9 896.4h0M250.4 889.4h0M303.4 894.7h0M232.8 896.3h0M236.4 895.9h0M309.4 895.7h0M232.7 896.5h0M258.2 888.6h0M471.8 895.4h0M274.6 887.5h0M242.1 896.8h0M256.6 896.7h0M279.7 893.7h0M254.1 894.7h0M290.6 895h0M243.1 887.8h0M235.4 894.9h0M283 889h0M241.8 892.2h0M265.2 895.6h0"/><path class="m" d="M236.5 893.5h0M360.9 892.6h0M240.5 892.6h0M243.9 892.3h0M257.6 881.5h0M235.6 896h0M292 895.8h0M237.7 895.5h0M328.2 894.8h0M304.5 896h0M290.8 895.8h0M250.9 892.3h0M265.1 881.1h0M276.6 890.4h0M274.4 895.1h0M261.1 892.3h0M232.7 896.6h0M254.7 881.9h0M235.7 895.6h0M292.5 891.3h0M231.2 896.8h0M282.1 896h0M244 895.5h0M268 892.9h0M285.4 891h0M251.9 895.2h0M239.9 892.1h0M294.5 891.4h0M258.1 881.8h0M246 896.6h0"/><path class="h" d="M236.5 893.5h0M360.9 892.6h0M240.5 892.6h0M243.9 892.3h0M257.6 881.5h0M235.6 896h0M292 895.8h0M237.7 895.5h0M328.2 894.8h0M304.5 896h0M290.8 895.8h0M250.9 892.3h0M265.1 881.1h0M276.6 890.4h0M274.4 895.1h0M261.1 892.3h0M232.7 896.6h0M254.7 881.9h0M235.7 895.6h0M292.5 891.3h0M231.2 896.8h0M282.1 896h0M244 895.5h0M268 892.9h0M285.4 891h0M251.9 895.2h0M239.9 892.1h0M294.5 891.4h0M258.1 881.8h0M246 896.6h0"/><path class="m" d="M276.8 891.7h0M255.7 883.6h0M299.4 894.5h0M240.1 896.6h0M370.5 889.8h0M243.1 894.2h0M265.2 883.9h0M234.9 896.4h0M258.6 889.2h0M282.7 894.5h0M233.9 895.8h0M233.7 896.4h0M258.4 703.4h0"/><path class="h" d="M276.8 891.7h0M255.7 883.6h0M299.4 894.5h0M240.1 896.6h0M370.5 889.8h0M243.1 894.2h0M265.2 883.9h0M234.9 896.4h0M258.6 889.2h0M282.7 894.5h0M233.9 895.8h0M233.7 896.4h0M258.4 703.4h0"/></g>
<g stroke="#1F63FF"><path class="m" d="M240.7 877.6h0M229 790h0M249.3 877h0M231.2 856.4h0M229.2 893.5h0M232.5 865.7h0M229 805.5h0M246.2 881.8h0M229.2 865.9h0M249.3 877.8h0M229.2 891.6h0M229.2 863.2h0M249.7 878.2h0M229.2 880h0M229.2 862.7h0M229 879.9h0M230.8 876.1h0M247.4 877.9h0M229 844h0M234.3 889.6h0M239.1 886.5h0M247 880.1h0M229.2 886.4h0M241.2 883.3h0M242.5 880.3h0M229.2 887.3h0M231.7 888.7h0M229.2 864h0M244.5 880.3h0M229.1 873.1h0"/><path class="h" d="M240.7 877.6h0M229 790h0M249.3 877h0M231.2 856.4h0M229.2 893.5h0M232.5 865.7h0M229 805.5h0M246.2 881.8h0M229.2 865.9h0M249.3 877.8h0M229.2 891.6h0M229.2 863.2h0M249.7 878.2h0M229.2 880h0M229.2 862.7h0M229 879.9h0M230.8 876.1h0M247.4 877.9h0M229 844h0M234.3 889.6h0M239.1 886.5h0M247 880.1h0M229.2 886.4h0M241.2 883.3h0M242.5 880.3h0M229.2 887.3h0M231.7 888.7h0M229.2 864h0M244.5 880.3h0M229.1 873.1h0"/><path class="m" d="M250.6 878.4h0M229.2 853.5h0M242.5 883.7h0M243.7 878h0M242.1 880.5h0M229.2 856.2h0M237.9 875.3h0M228.6 854.1h0M241.9 881.1h0M236.2 870.9h0M235 874.1h0M246.9 880.3h0M233.8 887.6h0M236.5 887.3h0M251.4 877.5h0M233.3 882h0M231.1 878h0M246 878.5h0M238.3 888h0M244.6 882.5h0M251.2 876.6h0M229.6 867.4h0M248.5 876.6h0M230.7 866.2h0M237.1 886.9h0M253 876.5h0M243.7 878.9h0M228.8 862.7h0M244.3 881.4h0M229.2 866.5h0"/><path class="h" d="M250.6 878.4h0M229.2 853.5h0M242.5 883.7h0M243.7 878h0M242.1 880.5h0M229.2 856.2h0M237.9 875.3h0M228.6 854.1h0M241.9 881.1h0M236.2 870.9h0M235 874.1h0M246.9 880.3h0M233.8 887.6h0M236.5 887.3h0M251.4 877.5h0M233.3 882h0M231.1 878h0M246 878.5h0M238.3 888h0M244.6 882.5h0M251.2 876.6h0M229.6 867.4h0M248.5 876.6h0M230.7 866.2h0M237.1 886.9h0M253 876.5h0M243.7 878.9h0M228.8 862.7h0M244.3 881.4h0M229.2 866.5h0"/><path class="m" d="M229 871.6h0M240.5 878.8h0M239.7 887.4h0M239 876.6h0M236.4 879.9h0M230.8 874.2h0M249.9 878.6h0M230.1 875.1h0M239.1 886.9h0M243.3 884.4h0M234.5 888.9h0M229 884.9h0M228.7 880.4h0M233.9 876.9h0M236.4 879.8h0M240.3 885.1h0M244 883h0M238.8 886.9h0M248.7 877.2h0M242.7 876.4h0M245.9 876.6h0M229.6 878.3h0M242.2 880.2h0M231.1 872.5h0M229 817h0M229.2 869.2h0M235 882.3h0M229.2 865h0M228.9 857.8h0M235.8 890h0"/><path class="h" d="M229 871.6h0M240.5 878.8h0M239.7 887.4h0M239 876.6h0M236.4 879.9h0M230.8 874.2h0M249.9 878.6h0M230.1 875.1h0M239.1 886.9h0M243.3 884.4h0M234.5 888.9h0M229 884.9h0M228.7 880.4h0M233.9 876.9h0M236.4 879.8h0M240.3 885.1h0M244 883h0M238.8 886.9h0M248.7 877.2h0M242.7 876.4h0M245.9 876.6h0M229.6 878.3h0M242.2 880.2h0M231.1 872.5h0M229 817h0M229.2 869.2h0M235 882.3h0M229.2 865h0M228.9 857.8h0M235.8 890h0"/><path class="m" d="M245.9 879.2h0M235.5 885.5h0M244.7 880.4h0M239.3 886.7h0M241.6 877.5h0M239 885.5h0M239.1 881.6h0M238 887.1h0M252.9 876.6h0M233.2 892.7h0M231.7 889.2h0M252.8 876.8h0M229.2 856.9h0M236.6 874.1h0M243.9 881.4h0M247.1 876.7h0M241.4 876.6h0M249.5 879.3h0M245 881h0M242 880.7h0M251.9 877.6h0M233.8 878h0M230.3 894.9h0M231.4 861.4h0M236.7 889.1h0M253.4 876.4h0M236.8 874.1h0M248.8 876.7h0M230.7 893.7h0M237.7 882.3h0"/><path class="h" d="M245.9 879.2h0M235.5 885.5h0M244.7 880.4h0M239.3 886.7h0M241.6 877.5h0M239 885.5h0M239.1 881.6h0M238 887.1h0M252.9 876.6h0M233.2 892.7h0M231.7 889.2h0M252.8 876.8h0M229.2 856.9h0M236.6 874.1h0M243.9 881.4h0M247.1 876.7h0M241.4 876.6h0M249.5 879.3h0M245 881h0M242 880.7h0M251.9 877.6h0M233.8 878h0M230.3 894.9h0M231.4 861.4h0M236.7 889.1h0M253.4 876.4h0M236.8 874.1h0M248.8 876.7h0M230.7 893.7h0M237.7 882.3h0"/><path class="m" d="M240.7 885.1h0M229.2 872.7h0M229.2 885.4h0M228.9 885.9h0M242.1 880.9h0M236.7 886.8h0M234.2 870.2h0M230.1 856.3h0M249.6 878.7h0M236 878.1h0M247.7 879.8h0M229.2 857.7h0M249.2 878.4h0M237.2 889.4h0M235.7 890.7h0M229.1 890.6h0M240.2 885.9h0M236.6 870.9h0M233.6 883.5h0M229.6 874.5h0M236.1 881.3h0M234 871.4h0M229.2 862h0M231.2 874.5h0M248.5 877.2h0M252.7 876.6h0M238.6 887.8h0M252.3 877h0M229.6 889.8h0M249.5 878.8h0"/><path class="h" d="M240.7 885.1h0M229.2 872.7h0M229.2 885.4h0M228.9 885.9h0M242.1 880.9h0M236.7 886.8h0M234.2 870.2h0M230.1 856.3h0M249.6 878.7h0M236 878.1h0M247.7 879.8h0M229.2 857.7h0M249.2 878.4h0M237.2 889.4h0M235.7 890.7h0M229.1 890.6h0M240.2 885.9h0M236.6 870.9h0M233.6 883.5h0M229.6 874.5h0M236.1 881.3h0M234 871.4h0M229.2 862h0M231.2 874.5h0M248.5 877.2h0M252.7 876.6h0M238.6 887.8h0M252.3 877h0M229.6 889.8h0M249.5 878.8h0"/><path class="m" d="M232.8 862.1h0M242.4 882.8h0M228.9 862h0M249.4 879.6h0M246.2 877.6h0M249.4 877.8h0M233 872.4h0M234.1 880.7h0M245.8 880.9h0M229.2 888.9h0M229.2 873.7h0M235.6 881.4h0M244.4 882.3h0M247.8 880.9h0M247.7 877.2h0M244.7 881.1h0M243.8 883h0M229.2 871.4h0M231.2 893.7h0M233.1 875.1h0M236.2 886.4h0M231.6 892.4h0M241.5 879.8h0M229.2 878.3h0M249.7 879.1h0M233.6 864.9h0M229.2 868h0M229.2 895.3h0M229.2 876.3h0M229.2 859.3h0"/><path class="h" d="M232.8 862.1h0M242.4 882.8h0M228.9 862h0M249.4 879.6h0M246.2 877.6h0M249.4 877.8h0M233 872.4h0M234.1 880.7h0M245.8 880.9h0M229.2 888.9h0M229.2 873.7h0M235.6 881.4h0M244.4 882.3h0M247.8 880.9h0M247.7 877.2h0M244.7 881.1h0M243.8 883h0M229.2 871.4h0M231.2 893.7h0M233.1 875.1h0M236.2 886.4h0M231.6 892.4h0M241.5 879.8h0M229.2 878.3h0M249.7 879.1h0M233.6 864.9h0M229.2 868h0M229.2 895.3h0M229.2 876.3h0M229.2 859.3h0"/><path class="m" d="M251.4 877h0M232 892.6h0M243.2 881.8h0M236.2 872.8h0M232.4 882h0M229.2 882.4h0M240.4 886.1h0M229.2 889.6h0M251.8 877.6h0M229.7 877.6h0M229.2 867h0M229 839.1h0M252.1 876.5h0M229.2 858.4h0M236 890.5h0M233.8 880.3h0M229.2 892.6h0M229.2 874.6h0M236.8 879.3h0M229.6 880.7h0M240.8 883.3h0M246.5 876.7h0M252.5 876.9h0M229.2 870.7h0M250.5 876.9h0M248.6 878.7h0M237.1 879.1h0M229.2 861h0M229.2 860h0M229.2 884.7h0"/><path class="h" d="M251.4 877h0M232 892.6h0M243.2 881.8h0M236.2 872.8h0M232.4 882h0M229.2 882.4h0M240.4 886.1h0M229.2 889.6h0M251.8 877.6h0M229.7 877.6h0M229.2 867h0M229 839.1h0M252.1 876.5h0M229.2 858.4h0M236 890.5h0M233.8 880.3h0M229.2 892.6h0M229.2 874.6h0M236.8 879.3h0M229.6 880.7h0M240.8 883.3h0M246.5 876.7h0M252.5 876.9h0M229.2 870.7h0M250.5 876.9h0M248.6 878.7h0M237.1 879.1h0M229.2 861h0M229.2 860h0M229.2 884.7h0"/><path class="m" d="M232.6 885.7h0M240.5 877.2h0M234.7 890.7h0M241 883.1h0M229.7 868.7h0M244.7 881.9h0M229 861h0M244.1 880.7h0M228.8 883.1h0M243 882.8h0M243.5 882.1h0M242.5 885.2h0M244.2 876.9h0M247.9 879.8h0M246.6 880.7h0M242.8 884.6h0M229 851.7h0M252.5 877.2h0M250.7 878.3h0M242.6 884.6h0M245.5 878h0M241.1 883.3h0M229.2 880.8h0M229.2 894.2h0M252.4 877.1h0M235.8 885h0M229.7 885.5h0M240.4 881.7h0M233.1 865h0M229 682.1h0"/><path class="h" d="M232.6 885.7h0M240.5 877.2h0M234.7 890.7h0M241 883.1h0M229.7 868.7h0M244.7 881.9h0M229 861h0M244.1 880.7h0M228.8 883.1h0M243 882.8h0M243.5 882.1h0M242.5 885.2h0M244.2 876.9h0M247.9 879.8h0M246.6 880.7h0M242.8 884.6h0M229 851.7h0M252.5 877.2h0M250.7 878.3h0M242.6 884.6h0M245.5 878h0M241.1 883.3h0M229.2 880.8h0M229.2 894.2h0M252.4 877.1h0M235.8 885h0M229.7 885.5h0M240.4 881.7h0M233.1 865h0M229 682.1h0"/><path class="m" d="M248.3 877.9h0M248.3 879.6h0M229.2 896.1h0M231.5 890.7h0M251.8 876.9h0M229.2 861.5h0M228.7 895.5h0M229 848.2h0M247.5 881.2h0M243.3 882.3h0M229.4 890.2h0M247.3 879.6h0M231.1 891.4h0M228.8 863.6h0M249.4 879.2h0M242 881h0M233.3 886.1h0M239.2 877.2h0M251.2 878.2h0M236.3 890.2h0M236.5 875h0M246.1 881.7h0M246.3 880.7h0M247.6 878.6h0M252.9 876.8h0M229.2 854.3h0M236.9 889.7h0M233.8 885.7h0M229.1 885.2h0M246.8 879.2h0"/><path class="h" d="M248.3 877.9h0M248.3 879.6h0M229.2 896.1h0M231.5 890.7h0M251.8 876.9h0M229.2 861.5h0M228.7 895.5h0M229 848.2h0M247.5 881.2h0M243.3 882.3h0M229.4 890.2h0M247.3 879.6h0M231.1 891.4h0M228.8 863.6h0M249.4 879.2h0M242 881h0M233.3 886.1h0M239.2 877.2h0M251.2 878.2h0M236.3 890.2h0M236.5 875h0M246.1 881.7h0M246.3 880.7h0M247.6 878.6h0M252.9 876.8h0M229.2 854.3h0M236.9 889.7h0M233.8 885.7h0M229.1 885.2h0M246.8 879.2h0"/><path class="m" d="M238.1 888.5h0M229.1 890.8h0M235.8 869.9h0M234 887.7h0M230.8 887.1h0M238.4 883.6h0M242.3 880.3h0M241.7 879.9h0M230.1 875.4h0M232.6 885.8h0M232.8 893h0M233.3 880.1h0M240 879.2h0M231.1 864.6h0M245.6 882.4h0M244 880.6h0M229.2 890.3h0M237 872.4h0M230.5 871.2h0M231.2 859.5h0M231.2 859.6h0M229.1 888.9h0M240.9 884.9h0M229 826h0M245.4 881.9h0M229.2 872.1h0M247.7 879.8h0M248 879.8h0M252.4 876.8h0M239.5 879.7h0"/><path class="h" d="M238.1 888.5h0M229.1 890.8h0M235.8 869.9h0M234 887.7h0M230.8 887.1h0M238.4 883.6h0M242.3 880.3h0M241.7 879.9h0M230.1 875.4h0M232.6 885.8h0M232.8 893h0M233.3 880.1h0M240 879.2h0M231.1 864.6h0M245.6 882.4h0M244 880.6h0M229.2 890.3h0M237 872.4h0M230.5 871.2h0M231.2 859.5h0M231.2 859.6h0M229.1 888.9h0M240.9 884.9h0M229 826h0M245.4 881.9h0M229.2 872.1h0M247.7 879.8h0M248 879.8h0M252.4 876.8h0M239.5 879.7h0"/><path class="m" d="M237.8 889h0M248 880.4h0M234.6 868.3h0M230.6 874.2h0M247.7 877.4h0M229.2 855.7h0M238.1 877.7h0M243.6 877.3h0M232.4 857.3h0M229.2 892.1h0M229.3 894.7h0M236.9 885.8h0M232.6 887h0M243.1 884.8h0M231.4 890h0M237.8 887.5h0M248.6 879.3h0M244.7 879.1h0M229 833.2h0M248.2 877.5h0M229.2 884.2h0M229 768.5h0M230.6 879.4h0M246.4 881.1h0M246.6 880.4h0M229.2 883.3h0M229.7 858.5h0M250.1 877.3h0M241.6 884.4h0M230.9 879.5h0"/><path class="h" d="M237.8 889h0M248 880.4h0M234.6 868.3h0M230.6 874.2h0M247.7 877.4h0M229.2 855.7h0M238.1 877.7h0M243.6 877.3h0M232.4 857.3h0M229.2 892.1h0M229.3 894.7h0M236.9 885.8h0M232.6 887h0M243.1 884.8h0M231.4 890h0M237.8 887.5h0M248.6 879.3h0M244.7 879.1h0M229 833.2h0M248.2 877.5h0M229.2 884.2h0M229 768.5h0M230.6 879.4h0M246.4 881.1h0M246.6 880.4h0M229.2 883.3h0M229.7 858.5h0M250.1 877.3h0M241.6 884.4h0M230.9 879.5h0"/><path class="m" d="M249.8 876.6h0M234.9 870.9h0M237.9 888.2h0M232 887h0M242.4 876.7h0M235.9 888.7h0M252.5 876.4h0M246.2 878.9h0M229.1 866.6h0M229.2 877.3h0M229.2 875.7h0M238.9 887.3h0M229.2 881.5h0M229.2 883.8h0M229.2 894.9h0M231 890.2h0M249 879.5h0M235.2 888.5h0M246.6 878.3h0M246.8 881.6h0M242 884.3h0M234.5 885.9h0M235.4 885.6h0M244.9 880.5h0M229.2 855.2h0M237 886.7h0M233.5 874.8h0M229.8 893h0M247 880.5h0M229 736.1h0"/><path class="h" d="M249.8 876.6h0M234.9 870.9h0M237.9 888.2h0M232 887h0M242.4 876.7h0M235.9 888.7h0M252.5 876.4h0M246.2 878.9h0M229.1 866.6h0M229.2 877.3h0M229.2 875.7h0M238.9 887.3h0M229.2 881.5h0M229.2 883.8h0M229.2 894.9h0M231 890.2h0M249 879.5h0M235.2 888.5h0M246.6 878.3h0M246.8 881.6h0M242 884.3h0M234.5 885.9h0M235.4 885.6h0M244.9 880.5h0M229.2 855.2h0M237 886.7h0M233.5 874.8h0M229.8 893h0M247 880.5h0M229 736.1h0"/><path class="m" d="M229.2 890.9h0M247.5 877.3h0M229.2 879.2h0M241.2 885.3h0M240.6 885.6h0M232.9 872.9h0M247.5 877.9h0M248.5 878h0M242.8 881.3h0M246 880.3h0M253.1 876.7h0M229.2 868.5h0M238.2 878.9h0M246.5 881.7h0M249.3 879.3h0M242.4 884.9h0M237.2 877.1h0M247.6 880h0M240.8 880.3h0M246.2 881.5h0M229.8 871.6h0M230.2 892.8h0M232.6 873.2h0M242.9 877.9h0M228.9 877.1h0M244.9 881.6h0M229 890.2h0M228.6 886.9h0M249.6 878.6h0M228.7 871h0"/><path class="h" d="M229.2 890.9h0M247.5 877.3h0M229.2 879.2h0M241.2 885.3h0M240.6 885.6h0M232.9 872.9h0M247.5 877.9h0M248.5 878h0M242.8 881.3h0M246 880.3h0M253.1 876.7h0M229.2 868.5h0M238.2 878.9h0M246.5 881.7h0M249.3 879.3h0M242.4 884.9h0M237.2 877.1h0M247.6 880h0M240.8 880.3h0M246.2 881.5h0M229.8 871.6h0M230.2 892.8h0M232.6 873.2h0M242.9 877.9h0M228.9 877.1h0M244.9 881.6h0M229 890.2h0M228.6 886.9h0M249.6 878.6h0M228.7 871h0"/><path class="m" d="M249.5 879.2h0M237 873.3h0M238.4 887h0M242.8 880.6h0M229 865h0M249.3 879.4h0M248.7 879.9h0M229.2 869.9h0M229.2 895.4h0M237.9 882.5h0M228.6 891.1h0M247.3 881.4h0M229.2 864.5h0M229.2 888h0M247.6 878h0M231.1 860.9h0M249.7 878.6h0M251.2 877.5h0M251 877.8h0M245.4 881.3h0M243.6 878h0M229.8 885.4h0M234.7 877h0M247.1 879.4h0M247.5 879.7h0M258.4 688.3h0"/><path class="h" d="M249.5 879.2h0M237 873.3h0M238.4 887h0M242.8 880.6h0M229 865h0M249.3 879.4h0M248.7 879.9h0M229.2 869.9h0M229.2 895.4h0M237.9 882.5h0M228.6 891.1h0M247.3 881.4h0M229.2 864.5h0M229.2 888h0M247.6 878h0M231.1 860.9h0M249.7 878.6h0M251.2 877.5h0M251 877.8h0M245.4 881.3h0M243.6 878h0M229.8 885.4h0M234.7 877h0M247.1 879.4h0M247.5 879.7h0M258.4 688.3h0"/></g>
<path d="M228.6 897.2L496.4 681.3" stroke="#6E0612" stroke-width="2" stroke-linecap="round" fill="none"/>
<g stroke="#fff" stroke-width="0.7" stroke-linejoin="round">
<path d="M357.5 833.7A48.5 26.4 0 0 0 406 860.1v12.8A48.5 26.4 0 0 1 357.5 846.5z" fill="#FE1D49"/>
<path d="M406 860.1A48.5 26.4 0 0 0 454.5 833.7v12.8A48.5 26.4 0 0 1 406 872.9z" fill="#1F63FF"/>
<path d="M406 833.7L406 860.1A48.5 26.4 0 0 1 364.4 820.1z" fill="#FE1D49"/>
<path d="M406 833.7L364.4 820.1A48.5 26.4 0 1 1 406 860.1z" fill="#1F63FF"/>
</g>
<rect x="407.8" y="779" width="23.6" height="11.4" fill="#FE1D49"/>
<rect x="407.8" y="792.7" width="23.6" height="11.4" fill="#1F63FF"/>
<g class="t" font-size="11.3">
<text x="435.5" y="788.3">Shear crack</text>
<text x="435.5" y="802">Tensile crack</text>
</g>
<text class="pb" x="447.8" y="818.4">66.41%</text>
<text class="pr" x="364.3" y="868.6" text-anchor="end">33.59%</text>
<text class="t" x="357.9" y="969.4" font-size="22.5" text-anchor="middle">(e) FT-40</text>
</g>
</svg>
</body>
</html>
